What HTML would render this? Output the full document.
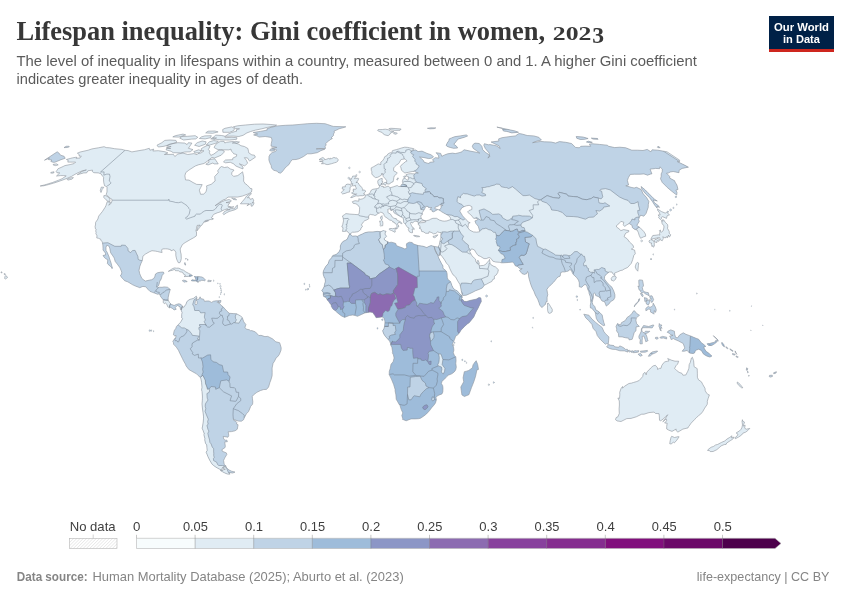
<!DOCTYPE html>
<html lang="en"><head><meta charset="utf-8"><title>Lifespan inequality: Gini coefficient in women, 2023</title>
<style>
html,body{margin:0;padding:0;background:#fff}
svg{display:block}
text{font-family:"Liberation Sans",sans-serif}
.title{font-family:"Liberation Serif",serif;font-weight:700;font-size:26.5px;fill:#373737}
.sub{font-size:14.7px;fill:#5b5b5b}
.lg{font-size:12.2px;fill:#3f3f3f}
.ft{font-size:12.8px;fill:#858585}
.logo{font-weight:700;font-size:11.8px;fill:#fff}
</style></head><body>
<svg width="850" height="600" viewBox="0 0 850 600">
<rect width="850" height="600" fill="#fff"/>
<text x="16.5" y="40.4" class="title"><tspan textLength="528.5" lengthAdjust="spacingAndGlyphs">Lifespan inequality: Gini coefficient in women,</tspan> <tspan x="552.8" y="40.4" style="font-size:18.4px" textLength="38.6" lengthAdjust="spacingAndGlyphs">202</tspan><tspan x="592.2" y="43.2" style="font-size:22.4px" textLength="11.8" lengthAdjust="spacingAndGlyphs">3</tspan></text>
<text x="16.5" y="66.2" class="sub" textLength="680.5" lengthAdjust="spacingAndGlyphs">The level of inequality in lifespans within a country, measured between 0 and 1. A higher Gini coefficient</text>
<text x="16.5" y="84.2" class="sub" textLength="286.5" lengthAdjust="spacingAndGlyphs">indicates greater inequality in ages of death.</text>
<g><rect x="769" y="16" width="65" height="36" fill="#002147"/><rect x="769" y="49" width="65" height="3" fill="#ce261e"/>
<text x="801.5" y="31" text-anchor="middle" class="logo" textLength="55" lengthAdjust="spacingAndGlyphs">Our World</text>
<text x="801.5" y="42.9" text-anchor="middle" class="logo" textLength="37" lengthAdjust="spacingAndGlyphs">in Data</text></g>
<g id="map">
<defs><clipPath id="land"><path d="M349.2,234.6L350.5,234.3L352.4,236.2L355.5,235.9L357.3,236.4L359.9,235.1L362.3,234.0L364.9,232.7L368.6,231.9L373.0,231.9L377.1,231.4L380.8,231.7L383.4,230.6L384.5,230.9L386.1,231.4L385.0,233.0L385.3,234.6L386.5,236.2L384.3,238.5L384.4,239.8L386.6,241.2L389.3,242.5L391.3,242.2L393.6,242.7L395.8,243.5L396.4,245.6L399.1,246.7L402.3,247.8L405.0,249.1L406.9,247.5L406.3,245.1L406.7,243.5L409.3,242.2L412.2,242.5L413.6,244.1L415.4,244.6L418.2,245.6L422.9,246.2L426.8,247.5L428.9,246.4L431.1,245.6L433.3,246.2L434.0,246.4L435.0,250.1L437.7,255.1L438.6,257.8L439.9,260.4L441.5,263.6L443.0,266.0L442.9,268.3L446.3,271.0L447.1,273.6L447.3,277.3L447.9,279.4L450.5,281.5L451.9,285.5L453.1,287.9L454.8,289.7L457.2,290.8L460.1,294.2L461.8,295.5L462.3,297.6L461.2,298.7L462.2,298.9L464.1,301.3L466.4,301.6L469.9,300.5L473.3,299.7L476.1,299.2L479.0,297.6L480.9,297.9L481.3,301.6L480.0,303.9L478.2,307.9L476.0,311.9L473.8,317.1L469.2,322.7L467.6,323.7L464.6,326.4L461.1,330.1L459.0,333.5L457.4,335.1L455.7,336.1L454.5,339.6L453.3,342.2L452.3,344.8L453.5,346.9L453.9,350.1L453.3,352.7L454.4,355.4L455.8,356.7L456.1,360.7L455.8,363.3L456.3,367.2L455.7,369.9L454.2,372.0L451.8,373.8L448.3,375.2L446.8,376.5L444.6,379.1L442.0,381.2L441.4,383.6L442.7,385.7L443.0,388.3L442.8,392.0L442.0,393.9L438.0,395.5L435.9,397.3L436.4,399.7L435.5,402.9L433.9,405.2L431.5,407.9L429.4,410.8L426.5,413.9L423.9,416.0L420.6,418.2L418.6,418.7L415.0,418.9L411.0,418.9L406.1,420.8L403.5,419.7L402.6,419.5L402.7,418.4L401.8,415.5L402.8,412.9L401.2,409.4L400.0,405.5L399.2,404.4L397.5,401.5L396.2,399.2L395.9,394.9L395.1,391.0L395.1,389.4L393.6,384.4L391.4,379.1L389.2,374.6L389.3,371.2L390.2,368.6L391.0,364.3L393.1,361.7L394.1,358.0L393.4,354.8L392.3,352.7L392.7,352.2L391.9,347.5L390.7,345.1L390.5,343.5L389.6,341.1L387.7,339.0L385.4,336.4L383.8,334.0L382.6,330.8L383.8,329.0L384.2,327.9L384.5,326.4L384.9,322.9L384.9,321.1L384.2,318.7L382.8,317.1L381.4,317.1L378.4,317.4L376.1,317.7L374.7,315.3L372.6,312.4L370.0,312.1L367.7,312.4L364.9,312.9L361.6,314.4L359.8,315.3L357.4,316.3L355.1,315.5L352.8,315.0L349.3,315.5L344.6,317.4L341.2,315.8L337.0,312.4L335.4,310.8L333.1,309.2L331.4,306.6L331.2,304.7L330.3,303.9L328.5,301.3L327.3,300.0L326.0,297.6L323.5,296.3L323.3,294.4L323.3,292.6L321.7,290.2L322.7,289.4L324.1,286.8L324.6,284.2L325.4,281.3L325.0,278.1L324.3,277.8L323.2,274.1L323.1,272.8L323.6,270.4L325.7,266.5L328.1,263.8L329.3,260.2L331.6,257.8L332.4,255.9L333.1,255.4L336.2,254.4L339.2,251.7L340.4,248.8L340.3,245.9L341.5,243.3L343.3,241.2L345.3,240.4L347.1,239.3L348.3,236.7Z"/><path d="M476.2,360.7L477.7,364.6L478.5,369.4L476.9,369.9L475.6,376.2L473.8,381.8L471.5,387.6L468.9,394.7L464.4,396.5L461.9,394.9L461.3,390.7L460.8,387.0L463.7,381.8L463.1,377.8L464.3,371.7L466.4,371.2L468.8,370.4L472.4,367.8L473.0,364.9L475.0,362.0Z"/><path d="M350.3,233.8L349.9,234.0L348.3,232.7L346.9,230.9L344.9,231.4L342.5,231.4L343.1,227.7L341.8,226.9L342.7,224.6L343.5,220.9L343.2,218.0L342.4,216.0L344.4,214.7L345.9,213.6L349.9,214.1L354.1,214.4L358.3,214.7L359.2,213.1L359.6,209.2L359.6,207.4L357.6,204.8L355.9,203.8L353.1,203.3L352.3,201.7L355.0,200.7L358.8,201.2L358.9,198.5L359.9,199.4L362.3,198.9L365.1,197.4L365.3,195.3L367.1,194.8L368.9,194.1L370.1,192.5L371.4,190.0L372.8,189.3L375.9,188.8L378.0,188.5L379.0,187.8L379.5,186.5L378.8,185.0L378.0,183.5L377.7,181.3L378.5,179.8L380.9,178.6L382.2,178.3L382.2,180.1L381.9,181.3L383.1,181.8L381.8,183.0L381.1,184.3L380.6,185.5L381.7,186.5L383.6,186.5L383.5,187.5L385.8,187.0L388.3,186.0L390.0,187.8L393.4,186.8L397.2,185.5L398.7,186.5L400.8,186.5L401.0,185.3L402.9,183.3L402.4,181.3L403.2,178.8L405.1,178.3L407.0,180.1L408.2,180.1L408.4,178.1L408.4,176.6L406.4,176.1L406.0,174.7L408.5,173.9L410.7,173.7L414.4,173.9L416.1,173.0L418.3,173.0L416.0,172.3L414.8,171.3L412.1,171.5L408.5,172.3L404.9,173.0L403.3,171.8L401.5,170.3L401.0,167.9L400.4,166.5L401.1,165.3L403.3,163.5L405.6,161.6L407.1,160.9L405.3,159.3L404.4,159.0L401.1,159.5L400.2,160.9L399.5,162.3L398.5,163.7L396.4,165.1L394.6,166.8L393.7,167.9L393.6,170.3L393.9,171.1L396.2,172.0L397.3,173.2L396.0,174.4L394.3,175.9L393.8,177.6L393.5,180.1L392.9,182.0L392.1,182.0L389.8,183.5L389.6,184.0L387.3,184.0L386.6,182.5L386.8,180.8L384.9,178.3L383.3,176.6L382.9,175.2L382.0,173.0L381.3,175.2L379.1,176.6L377.3,177.4L375.4,177.6L372.8,175.4L371.8,173.9L371.9,171.8L371.3,170.3L371.2,167.9L373.4,166.8L376.0,165.3L378.2,163.9L380.8,164.6L380.8,162.1L382.5,160.9L384.0,158.6L384.7,156.7L387.0,155.6L387.8,154.0L390.2,152.7L391.8,153.1L392.4,150.7L394.0,150.2L396.4,149.6L398.8,148.9L401.5,148.0L404.7,147.2L407.6,147.4L409.4,147.8L413.9,148.7L412.5,150.2L415.8,150.0L418.1,151.6L422.0,151.1L427.0,153.4L430.9,154.7L433.5,156.7L432.0,158.1L428.7,158.6L423.1,157.4L419.5,157.0L423.4,160.4L424.0,162.1L427.4,163.2L429.2,163.5L429.8,162.3L434.1,161.8L432.5,159.7L435.3,157.7L439.0,158.1L438.3,155.2L436.1,152.7L440.7,153.4L441.8,156.3L444.7,154.9L447.7,153.8L452.5,153.1L455.3,153.6L459.1,152.7L462.0,151.8L463.6,150.0L464.4,149.8L470.1,151.1L473.9,151.8L475.9,152.2L479.8,153.1L476.6,150.7L473.3,148.5L472.3,146.3L473.3,144.2L475.0,143.1L479.3,143.5L481.8,146.3L482.7,149.6L485.2,152.2L488.0,154.0L490.0,156.3L487.9,158.1L489.6,155.2L489.0,152.9L485.3,148.5L483.8,145.2L484.4,143.7L488.4,144.8L489.9,144.6L493.6,145.2L496.6,145.9L500.2,148.5L499.0,145.9L491.1,142.0L498.9,141.0L498.6,138.9L502.0,137.7L508.7,136.7L515.4,135.9L519.0,133.5L522.3,134.1L527.2,135.5L533.8,135.9L538.8,137.3L541.4,140.0L537.1,141.0L532.6,142.7L536.7,142.0L540.8,141.4L544.5,141.8L551.1,142.0L555.6,143.1L559.4,141.6L565.8,142.3L571.5,143.5L575.5,147.4L579.3,147.8L580.8,146.3L585.4,146.1L590.6,146.3L589.4,144.2L592.0,143.7L599.4,144.4L607.2,145.2L608.7,146.3L614.7,147.6L619.9,147.2L625.8,147.8L631.8,150.2L637.7,150.2L643.0,150.5L647.2,149.4L650.9,151.8L652.1,149.8L657.8,150.2L667.0,151.8L679.7,160.2L679.4,161.8L677.3,161.6L685.5,165.6L688.4,167.2L682.1,168.4L679.1,170.3L679.0,172.7L673.2,171.5L670.1,172.0L668.5,173.0L666.5,173.2L669.7,176.4L669.7,178.1L674.7,180.8L675.0,182.0L676.9,185.0L678.0,189.5L675.9,190.0L677.0,192.5L676.7,195.1L671.8,191.3L667.3,187.5L662.3,182.5L660.5,178.8L661.2,176.4L661.2,173.9L662.2,171.8L662.3,169.1L659.9,166.8L659.6,168.7L655.4,168.4L654.1,168.7L650.1,169.1L651.9,173.9L650.9,173.9L647.6,175.2L644.0,173.9L640.0,174.2L634.4,174.2L630.3,174.4L628.4,177.6L627.4,180.5L628.6,185.0L625.8,185.8L631.8,187.5L634.2,188.0L636.5,187.3L641.1,189.5L643.2,193.8L646.6,197.6L648.9,201.5L648.3,204.5L648.2,207.4L647.1,210.5L646.0,213.6L643.8,216.2L640.7,215.2L639.4,217.3L638.6,219.6L639.3,221.2L638.0,223.5L636.8,225.4L639.9,227.5L643.7,231.4L645.4,234.0L645.7,236.2L643.4,236.9L640.6,238.3L639.2,235.4L638.4,232.7L637.2,230.1L634.5,229.3L632.3,227.5L632.1,225.4L629.2,223.5L626.9,224.8L624.6,226.4L623.2,224.8L623.8,222.2L620.9,221.4L618.8,223.8L616.5,225.6L616.5,226.9L619.0,228.8L620.9,230.6L623.7,229.6L626.1,230.1L628.8,230.6L628.8,231.7L625.9,233.0L625.2,234.0L624.1,236.7L627.2,238.8L629.5,242.0L632.9,245.1L633.7,247.2L632.3,248.6L631.4,249.1L634.6,250.1L635.3,253.8L633.8,255.4L632.7,259.6L631.3,263.3L630.2,264.6L627.6,267.5L624.0,269.1L622.4,270.2L620.9,270.4L617.7,271.8L614.5,273.1L614.9,275.5L612.7,273.6L612.0,272.0L609.3,272.0L606.6,273.9L604.7,276.2L604.4,278.9L606.7,282.0L609.8,285.5L611.6,286.8L613.7,290.8L614.9,294.7L614.9,297.3L613.5,300.0L610.6,301.6L609.2,303.7L606.3,306.1L605.2,303.2L604.4,301.6L602.0,301.0L600.7,298.9L598.9,296.8L595.7,295.5L595.3,293.7L594.3,293.1L593.3,293.9L593.4,297.3L592.7,300.0L592.2,302.6L593.0,304.7L594.8,306.6L595.9,310.0L598.0,311.1L599.8,312.6L602.2,315.0L602.8,318.4L603.8,322.4L604.8,325.3L603.2,325.6L600.1,323.2L598.0,321.4L596.3,318.4L595.7,314.8L595.1,312.1L593.8,310.8L592.8,309.2L591.1,307.9L590.4,307.9L590.3,305.3L590.8,302.6L590.5,298.7L590.3,296.6L589.1,293.4L588.9,291.8L587.6,288.9L586.7,285.5L585.0,284.4L583.5,285.5L581.7,287.3L579.3,286.8L579.3,282.8L578.5,280.2L576.7,277.6L574.9,276.0L573.0,274.1L572.1,272.3L571.3,270.2L569.4,269.7L568.5,271.0L566.3,271.5L564.1,272.0L562.9,271.8L560.7,272.6L560.5,274.4L560.1,276.2L557.9,277.0L556.5,278.6L554.9,280.7L553.5,282.3L551.4,284.4L549.7,286.0L548.3,287.3L546.9,289.4L547.5,293.4L547.8,294.4L547.1,297.3L547.1,301.8L546.0,301.8L545.4,304.5L543.6,305.8L542.1,307.6L539.9,305.5L539.1,302.9L537.7,299.2L535.3,295.0L533.9,291.3L532.2,288.1L530.7,284.2L529.2,279.1L528.5,276.2L528.4,273.3L527.5,271.5L527.0,272.8L526.8,273.6L524.4,274.4L522.0,273.6L519.4,270.4L522.2,268.6L520.4,268.9L517.9,267.0L517.1,266.2L515.5,266.0L514.1,263.6L512.7,262.0L508.3,262.5L503.3,262.8L501.5,262.8L499.4,262.3L495.7,262.0L492.9,261.2L490.8,258.3L489.1,257.5L486.3,258.6L484.0,258.6L480.6,256.5L478.0,255.4L476.1,252.8L474.4,249.9L471.6,248.8L470.8,250.1L469.7,251.5L470.9,253.8L472.0,255.9L474.0,257.8L475.5,259.1L475.8,261.5L477.3,263.6L477.1,261.7L477.9,260.2L479.0,262.3L479.2,264.1L478.6,264.9L480.2,265.7L483.6,265.4L485.6,264.4L487.4,262.3L489.0,260.4L489.5,259.4L490.0,263.1L490.8,264.6L494.0,266.5L495.3,266.8L498.4,269.7L497.7,272.6L496.3,274.9L494.4,276.2L494.4,278.9L492.8,279.4L491.8,281.5L489.0,282.8L486.5,284.2L484.3,285.2L482.4,287.9L479.7,289.2L475.4,290.8L473.0,292.1L469.6,293.7L466.2,295.2L462.7,295.5L462.0,293.9L461.1,290.0L460.5,286.8L459.9,284.4L457.3,280.2L455.5,276.8L453.1,274.9L451.6,272.3L449.7,268.3L448.6,265.4L446.4,263.1L444.6,259.9L442.1,256.5L440.8,254.9L439.9,254.9L440.5,251.2L440.3,251.2L439.5,255.1L439.1,255.9L437.7,254.6L436.7,253.6L435.3,250.1L434.2,246.4L437.4,247.0L438.5,246.4L439.4,244.3L439.6,242.5L440.4,239.6L440.9,238.0L440.8,235.4L441.1,232.5L439.6,232.5L437.5,231.9L435.8,233.5L433.4,233.8L431.9,232.7L429.0,231.7L428.7,233.3L425.7,233.3L423.6,231.9L421.6,231.4L421.1,229.0L419.0,228.0L420.3,227.7L419.6,225.4L418.3,224.8L418.4,223.5L418.7,223.0L421.1,222.7L424.2,222.5L426.1,221.6L424.1,220.9L424.2,220.4L426.2,220.7L429.1,220.1L430.8,219.1L432.9,218.3L436.5,218.3L439.5,220.1L442.2,220.9L444.2,221.2L446.9,220.9L450.5,219.6L450.6,218.0L448.7,215.7L445.7,214.1L441.7,211.8L440.0,210.5L438.4,209.7L439.8,209.7L441.0,207.9L441.0,206.1L443.1,205.1L439.4,205.1L438.2,206.1L435.2,207.1L434.9,208.7L437.9,209.5L436.0,210.5L433.7,211.8L432.2,211.5L432.0,210.0L429.8,209.5L431.8,207.6L428.5,207.6L428.1,206.4L426.2,206.4L425.6,206.6L424.9,208.4L424.0,210.0L422.3,212.6L422.4,214.7L421.0,215.2L420.8,217.0L421.6,218.6L422.2,219.6L424.0,220.3L423.8,220.9L421.9,220.9L420.9,221.2L419.3,222.5L418.3,223.4L417.9,221.7L415.5,221.2L414.3,221.2L413.1,222.7L412.1,222.9L411.1,222.0L410.6,223.5L411.4,225.4L412.2,226.2L411.8,226.7L414.1,228.3L414.2,229.6L413.3,229.0L412.0,229.0L412.5,230.4L412.5,232.7L411.2,232.7L409.4,231.9L408.3,229.6L409.1,228.0L407.8,227.7L406.8,226.4L405.6,224.6L404.9,223.8L403.7,222.5L403.5,220.1L403.3,218.6L402.2,217.5L400.4,216.6L398.0,215.2L396.6,214.4L394.0,212.8L393.2,210.5L392.1,209.7L391.2,211.0L390.2,209.2L390.8,208.8L389.3,208.8L387.7,209.5L388.0,210.8L387.9,212.6L390.5,214.1L392.2,217.0L394.0,218.3L396.3,218.6L396.0,219.3L398.2,220.7L400.6,221.8L401.8,223.3L401.5,224.1L400.5,222.9L398.9,222.2L397.9,223.0L397.6,224.3L399.0,226.2L398.0,226.7L397.8,227.7L397.0,228.9L396.0,228.8L396.3,227.2L397.1,226.2L396.6,225.1L395.6,223.4L394.3,223.0L394.0,222.0L392.7,222.0L392.6,221.3L391.5,220.4L389.8,220.1L388.0,218.8L386.9,217.8L385.6,217.3L384.3,215.7L383.8,214.3L383.1,213.1L380.8,212.1L379.3,213.1L377.9,213.6L376.0,215.2L374.6,215.4L373.5,214.9L371.8,214.7L370.3,214.4L368.9,215.4L368.5,217.0L368.9,218.6L366.8,219.9L364.7,220.7L363.6,221.7L362.1,223.8L361.5,224.8L362.5,226.7L361.0,228.0L360.6,229.8L358.0,231.7L356.7,231.9L354.5,232.2L352.5,232.2Z"/><path d="M57.2,151.8L58.8,152.9L60.6,155.2L64.1,156.3L65.2,158.3L61.0,159.7L54.8,162.3L53.1,162.3L50.8,161.4L51.9,160.0L48.1,159.5L49.6,157.9L44.5,160.2Z"/><path d="M692.4,357.2L693.6,360.7L694.1,366.7L697.2,368.6L697.4,373.6L697.4,377.3L698.5,379.8L701.4,381.8L702.9,384.7L705.0,388.3L705.2,390.5L705.9,392.0L707.8,394.4L709.4,394.9L708.1,398.6L707.3,401.3L707.4,403.1L707.1,404.6L704.7,408.1L702.6,411.8L700.6,414.2L698.3,415.8L696.0,418.2L694.4,419.7L691.1,423.2L688.6,426.7L688.0,427.9L682.9,429.1L677.9,432.1L675.9,430.3L676.2,429.0L672.0,431.4L668.6,430.1L666.7,429.0L666.7,426.3L667.2,423.2L664.6,423.0L666.6,420.8L666.3,418.9L662.8,421.8L665.3,418.7L667.7,414.7L664.6,417.9L661.2,420.5L660.8,420.8L659.5,420.3L659.3,415.8L659.0,413.7L655.4,413.4L654.1,412.1L649.0,412.6L644.0,414.2L641.7,414.2L636.3,416.8L631.0,418.4L626.8,418.6L621.0,421.5L617.1,420.9L615.5,419.7L616.1,417.6L617.9,416.8L619.3,413.4L619.1,408.9L619.4,405.0L619.3,401.0L617.9,398.0L619.5,398.4L619.8,394.7L619.7,392.3L621.0,388.6L622.5,386.5L622.6,388.1L624.8,386.1L628.9,383.5L631.5,383.1L633.4,382.5L636.8,381.5L639.3,380.4L642.7,376.5L643.2,373.8L645.0,372.3L646.2,374.8L646.9,371.9L649.1,369.9L650.7,368.0L653.1,365.9L655.4,365.3L657.5,367.8L657.5,369.4L659.7,368.3L661.0,368.3L661.7,365.7L663.2,363.3L664.9,361.8L667.6,361.2L669.0,360.9L667.7,358.5L671.2,360.1L675.0,361.2L678.7,361.2L677.6,364.1L676.0,365.7L674.6,368.4L677.1,370.9L679.1,372.3L682.0,373.4L682.9,375.2L685.8,375.0L687.8,371.2L688.9,368.3L689.2,364.6L690.3,362.4L691.4,358.0Z"/><path d="M628.0,350.5L629.7,350.4L630.8,351.2L629.5,352.2Z"/><path d="M617.5,323.5L616.0,326.4L616.8,329.1L616.5,330.8L618.4,333.5L618.7,336.8L622.2,336.9L625.2,337.7L628.7,338.2L629.1,339.9L632.2,339.3L633.4,335.6L634.2,332.4L636.0,330.8L636.1,326.9L639.3,326.4L636.6,323.6L635.9,320.3L636.4,317.8L639.5,315.3L636.8,313.6L634.5,310.8L633.7,310.8L632.0,313.3L629.7,315.8L627.3,317.3L625.2,320.6L621.4,322.7L620.7,324.8L619.0,324.5Z"/><path d="M721.9,342.3L723.8,344.6L724.5,346.8L723.0,345.9L721.7,343.8Z"/><path d="M350.6,197.5L352.0,197.6L353.8,196.7L356.1,195.8L358.1,196.1L359.9,195.7L362.7,195.7L364.1,195.2L364.9,194.7L364.9,194.1L363.5,193.8L364.1,193.1L365.3,192.0L365.6,191.0L364.7,190.1L362.9,190.1L362.3,190.3L362.7,189.3L362.3,188.5L361.7,187.3L360.9,186.3L359.6,185.5L359.0,184.3L358.2,183.0L357.3,182.5L355.9,182.5L357.1,181.8L358.1,180.1L358.7,178.8L358.3,178.3L355.8,178.3L354.5,178.6L354.7,177.8L356.2,176.5L356.4,176.0L352.7,176.1L352.1,177.6L351.0,179.3L350.2,180.8L351.5,181.5L351.0,184.3L352.8,183.5L352.2,185.8L353.5,185.8L355.5,185.3L355.3,186.8L356.2,187.5L356.2,189.0L355.4,189.3L353.2,189.1L353.6,190.3L352.8,190.5L354.0,191.4L352.7,192.3L351.5,192.8L352.1,193.6L353.7,193.6L355.7,194.1L356.7,193.8L356.1,194.6L353.7,194.6L353.1,195.3L352.0,196.6Z"/><path d="M655.5,337.4L657.6,337.2L658.2,338.5L656.8,339.2L655.4,338.5Z"/><path d="M382.0,215.7L382.1,216.5L382.3,218.3L381.7,219.9L380.6,218.6L380.6,216.9L381.4,216.5Z"/><path d="M413.7,235.4L414.7,235.4L417.3,235.8L419.4,236.2L419.6,236.7L418.7,236.7L416.6,236.8L414.8,236.2L413.9,236.0Z"/><path d="M437.9,234.8L436.6,236.4L436.0,236.9L434.7,237.7L433.3,237.3L433.0,236.4L434.3,236.2L435.1,235.8Z"/><path d="M769.5,375.4L772.3,375.2L772.4,376.5L770.2,377.1L769.2,376.5Z"/><path d="M773.6,372.8L776.4,371.7L776.1,373.0L773.8,373.8Z"/><path d="M640.3,351.2L643.1,350.9L647.3,350.4L647.7,351.2L645.3,352.2L640.7,352.2Z"/><path d="M427.4,128.3L430.7,127.8L435.8,127.9L434.1,128.6L429.9,128.8Z"/><path d="M381.1,183.8L382.4,183.5L383.1,184.3L382.5,185.0L381.3,184.5Z"/><path d="M396.7,179.8L397.8,177.8L398.4,178.1L398.0,179.3L397.1,180.2Z"/><path d="M611.2,278.4L612.7,276.4L614.9,276.0L616.3,277.0L615.5,279.4L613.5,281.0L611.5,280.2Z"/><path d="M659.3,323.5L660.3,325.0L661.9,325.0L660.8,326.9L662.2,328.2L660.3,327.9L661.2,331.1L660.1,329.8L659.4,326.9L658.9,326.4Z"/><path d="M660.4,219.6L661.4,218.8L661.2,217.5L662.6,216.7L666.5,218.4L667.2,215.7L669.5,214.8L666.8,212.3L665.2,213.1L661.4,211.5L657.7,209.2L657.4,210.0L659.2,212.3L660.2,214.9L658.2,214.9L659.2,216.7L658.6,217.5Z"/><path d="M662.6,219.7L663.7,219.9L665.2,222.2L667.6,224.6L667.8,226.4L667.5,228.3L669.2,231.4L669.3,233.3L670.7,234.8L670.1,236.4L669.4,236.9L668.4,235.1L668.5,236.2L667.5,236.4L667.7,237.7L666.3,236.7L666.1,237.7L664.1,237.6L662.8,236.7L663.3,238.3L662.8,239.6L662.2,240.8L660.1,239.6L660.0,238.8L659.8,237.7L658.3,237.5L656.8,238.0L654.0,238.5L651.0,239.3L651.2,238.3L652.8,235.5L656.2,235.2L658.4,234.8L659.9,235.1L659.6,233.5L660.1,231.9L659.4,230.6L660.6,230.1L660.4,231.3L661.3,232.1L663.0,231.0L663.6,229.0L664.0,226.9L663.6,225.4L662.2,223.8L661.8,222.0L661.5,220.3L663.0,221.3Z"/><path d="M321.4,163.7L324.5,163.7L326.1,164.4L327.9,164.6L331.6,163.7L334.4,162.8L336.3,162.3L338.0,160.9L338.2,159.7L336.6,157.8L335.9,158.1L333.9,157.4L331.6,158.6L330.3,158.2L330.1,159.3L328.9,158.3L326.4,159.3L324.6,159.7L324.4,158.6L322.9,157.5L320.4,158.6L319.0,159.7L322.5,159.7L323.2,160.9L319.5,161.4L323.0,161.8L322.9,162.5L322.8,163.0Z"/><path d="M349.5,192.1L349.8,190.0L350.1,189.3L349.9,187.5L351.3,186.6L351.0,185.8L350.3,184.5L347.9,184.1L346.0,184.6L345.1,185.9L345.5,186.8L342.5,186.9L342.2,188.9L344.3,189.5L343.3,190.3L342.5,191.2L341.4,192.3L341.7,193.1L342.5,193.9L345.1,193.4L347.2,192.5L348.0,192.2Z"/><path d="M606.6,346.9L608.6,344.6L610.5,345.1L613.9,345.6L614.6,346.8L618.7,347.3L619.7,345.9L621.8,346.7L624.0,348.0L625.6,349.4L627.4,349.3L627.8,350.6L627.9,352.1L624.5,350.9L619.9,350.8L615.3,349.4L612.3,349.3L609.4,348.4Z"/><path d="M650.9,239.6L652.9,240.2L654.2,242.2L654.3,244.9L654.3,246.3L653.4,247.2L652.7,245.6L652.1,246.6L651.3,244.3L651.6,243.0L649.8,242.9L649.0,241.4L649.3,240.6L650.1,240.4Z"/><path d="M631.2,351.2L632.4,350.6L633.1,351.4L632.3,352.5L631.2,352.2Z"/><path d="M638.8,280.2L639.7,279.9L642.5,280.2L643.2,283.4L643.5,286.0L642.3,287.3L642.9,290.2L644.3,291.8L646.2,292.3L648.3,292.6L649.2,295.8L647.2,294.7L645.5,293.9L643.5,292.3L641.7,292.9L640.6,291.5L641.1,290.5L640.2,290.8L639.2,290.0L638.4,287.3L637.9,286.0L639.2,286.5L638.8,282.8Z"/><path d="M653.2,303.2L655.4,307.1L656.3,310.0L655.5,312.4L654.3,310.5L653.9,314.2L653.1,313.4L650.4,311.9L650.7,309.7L648.8,309.0L645.9,310.8L645.8,308.4L647.3,307.1L648.6,306.3L649.9,307.4L651.7,306.6L652.9,305.3Z"/><path d="M640.4,293.4L642.2,293.7L643.2,295.8L642.6,296.8L641.5,295.5Z"/><path d="M646.9,300.0L648.3,300.2L649.4,299.5L649.7,302.6L648.3,305.0L646.6,304.2L646.0,302.6Z"/><path d="M707.1,343.8L709.9,343.5L711.1,343.0L714.6,342.2L716.2,340.1L716.6,342.2L714.5,343.8L711.8,345.5L708.6,345.4Z"/><path d="M737.4,382.0L740.2,384.4L742.8,387.8L741.6,387.8L738.8,385.4L737.1,383.1Z"/><path d="M667.9,331.2L670.7,329.9L674.4,331.2L674.7,334.3L675.6,337.4L677.6,337.8L679.8,334.8L683.3,332.8L685.9,334.3L689.8,335.7L690.5,335.9L693.6,337.3L696.4,338.4L698.6,339.2L701.3,342.7L704.0,344.7L705.8,346.4L703.8,346.8L704.4,348.8L706.3,351.6L708.6,352.9L710.1,354.6L711.9,356.0L709.9,357.1L706.5,355.9L703.5,354.1L701.3,350.4L698.6,349.2L696.4,350.1L695.1,351.2L694.5,353.0L693.0,353.5L689.4,353.0L687.2,350.4L684.4,351.2L682.1,351.2L684.8,348.0L683.2,343.5L678.5,341.0L674.4,339.2L673.4,338.6L671.2,339.6L670.2,336.8L669.5,336.3L673.0,335.3L670.7,334.8L669.3,333.2L667.3,332.4Z"/><path d="M713.3,335.7L716.0,338.0L718.2,340.3L717.8,341.5L716.9,339.3L714.6,337.0Z"/><path d="M576.8,138.3L576.2,136.5L583.4,137.1L588.1,138.5L584.7,139.3L580.3,139.5Z"/><path d="M591.3,138.1L597.5,138.5L598.1,139.3L593.0,139.1Z"/><path d="M586.4,142.0L588.4,141.2L592.3,142.3L589.7,142.7Z"/><path d="M446.6,145.9L446.2,145.2L447.0,143.5L447.8,142.0L448.8,141.0L449.2,138.9L451.6,137.9L454.7,136.7L460.2,135.9L466.3,134.9L467.6,135.9L464.4,137.3L458.6,138.9L457.0,140.2L455.8,142.0L453.8,144.2L456.6,146.3L457.6,148.0L453.5,148.3L450.7,147.6L447.8,146.7Z"/><path d="M742.4,419.7L742.8,421.3L744.5,422.1L743.2,426.1L745.2,425.3L744.7,427.4L744.8,428.3L746.3,429.2L749.8,428.4L747.8,430.5L745.8,432.1L742.9,433.2L741.6,435.0L738.5,437.1L735.4,438.7L734.9,437.9L737.2,435.8L738.0,434.3L736.5,433.4L736.5,432.6L737.7,432.0L739.6,430.8L741.1,429.2L741.9,427.6L742.1,426.7L742.5,425.0L742.2,422.6L742.0,421.8Z"/><path d="M732.0,435.8L731.8,436.6L731.5,437.9L734.2,437.1L732.9,439.0L730.3,440.7L726.7,443.0L726.1,444.4L724.2,444.6L721.1,445.9L719.0,447.8L716.8,449.7L713.1,451.5L710.2,451.6L709.5,450.6L707.6,450.5L708.3,449.3L711.2,447.2L713.4,446.5L715.7,444.9L717.5,444.5L721.7,442.3L724.9,440.9L727.0,439.0L729.4,437.6Z"/><path d="M634.3,306.8L635.1,305.5L637.6,302.6L639.1,301.0L639.8,298.7L638.7,299.2L638.4,301.3L636.5,302.9L634.6,305.3Z"/><path d="M644.3,297.6L647.2,298.4L647.1,300.2L646.1,301.3L644.7,301.3L644.8,300.0Z"/><path d="M403.3,176.9L404.1,176.1L406.0,176.3L405.6,176.9L404.0,177.6Z"/><path d="M641.1,186.5L645.3,190.0L647.7,192.5L651.7,196.4L654.7,199.4L657.3,201.0L653.1,199.9L654.4,202.7L658.5,205.8L659.4,207.4L657.0,206.1L657.2,208.2L654.8,205.3L652.4,201.5L649.5,197.6L645.6,193.8L642.0,189.3Z"/><path d="M649.7,296.0L652.0,295.8L653.6,299.5L652.4,302.1L651.5,302.4L650.4,300.2L651.4,298.7L650.2,298.4Z"/><path d="M381.7,220.3L382.6,221.2L382.9,223.5L382.7,225.8L381.7,225.6L380.8,226.4L380.2,225.6L380.3,223.8L379.9,222.1L379.6,221.0L380.1,221.3Z"/><path d="M659.9,337.4L662.5,336.4L666.7,337.2L666.6,339.0L663.6,338.0L660.6,338.2Z"/><path d="M503.4,131.0L502.1,128.3L496.9,127.1L506.9,129.2L515.2,131.0L518.5,132.3L511.8,132.9L506.8,131.4Z"/><path d="M658.7,238.8L659.5,239.8L658.9,241.3L657.1,240.6L656.8,242.6L655.2,242.0L653.9,241.0L654.9,239.6L656.5,239.3L657.2,238.4Z"/><path d="M389.2,228.8L391.0,228.4L392.4,228.7L395.9,228.1L394.9,230.1L395.4,231.3L395.0,232.3L393.1,231.3L391.7,230.6L389.5,229.7L389.1,229.3Z"/><path d="M725.9,346.7L728.1,348.3L727.6,348.8L725.9,347.5Z"/><path d="M729.9,348.8L733.2,350.9L732.7,351.4L730.1,349.6Z"/><path d="M732.5,353.5L735.2,354.3L734.8,355.1L732.6,354.6Z"/><path d="M735.1,350.9L736.4,353.5L736.8,354.3L735.4,352.5Z"/><path d="M736.1,355.9L738.3,357.0L737.6,357.5L736.0,356.7Z"/><path d="M547.5,303.4L548.4,303.2L550.6,306.6L552.3,309.5L552.1,311.9L550.7,312.9L549.6,313.4L548.4,312.9L547.7,310.8L547.5,307.9L547.6,305.5Z"/><path d="M639.9,342.5L640.0,343.8L642.3,343.8L642.1,340.9L642.4,338.2L642.1,336.4L643.9,336.1L645.2,339.6L645.8,341.8L648.1,340.6L647.5,339.4L647.1,337.4L646.0,334.3L644.6,333.7L647.0,333.2L649.6,331.6L649.7,331.2L648.2,331.4L645.5,331.2L644.2,332.7L643.0,332.4L641.9,331.1L641.8,329.0L642.6,327.7L645.2,327.7L648.9,327.7L652.2,327.9L653.9,325.2L652.9,325.0L648.7,326.5L644.0,325.6L643.5,325.6L641.4,329.0L641.3,331.1L640.0,334.0L638.9,336.1L639.0,338.4L640.4,339.6Z"/><path d="M583.8,314.2L588.9,315.2L591.9,319.0L595.7,322.4L598.3,324.5L602.1,327.4L603.9,331.6L605.5,333.7L608.9,336.9L608.6,340.9L608.2,344.4L606.8,343.5L605.4,344.3L602.9,341.9L600.2,339.3L597.3,335.6L596.0,331.6L593.0,328.2L592.0,324.5L588.4,320.3L585.8,317.9Z"/><path d="M638.2,354.1L640.6,353.5L642.3,355.4L640.3,356.2L638.6,354.8Z"/><path d="M633.3,351.2L635.5,350.6L636.8,350.9L638.7,350.6L638.4,352.1L636.0,352.5L633.2,352.7Z"/><path d="M378.1,129.7L382.4,129.5L385.3,129.2L388.3,129.7L390.1,131.0L394.0,131.8L390.5,132.9L390.1,134.1L388.1,135.7L384.9,134.9L383.2,133.9L382.2,132.5L379.1,131.4L377.5,130.4Z"/><path d="M388.8,128.8L390.8,128.3L395.2,128.5L401.1,129.0L400.1,130.3L395.1,130.4L391.2,129.9Z"/><path d="M394.2,132.5L397.3,133.1L396.2,134.3L393.7,133.7Z"/><path d="M637.4,262.3L638.7,263.1L638.4,265.7L637.8,271.2L636.2,269.4L635.2,267.0L636.1,263.8Z"/><path d="M671.7,436.3L674.6,437.5L678.4,436.6L679.1,436.8L676.8,440.2L674.4,442.8L673.4,442.2L671.1,444.0L669.7,443.7L670.3,440.2L671.1,437.1Z"/><path d="M648.4,356.3L649.8,353.8L652.3,351.9L657.0,351.0L657.7,351.3L655.7,352.7L652.1,354.3L650.3,355.9Z"/><path d="M746.6,367.8L747.8,368.6L747.2,370.4L746.3,370.1Z"/><path d="M747.5,371.2L748.4,372.3L747.6,372.8Z"/><path d="M748.6,375.4L749.4,375.7L748.6,376.2Z"/><path d="M657.4,147.2L658.0,146.3L660.2,147.6L658.9,147.8Z"/><path d="M66.2,146.3L68.8,146.2L69.4,146.8L67.4,147.5L64.0,147.6Z"/><path d="M383.4,183.3L384.9,182.5L386.4,182.4L386.5,183.5L385.8,184.5L385.7,185.3L383.9,184.5Z"/><path d="M231.6,197.9L235.4,198.6L236.6,199.9L233.1,199.4Z"/><path d="M222.9,132.3L229.6,132.3L233.7,130.6L234.6,128.6L231.8,126.9L225.0,128.3L222.7,129.5Z"/><path d="M235.6,165.9L240.7,168.1L243.0,168.9L243.0,167.0L239.3,163.8L244.5,165.8L245.6,165.1L247.6,163.2L246.4,160.4L244.4,157.7L247.4,157.9L249.1,160.4L249.6,161.1L255.4,157.2L254.4,155.2L251.9,154.9L248.8,152.9L248.5,151.3L247.9,148.5L244.4,146.5L240.9,145.7L238.7,144.2L236.1,143.3L233.6,141.5L231.9,141.6L226.5,142.3L224.8,143.0L224.1,141.4L220.5,141.3L216.6,143.5L215.4,145.2L214.0,147.4L215.6,148.5L218.1,149.6L220.6,149.6L223.8,149.8L228.8,149.9L231.0,149.1L231.3,151.1L232.9,152.5L233.7,153.8L236.7,154.5L236.5,156.3L232.8,158.1L232.7,159.7L225.5,160.0L223.5,161.8L225.6,162.8L230.3,162.3L233.8,163.9Z"/><path d="M185.3,258.8L186.4,258.6L186.1,259.1Z"/><path d="M184.9,262.5L185.7,264.9L185.2,265.2L184.5,263.8Z"/><path d="M187.5,259.1L188.1,259.6L187.7,260.4Z"/><path d="M157.0,145.2L158.3,147.0L164.0,146.3L170.5,144.2L176.8,142.3L175.9,140.4L170.1,140.0L164.8,140.4L161.8,142.7Z"/><path d="M199.4,138.5L205.2,138.9L210.5,137.7L211.3,135.7L204.9,135.9L201.4,136.9Z"/><path d="M232.3,143.1L236.9,143.3L239.5,142.0L235.3,141.4Z"/><path d="M210.7,138.9L214.8,139.5L216.5,137.9L212.9,137.7Z"/><path d="M168.3,271.4L171.9,269.0L172.8,268.5L174.7,267.9L176.5,268.2L178.2,268.1L180.0,268.6L181.1,269.5L183.6,270.2L185.3,271.5L186.0,272.0L188.3,273.2L190.7,274.4L192.5,275.6L190.4,276.4L188.5,276.4L184.1,276.6L185.6,275.3L183.8,274.4L182.5,272.2L179.8,271.8L178.6,270.8L176.7,270.7L175.4,270.7L174.6,269.3L172.2,270.4L170.8,270.6Z"/><path d="M212.4,138.1L217.2,139.5L223.1,140.0L229.4,140.0L236.6,139.3L237.0,137.7L231.9,137.3L225.3,137.7L224.7,136.1L221.5,135.5L215.8,135.1Z"/><path d="M271.8,151.1L274.6,150.5L274.4,149.1L270.7,148.9L269.7,150.5Z"/><path d="M225.2,136.3L233.1,136.1L238.9,136.5L243.1,135.3L246.9,132.9L250.4,131.6L255.5,130.1L261.8,128.8L267.4,127.4L274.3,126.1L276.6,125.1L270.9,124.5L263.1,124.0L254.7,124.2L245.5,125.0L237.5,125.8L233.4,126.8L235.6,128.5L239.5,128.8L236.0,129.9L237.0,131.0L231.6,132.5L228.6,133.9Z"/><path d="M280.3,173.2L278.1,172.4L277.0,171.1L273.6,170.3L271.5,167.9L271.2,165.6L269.8,162.8L268.9,160.0L269.0,156.4L270.4,154.0L272.2,152.5L275.7,151.3L276.6,149.8L271.6,148.0L276.9,147.4L271.0,146.1L271.3,143.5L272.0,140.0L271.3,137.5L267.8,136.9L265.1,136.5L259.2,137.1L256.7,135.8L253.6,134.9L257.6,134.0L253.2,132.5L260.2,131.4L267.2,130.1L266.9,128.8L271.1,127.3L277.3,125.9L285.5,125.3L292.7,125.0L300.0,124.4L307.3,123.7L316.6,123.3L325.1,123.7L327.6,124.5L331.3,125.8L333.2,126.4L345.8,126.8L342.8,127.8L339.0,128.8L336.6,130.1L334.1,131.0L334.4,132.9L333.4,133.9L333.6,135.4L331.0,137.9L332.4,138.5L329.7,140.0L328.7,141.0L326.8,142.5L325.7,143.5L326.2,145.0L325.1,146.3L325.5,148.5L318.8,148.5L316.2,148.9L320.4,148.9L324.8,149.2L320.8,150.7L317.3,152.7L311.1,153.8L307.3,153.8L303.6,156.5L299.0,158.8L296.0,159.5L292.2,159.7L290.5,161.8L289.1,164.4L286.9,166.3L285.1,167.9L283.4,170.3L282.2,171.8Z"/><path d="M103.8,187.3L102.1,189.5L101.0,192.5L100.3,190.5L101.3,187.1Z"/><path d="M4.8,276.9L5.6,275.6L7.1,276.6L7.5,277.6L5.4,279.0L4.7,278.6Z"/><path d="M194.1,276.6L196.8,276.8L198.1,276.5L200.2,276.8L201.9,277.0L203.7,278.1L204.6,278.9L205.4,279.9L204.5,281.0L203.9,280.5L201.7,280.3L200.3,281.0L198.9,281.0L198.0,282.6L197.3,281.5L195.6,281.0L192.7,281.0L191.2,280.6L192.1,279.8L195.3,280.2L196.1,280.1L195.5,278.6L195.6,277.7L194.7,277.0Z"/><path d="M182.3,280.7L183.4,280.2L185.6,280.5L186.6,281.0L187.1,281.8L185.7,281.7L184.9,282.3L183.3,281.5Z"/><path d="M-2.2,270.7L-1.3,270.4L-1.2,271.1L-1.9,271.2Z"/><path d="M193.7,151.6L195.1,152.9L199.6,152.7L201.4,150.9L198.7,149.8Z"/><path d="M67.0,179.3L67.8,180.1L72.1,179.1L73.4,177.6L71.6,177.7L69.4,178.3Z"/><path d="M4.1,273.7L5.1,273.7L5.5,274.4L4.4,274.7Z"/><path d="M179.7,138.1L183.6,140.0L191.7,139.1L195.8,138.9L197.8,137.3L195.2,135.7L187.5,136.3L181.9,136.5Z"/><path d="M104.1,146.7L98.4,147.8L92.0,148.9L88.2,150.2L80.2,152.0L77.4,153.2L79.3,154.7L79.1,156.1L81.4,156.3L80.2,157.4L80.0,158.0L76.0,158.3L76.9,157.3L75.7,157.3L72.3,157.9L70.8,158.3L66.4,159.5L68.2,160.3L67.8,162.1L72.1,162.1L75.6,162.1L74.2,163.5L70.9,164.4L64.9,165.6L63.1,166.5L60.0,167.9L58.1,168.7L56.8,170.6L56.2,171.5L56.9,172.7L59.8,172.9L56.5,176.0L60.3,175.6L63.8,175.6L66.2,175.9L62.1,178.7L58.6,180.2L52.5,182.5L46.4,184.4L44.2,185.0L40.2,186.0L43.6,185.8L48.5,184.6L53.7,183.1L57.0,182.0L63.0,179.9L67.9,178.0L71.7,176.3L75.0,174.3L78.2,172.7L82.3,170.8L86.4,169.9L84.5,170.6L82.0,171.4L78.9,173.7L77.3,174.7L83.8,172.9L86.6,172.9L87.9,170.8L92.5,170.1L92.3,171.5L93.8,172.7L98.3,172.9L101.0,173.8L102.4,175.9L103.6,177.1L103.5,179.9L103.8,182.8L104.6,185.8L107.1,186.8L107.0,189.0L107.0,192.0L106.1,194.6L108.4,196.6L109.9,198.0L112.0,199.4L112.1,200.2L111.7,202.0L110.7,203.8L108.7,205.2L110.7,202.5L107.2,201.7L106.0,205.5L105.1,207.3L102.4,211.5L98.7,216.1L97.9,219.0L95.6,222.4L95.5,225.0L95.1,226.3L95.4,228.8L96.2,229.3L95.7,230.9L96.1,232.5L95.8,233.3L96.6,235.0L97.0,235.8L96.7,237.9L98.5,238.3L100.8,239.3L100.7,240.0L102.4,242.0L102.4,242.9L102.9,245.0L103.0,248.6L103.0,250.0L104.8,252.2L105.5,253.4L105.4,255.1L103.0,255.5L104.3,257.4L105.6,258.6L107.8,259.8L107.4,263.6L108.1,264.4L111.3,267.1L111.9,268.6L112.5,268.2L111.6,265.3L111.1,263.1L110.2,260.4L109.3,258.0L109.1,256.9L108.3,255.1L107.3,252.6L106.0,250.4L106.0,247.2L106.9,245.1L109.2,246.4L109.9,248.8L110.3,251.2L110.8,253.0L112.5,255.4L114.1,257.8L114.4,258.6L115.2,261.5L117.3,264.1L120.0,267.8L121.3,271.0L121.8,272.2L121.5,274.5L120.4,275.2L121.4,277.3L123.0,278.8L124.6,280.7L127.4,281.7L128.8,282.4L132.3,284.6L135.3,286.0L138.5,287.2L139.7,287.7L142.9,286.4L145.8,286.8L148.0,289.4L149.2,290.6L149.9,291.3L152.4,292.3L154.5,293.1L157.5,294.2L159.0,293.9L160.0,294.7L160.3,296.0L162.2,298.7L163.1,299.3L163.3,300.2L163.2,302.6L164.7,303.8L165.3,302.8L166.8,304.2L167.8,306.8L169.5,307.8L170.7,307.4L172.8,308.7L174.1,309.9L176.2,309.3L175.2,307.6L177.4,305.4L180.0,306.8L180.5,309.2L181.1,310.0L182.5,306.2L181.1,304.5L179.0,303.8L176.7,304.3L174.1,305.5L171.2,304.3L169.6,302.6L168.1,300.1L168.2,297.3L169.1,293.4L169.5,291.9L170.3,289.4L167.4,287.2L164.0,286.9L162.1,287.3L159.5,287.2L157.9,287.6L157.6,286.5L158.7,285.5L159.4,282.8L159.9,280.5L160.7,280.2L161.7,277.3L162.0,275.7L164.0,273.2L163.3,272.0L160.6,272.2L157.4,272.8L155.5,274.0L154.8,276.6L153.9,278.4L151.5,279.8L149.5,280.1L145.3,281.1L143.5,279.7L141.8,278.4L140.6,275.7L139.7,273.7L139.0,270.3L139.9,266.2L141.1,263.1L142.3,260.6L142.9,256.2L145.4,254.1L149.6,251.7L152.0,250.7L155.3,251.1L157.5,251.5L159.8,252.1L162.1,252.5L161.7,250.9L161.7,249.6L163.0,248.9L165.5,248.8L167.3,248.9L170.5,249.6L171.0,250.8L174.0,249.7L175.8,252.1L175.8,255.5L176.6,259.0L177.1,260.2L178.3,262.7L179.9,262.7L180.7,261.1L181.3,258.6L181.1,254.0L180.5,252.0L180.2,248.9L182.4,244.6L185.1,242.6L190.1,239.7L193.7,237.7L196.3,236.0L196.5,234.0L196.5,231.7L195.9,231.4L196.4,228.8L197.1,225.5L198.4,225.1L197.5,228.8L196.8,231.0L199.6,227.6L199.9,226.7L199.5,224.8L200.4,226.3L201.8,225.2L203.6,222.4L203.6,222.0L204.8,222.0L207.1,221.3L208.6,220.7L207.9,220.5L205.9,221.0L204.5,221.3L206.6,220.3L208.3,220.1L209.6,220.0L210.1,219.1L210.6,219.6L211.6,219.6L213.2,219.2L213.0,218.1L212.1,219.0L212.0,218.4L211.4,217.4L212.6,216.6L212.8,215.6L214.2,214.0L216.0,213.4L217.2,212.8L218.8,212.4L221.0,211.5L222.1,210.8L224.4,209.8L227.4,208.7L226.8,209.6L230.2,209.6L227.8,210.0L224.5,211.5L223.0,213.6L223.8,214.7L226.2,213.0L229.1,211.5L232.9,210.4L235.0,209.7L237.6,208.2L237.3,207.3L237.5,205.2L236.0,206.2L234.4,208.8L231.7,208.7L228.4,207.3L228.1,205.1L229.9,202.7L226.0,202.6L230.9,201.5L231.3,200.7L229.0,199.5L224.5,200.6L222.1,201.6L219.4,203.1L215.1,205.7L217.5,204.0L219.4,202.4L223.5,199.7L225.1,199.4L228.0,197.1L233.7,197.0L237.3,197.1L242.3,196.1L247.7,194.1L249.4,193.3L251.5,192.0L252.0,188.8L250.0,188.3L249.4,187.3L247.0,184.8L245.4,183.9L243.6,181.2L243.7,177.1L242.6,171.8L240.0,173.9L237.7,175.6L233.6,176.4L231.7,174.4L231.8,172.7L234.0,170.1L230.3,168.9L227.6,167.0L224.4,167.5L221.5,166.5L220.5,167.0L217.7,170.8L218.3,172.6L214.7,176.5L215.1,181.0L211.2,184.3L206.5,185.9L206.9,188.0L206.0,191.9L203.6,194.1L200.6,194.3L199.3,190.1L200.7,187.5L202.2,184.6L196.7,184.4L193.0,182.5L189.0,180.1L185.5,179.9L184.9,175.8L185.7,172.7L188.9,170.1L195.3,166.0L198.8,164.7L204.0,163.5L207.7,160.9L211.9,157.4L214.5,158.0L221.2,155.2L224.1,152.2L224.2,150.9L221.9,150.1L218.8,150.2L213.9,154.0L210.8,155.4L209.3,152.7L209.8,151.1L208.4,149.6L210.0,146.3L207.7,145.2L203.3,147.4L201.3,148.7L201.3,150.7L204.0,150.8L201.1,152.9L198.0,153.6L197.1,154.7L194.0,153.6L187.8,154.5L183.0,153.1L177.9,154.0L174.8,156.5L173.4,154.3L164.4,154.5L167.9,152.9L165.1,151.8L158.3,150.7L152.8,151.0L153.8,149.1L149.9,150.2L149.3,148.3L144.6,149.7L138.0,150.8L131.9,151.9L128.1,150.6L125.0,150.3L121.9,149.4L114.6,148.7L109.7,147.8L106.2,147.6Z"/><path d="M240.4,203.8L242.4,201.5L244.6,198.9L246.8,195.8L250.2,193.6L251.4,193.6L250.6,194.6L247.4,197.8L249.3,197.5L250.3,199.4L252.7,198.4L253.3,199.5L253.8,201.0L252.0,203.0L253.9,202.5L253.8,203.9L252.3,206.2L251.1,206.1L251.2,203.5L246.9,205.7L249.1,203.8L246.0,203.8L243.7,203.8Z"/><path d="M51.2,172.3L54.0,171.8L54.0,172.7L52.3,173.2L50.5,173.0Z"/><path d="M0.9,272.2L1.7,271.8L2.1,272.8L1.1,272.8Z"/><path d="M228.9,206.4L231.7,206.9L233.8,206.7L232.4,207.9L229.8,207.4Z"/><path d="M194.6,145.2L199.1,146.5L205.4,144.2L206.1,141.8L202.2,141.0L197.2,142.7Z"/><path d="M172.8,136.9L178.7,137.1L185.7,134.9L183.0,134.1L175.3,135.7Z"/><path d="M208.0,280.2L211.4,280.6L211.0,281.5L207.8,281.7Z"/><path d="M205.7,132.9L212.7,133.3L218.1,131.9L214.9,131.0L208.0,131.2Z"/><path d="M182.5,306.2L183.6,307.4L186.0,304.2L186.9,301.6L188.8,300.0L190.2,299.3L193.3,298.5L196.3,296.2L197.0,297.9L196.1,300.0L199.0,299.2L200.1,296.8L200.9,298.7L203.6,299.2L204.5,301.3L206.9,301.0L209.0,301.0L211.6,302.4L213.3,301.3L216.1,300.8L218.6,300.8L217.2,302.4L219.4,303.2L221.0,305.3L222.8,306.6L226.9,311.1L229.3,313.3L233.7,313.6L236.6,313.8L240.4,315.9L242.2,317.4L243.8,321.9L245.9,324.5L244.9,327.7L246.8,329.3L249.3,329.7L250.5,330.7L251.8,330.6L255.4,331.9L258.9,335.6L261.0,335.3L264.9,336.6L267.8,336.4L272.5,338.8L275.8,341.8L279.6,342.7L280.2,344.3L281.2,347.9L281.0,350.2L279.3,354.5L277.7,356.7L276.2,357.8L274.4,361.4L273.1,363.3L272.1,368.0L272.2,372.4L272.1,375.8L270.9,379.9L269.9,382.5L268.6,387.0L266.5,389.4L263.8,389.5L260.6,390.5L256.9,392.3L253.5,394.9L252.3,396.3L252.4,398.2L252.8,401.8L252.6,404.2L250.7,406.3L249.7,408.9L248.5,411.6L246.4,413.8L244.2,418.0L243.6,419.7L241.4,421.2L238.6,421.1L234.8,419.9L233.3,418.7L233.7,420.3L235.8,421.3L236.8,422.5L236.5,424.0L238.1,424.7L237.3,429.2L235.1,430.8L231.5,431.6L228.1,431.8L228.6,433.9L228.7,435.8L228.0,437.2L223.2,436.4L223.8,439.2L225.2,440.2L226.7,440.0L227.4,441.7L224.8,441.8L224.9,443.2L225.3,446.2L225.1,447.5L221.9,449.7L222.4,451.3L226.4,452.9L226.8,454.6L225.1,457.3L224.5,458.6L223.6,460.4L224.2,464.4L226.3,466.3L224.1,466.6L222.8,467.2L222.1,468.4L222.1,470.2L219.2,469.0L216.0,467.2L213.6,465.5L212.1,464.2L209.8,460.4L207.9,456.5L206.4,452.7L206.0,452.2L207.2,450.6L206.9,447.5L206.7,444.9L205.5,443.3L204.7,439.7L205.0,438.9L203.8,434.5L204.4,434.1L203.0,430.3L202.1,428.2L202.6,426.1L203.2,422.1L203.5,418.7L203.5,416.2L203.1,413.1L202.4,408.0L202.0,404.0L202.3,400.3L202.4,398.5L202.4,396.0L202.0,391.4L201.6,389.8L202.0,387.3L201.6,382.3L200.7,377.8L198.2,375.6L196.5,373.8L194.8,372.9L191.0,370.8L188.8,369.5L185.8,365.5L186.0,365.1L183.5,360.8L182.3,358.3L179.7,353.0L178.5,350.4L176.3,347.1L173.6,344.3L173.4,342.5L172.8,341.4L174.9,338.2L175.8,337.6L176.0,335.3L174.9,336.0L173.4,334.8L174.0,331.5L174.5,330.1L175.6,328.9L176.5,326.4L178.6,324.3L180.7,322.1L182.6,318.7L181.7,317.9L181.7,314.5L182.1,312.5L181.1,310.0Z"/><path d="M206.3,145.0L209.3,145.2L216.1,143.1L218.4,141.2L213.7,140.6L209.3,141.8Z"/><path d="M211.0,159.3L214.8,158.8L217.5,162.8L218.2,163.9L214.1,163.9L212.9,163.0L208.1,164.9L205.8,164.2L209.1,162.1L208.4,160.4Z"/><path d="M53.2,164.4L56.6,163.9L58.2,164.9L55.5,165.6L53.1,164.9Z"/><path d="M226.1,467.1L227.6,468.7L229.1,470.0L231.6,471.2L235.0,472.1L232.7,473.0L229.1,472.6L229.8,474.2L227.3,474.0L224.9,473.0L222.4,471.7L220.3,470.5L222.8,470.5L223.5,469.7L225.4,469.2L223.2,468.7L222.9,467.5L224.2,467.0Z"/><path d="M218.6,300.8L221.0,300.5L220.6,302.4L218.5,302.5Z"/><path d="M109.8,201.7L107.2,200.8L106.0,199.8L103.8,197.4L103.9,195.6L105.9,195.6L108.9,197.5L110.0,199.8Z"/><path d="M166.0,149.8L171.1,151.3L173.2,152.7L180.6,152.9L184.9,152.0L190.2,151.8L193.0,149.6L188.4,148.3L190.5,145.2L191.9,143.1L188.4,142.7L187.1,144.6L184.7,143.1L177.9,142.7L169.7,144.2L166.7,146.1L171.1,146.5L166.4,147.8L170.7,148.5L166.8,148.3Z"/></clipPath>
<pattern id="hatch" width="2.3" height="2.3" patternUnits="userSpaceOnUse" patternTransform="rotate(45)"><rect width="2.3" height="2.3" fill="#fff"/><line x1="0" y1="0" x2="0" y2="2.3" stroke="#dcdcdc" stroke-width="1.0"/></pattern></defs>
<path d="M350.3,233.8L349.9,234.0L348.3,232.7L346.9,230.9L344.9,231.4L342.5,231.4L343.1,227.7L341.8,226.9L342.7,224.6L343.5,220.9L343.2,218.0L342.4,216.0L344.4,214.7L345.9,213.6L349.9,214.1L354.1,214.4L358.3,214.7L359.2,213.1L359.6,209.2L359.6,207.4L357.6,204.8L355.9,203.8L353.1,203.3L352.3,201.7L355.0,200.7L358.8,201.2L358.9,198.5L359.9,199.4L362.3,198.9L365.1,197.4L365.3,195.3L367.1,194.8L368.9,194.1L370.1,192.5L371.4,190.0L372.8,189.3L375.9,188.8L378.0,188.5L379.0,187.8L379.5,186.5L378.8,185.0L378.0,183.5L377.7,181.3L378.5,179.8L380.9,178.6L382.2,178.3L382.2,180.1L381.9,181.3L383.1,181.8L381.8,183.0L381.1,184.3L380.6,185.5L381.7,186.5L383.6,186.5L383.5,187.5L385.8,187.0L388.3,186.0L390.0,187.8L393.4,186.8L397.2,185.5L398.7,186.5L400.8,186.5L401.0,185.3L402.9,183.3L402.4,181.3L403.2,178.8L405.1,178.3L407.0,180.1L408.2,180.1L408.4,178.1L408.4,176.6L406.4,176.1L406.0,174.7L408.5,173.9L410.7,173.7L414.4,173.9L416.1,173.0L418.3,173.0L416.0,172.3L414.8,171.3L412.1,171.5L408.5,172.3L404.9,173.0L403.3,171.8L401.5,170.3L401.0,167.9L400.4,166.5L401.1,165.3L403.3,163.5L405.6,161.6L407.1,160.9L405.3,159.3L404.4,159.0L401.1,159.5L400.2,160.9L399.5,162.3L398.5,163.7L396.4,165.1L394.6,166.8L393.7,167.9L393.6,170.3L393.9,171.1L396.2,172.0L397.3,173.2L396.0,174.4L394.3,175.9L393.8,177.6L393.5,180.1L392.9,182.0L392.1,182.0L389.8,183.5L389.6,184.0L387.3,184.0L386.6,182.5L386.8,180.8L384.9,178.3L383.3,176.6L382.9,175.2L382.0,173.0L381.3,175.2L379.1,176.6L377.3,177.4L375.4,177.6L372.8,175.4L371.8,173.9L371.9,171.8L371.3,170.3L371.2,167.9L373.4,166.8L376.0,165.3L378.2,163.9L380.8,164.6L380.8,162.1L382.5,160.9L384.0,158.6L384.7,156.7L387.0,155.6L387.8,154.0L390.2,152.7L391.8,153.1L392.4,150.7L394.0,150.2L396.4,149.6L398.8,148.9L401.5,148.0L404.7,147.2L407.6,147.4L409.4,147.8L413.9,148.7L412.5,150.2L415.8,150.0L418.1,151.6L422.0,151.1L427.0,153.4L430.9,154.7L433.5,156.7L432.0,158.1L428.7,158.6L423.1,157.4L419.5,157.0L423.4,160.4L424.0,162.1L427.4,163.2L429.2,163.5L429.8,162.3L434.1,161.8L432.5,159.7L435.3,157.7L439.0,158.1L438.3,155.2L436.1,152.7L440.7,153.4L441.8,156.3L444.7,154.9L447.7,153.8L452.5,153.1L455.3,153.6L459.1,152.7L462.0,151.8L463.6,150.0L464.4,149.8L470.1,151.1L473.9,151.8L475.9,152.2L479.8,153.1L476.6,150.7L473.3,148.5L472.3,146.3L473.3,144.2L475.0,143.1L479.3,143.5L481.8,146.3L482.7,149.6L485.2,152.2L488.0,154.0L490.0,156.3L487.9,158.1L489.6,155.2L489.0,152.9L485.3,148.5L483.8,145.2L484.4,143.7L488.4,144.8L489.9,144.6L493.6,145.2L496.6,145.9L500.2,148.5L499.0,145.9L491.1,142.0L498.9,141.0L498.6,138.9L502.0,137.7L508.7,136.7L515.4,135.9L519.0,133.5L522.3,134.1L527.2,135.5L533.8,135.9L538.8,137.3L541.4,140.0L537.1,141.0L532.6,142.7L536.7,142.0L540.8,141.4L544.5,141.8L551.1,142.0L555.6,143.1L559.4,141.6L565.8,142.3L571.5,143.5L575.5,147.4L579.3,147.8L580.8,146.3L585.4,146.1L590.6,146.3L589.4,144.2L592.0,143.7L599.4,144.4L607.2,145.2L608.7,146.3L614.7,147.6L619.9,147.2L625.8,147.8L631.8,150.2L637.7,150.2L643.0,150.5L647.2,149.4L650.9,151.8L652.1,149.8L657.8,150.2L667.0,151.8L679.7,160.2L679.4,161.8L677.3,161.6L685.5,165.6L688.4,167.2L682.1,168.4L679.1,170.3L679.0,172.7L673.2,171.5L670.1,172.0L668.5,173.0L666.5,173.2L669.7,176.4L669.7,178.1L674.7,180.8L675.0,182.0L676.9,185.0L678.0,189.5L675.9,190.0L677.0,192.5L676.7,195.1L671.8,191.3L667.3,187.5L662.3,182.5L660.5,178.8L661.2,176.4L661.2,173.9L662.2,171.8L662.3,169.1L659.9,166.8L659.6,168.7L655.4,168.4L654.1,168.7L650.1,169.1L651.9,173.9L650.9,173.9L647.6,175.2L644.0,173.9L640.0,174.2L634.4,174.2L630.3,174.4L628.4,177.6L627.4,180.5L628.6,185.0L625.8,185.8L631.8,187.5L634.2,188.0L636.5,187.3L641.1,189.5L643.2,193.8L646.6,197.6L648.9,201.5L648.3,204.5L648.2,207.4L647.1,210.5L646.0,213.6L643.8,216.2L640.7,215.2L639.4,217.3L638.6,219.6L639.3,221.2L638.0,223.5L636.8,225.4L639.9,227.5L643.7,231.4L645.4,234.0L645.7,236.2L643.4,236.9L640.6,238.3L639.2,235.4L638.4,232.7L637.2,230.1L634.5,229.3L632.3,227.5L632.1,225.4L629.2,223.5L626.9,224.8L624.6,226.4L623.2,224.8L623.8,222.2L620.9,221.4L618.8,223.8L616.5,225.6L616.5,226.9L619.0,228.8L620.9,230.6L623.7,229.6L626.1,230.1L628.8,230.6L628.8,231.7L625.9,233.0L625.2,234.0L624.1,236.7L627.2,238.8L629.5,242.0L632.9,245.1L633.7,247.2L632.3,248.6L631.4,249.1L634.6,250.1L635.3,253.8L633.8,255.4L632.7,259.6L631.3,263.3L630.2,264.6L627.6,267.5L624.0,269.1L622.4,270.2L620.9,270.4L617.7,271.8L614.5,273.1L614.9,275.5L612.7,273.6L612.0,272.0L609.3,272.0L606.6,273.9L604.7,276.2L604.4,278.9L606.7,282.0L609.8,285.5L611.6,286.8L613.7,290.8L614.9,294.7L614.9,297.3L613.5,300.0L610.6,301.6L609.2,303.7L606.3,306.1L605.2,303.2L604.4,301.6L602.0,301.0L600.7,298.9L598.9,296.8L595.7,295.5L595.3,293.7L594.3,293.1L593.3,293.9L593.4,297.3L592.7,300.0L592.2,302.6L593.0,304.7L594.8,306.6L595.9,310.0L598.0,311.1L599.8,312.6L602.2,315.0L602.8,318.4L603.8,322.4L604.8,325.3L603.2,325.6L600.1,323.2L598.0,321.4L596.3,318.4L595.7,314.8L595.1,312.1L593.8,310.8L592.8,309.2L591.1,307.9L590.4,307.9L590.3,305.3L590.8,302.6L590.5,298.7L590.3,296.6L589.1,293.4L588.9,291.8L587.6,288.9L586.7,285.5L585.0,284.4L583.5,285.5L581.7,287.3L579.3,286.8L579.3,282.8L578.5,280.2L576.7,277.6L574.9,276.0L573.0,274.1L572.1,272.3L571.3,270.2L569.4,269.7L568.5,271.0L566.3,271.5L564.1,272.0L562.9,271.8L560.7,272.6L560.5,274.4L560.1,276.2L557.9,277.0L556.5,278.6L554.9,280.7L553.5,282.3L551.4,284.4L549.7,286.0L548.3,287.3L546.9,289.4L547.5,293.4L547.8,294.4L547.1,297.3L547.1,301.8L546.0,301.8L545.4,304.5L543.6,305.8L542.1,307.6L539.9,305.5L539.1,302.9L537.7,299.2L535.3,295.0L533.9,291.3L532.2,288.1L530.7,284.2L529.2,279.1L528.5,276.2L528.4,273.3L527.5,271.5L527.0,272.8L526.8,273.6L524.4,274.4L522.0,273.6L519.4,270.4L522.2,268.6L520.4,268.9L517.9,267.0L517.1,266.2L515.5,266.0L514.1,263.6L512.7,262.0L508.3,262.5L503.3,262.8L501.5,262.8L499.4,262.3L495.7,262.0L492.9,261.2L490.8,258.3L489.1,257.5L486.3,258.6L484.0,258.6L480.6,256.5L478.0,255.4L476.1,252.8L474.4,249.9L471.6,248.8L470.8,250.1L469.7,251.5L470.9,253.8L472.0,255.9L474.0,257.8L475.5,259.1L475.8,261.5L477.3,263.6L477.1,261.7L477.9,260.2L479.0,262.3L479.2,264.1L478.6,264.9L480.2,265.7L483.6,265.4L485.6,264.4L487.4,262.3L489.0,260.4L489.5,259.4L490.0,263.1L490.8,264.6L494.0,266.5L495.3,266.8L498.4,269.7L497.7,272.6L496.3,274.9L494.4,276.2L494.4,278.9L492.8,279.4L491.8,281.5L489.0,282.8L486.5,284.2L484.3,285.2L482.4,287.9L479.7,289.2L475.4,290.8L473.0,292.1L469.6,293.7L466.2,295.2L462.7,295.5L462.0,293.9L461.1,290.0L460.5,286.8L459.9,284.4L457.3,280.2L455.5,276.8L453.1,274.9L451.6,272.3L449.7,268.3L448.6,265.4L446.4,263.1L444.6,259.9L442.1,256.5L440.8,254.9L439.9,254.9L440.5,251.2L440.3,251.2L439.5,255.1L439.1,255.9L437.7,254.6L436.7,253.6L435.3,250.1L434.2,246.4L437.4,247.0L438.5,246.4L439.4,244.3L439.6,242.5L440.4,239.6L440.9,238.0L440.8,235.4L441.1,232.5L439.6,232.5L437.5,231.9L435.8,233.5L433.4,233.8L431.9,232.7L429.0,231.7L428.7,233.3L425.7,233.3L423.6,231.9L421.6,231.4L421.1,229.0L419.0,228.0L420.3,227.7L419.6,225.4L418.3,224.8L418.4,223.5L418.7,223.0L421.1,222.7L424.2,222.5L426.1,221.6L424.1,220.9L424.2,220.4L426.2,220.7L429.1,220.1L430.8,219.1L432.9,218.3L436.5,218.3L439.5,220.1L442.2,220.9L444.2,221.2L446.9,220.9L450.5,219.6L450.6,218.0L448.7,215.7L445.7,214.1L441.7,211.8L440.0,210.5L438.4,209.7L439.8,209.7L441.0,207.9L441.0,206.1L443.1,205.1L439.4,205.1L438.2,206.1L435.2,207.1L434.9,208.7L437.9,209.5L436.0,210.5L433.7,211.8L432.2,211.5L432.0,210.0L429.8,209.5L431.8,207.6L428.5,207.6L428.1,206.4L426.2,206.4L425.6,206.6L424.9,208.4L424.0,210.0L422.3,212.6L422.4,214.7L421.0,215.2L420.8,217.0L421.6,218.6L422.2,219.6L424.0,220.3L423.8,220.9L421.9,220.9L420.9,221.2L419.3,222.5L418.3,223.4L417.9,221.7L415.5,221.2L414.3,221.2L413.1,222.7L412.1,222.9L411.1,222.0L410.6,223.5L411.4,225.4L412.2,226.2L411.8,226.7L414.1,228.3L414.2,229.6L413.3,229.0L412.0,229.0L412.5,230.4L412.5,232.7L411.2,232.7L409.4,231.9L408.3,229.6L409.1,228.0L407.8,227.7L406.8,226.4L405.6,224.6L404.9,223.8L403.7,222.5L403.5,220.1L403.3,218.6L402.2,217.5L400.4,216.6L398.0,215.2L396.6,214.4L394.0,212.8L393.2,210.5L392.1,209.7L391.2,211.0L390.2,209.2L390.8,208.8L389.3,208.8L387.7,209.5L388.0,210.8L387.9,212.6L390.5,214.1L392.2,217.0L394.0,218.3L396.3,218.6L396.0,219.3L398.2,220.7L400.6,221.8L401.8,223.3L401.5,224.1L400.5,222.9L398.9,222.2L397.9,223.0L397.6,224.3L399.0,226.2L398.0,226.7L397.8,227.7L397.0,228.9L396.0,228.8L396.3,227.2L397.1,226.2L396.6,225.1L395.6,223.4L394.3,223.0L394.0,222.0L392.7,222.0L392.6,221.3L391.5,220.4L389.8,220.1L388.0,218.8L386.9,217.8L385.6,217.3L384.3,215.7L383.8,214.3L383.1,213.1L380.8,212.1L379.3,213.1L377.9,213.6L376.0,215.2L374.6,215.4L373.5,214.9L371.8,214.7L370.3,214.4L368.9,215.4L368.5,217.0L368.9,218.6L366.8,219.9L364.7,220.7L363.6,221.7L362.1,223.8L361.5,224.8L362.5,226.7L361.0,228.0L360.6,229.8L358.0,231.7L356.7,231.9L354.5,232.2L352.5,232.2ZM692.4,357.2L693.6,360.7L694.1,366.7L697.2,368.6L697.4,373.6L697.4,377.3L698.5,379.8L701.4,381.8L702.9,384.7L705.0,388.3L705.2,390.5L705.9,392.0L707.8,394.4L709.4,394.9L708.1,398.6L707.3,401.3L707.4,403.1L707.1,404.6L704.7,408.1L702.6,411.8L700.6,414.2L698.3,415.8L696.0,418.2L694.4,419.7L691.1,423.2L688.6,426.7L688.0,427.9L682.9,429.1L677.9,432.1L675.9,430.3L676.2,429.0L672.0,431.4L668.6,430.1L666.7,429.0L666.7,426.3L667.2,423.2L664.6,423.0L666.6,420.8L666.3,418.9L662.8,421.8L665.3,418.7L667.7,414.7L664.6,417.9L661.2,420.5L660.8,420.8L659.5,420.3L659.3,415.8L659.0,413.7L655.4,413.4L654.1,412.1L649.0,412.6L644.0,414.2L641.7,414.2L636.3,416.8L631.0,418.4L626.8,418.6L621.0,421.5L617.1,420.9L615.5,419.7L616.1,417.6L617.9,416.8L619.3,413.4L619.1,408.9L619.4,405.0L619.3,401.0L617.9,398.0L619.5,398.4L619.8,394.7L619.7,392.3L621.0,388.6L622.5,386.5L622.6,388.1L624.8,386.1L628.9,383.5L631.5,383.1L633.4,382.5L636.8,381.5L639.3,380.4L642.7,376.5L643.2,373.8L645.0,372.3L646.2,374.8L646.9,371.9L649.1,369.9L650.7,368.0L653.1,365.9L655.4,365.3L657.5,367.8L657.5,369.4L659.7,368.3L661.0,368.3L661.7,365.7L663.2,363.3L664.9,361.8L667.6,361.2L669.0,360.9L667.7,358.5L671.2,360.1L675.0,361.2L678.7,361.2L677.6,364.1L676.0,365.7L674.6,368.4L677.1,370.9L679.1,372.3L682.0,373.4L682.9,375.2L685.8,375.0L687.8,371.2L688.9,368.3L689.2,364.6L690.3,362.4L691.4,358.0ZM350.6,197.5L352.0,197.6L353.8,196.7L356.1,195.8L358.1,196.1L359.9,195.7L362.7,195.7L364.1,195.2L364.9,194.7L364.9,194.1L363.5,193.8L364.1,193.1L365.3,192.0L365.6,191.0L364.7,190.1L362.9,190.1L362.3,190.3L362.7,189.3L362.3,188.5L361.7,187.3L360.9,186.3L359.6,185.5L359.0,184.3L358.2,183.0L357.3,182.5L355.9,182.5L357.1,181.8L358.1,180.1L358.7,178.8L358.3,178.3L355.8,178.3L354.5,178.6L354.7,177.8L356.2,176.5L356.4,176.0L352.7,176.1L352.1,177.6L351.0,179.3L350.2,180.8L351.5,181.5L351.0,184.3L352.8,183.5L352.2,185.8L353.5,185.8L355.5,185.3L355.3,186.8L356.2,187.5L356.2,189.0L355.4,189.3L353.2,189.1L353.6,190.3L352.8,190.5L354.0,191.4L352.7,192.3L351.5,192.8L352.1,193.6L353.7,193.6L355.7,194.1L356.7,193.8L356.1,194.6L353.7,194.6L353.1,195.3L352.0,196.6ZM382.0,215.7L382.1,216.5L382.3,218.3L381.7,219.9L380.6,218.6L380.6,216.9L381.4,216.5ZM413.7,235.4L414.7,235.4L417.3,235.8L419.4,236.2L419.6,236.7L418.7,236.7L416.6,236.8L414.8,236.2L413.9,236.0ZM437.9,234.8L436.6,236.4L436.0,236.9L434.7,237.7L433.3,237.3L433.0,236.4L434.3,236.2L435.1,235.8ZM381.1,183.8L382.4,183.5L383.1,184.3L382.5,185.0L381.3,184.5ZM396.7,179.8L397.8,177.8L398.4,178.1L398.0,179.3L397.1,180.2ZM611.2,278.4L612.7,276.4L614.9,276.0L616.3,277.0L615.5,279.4L613.5,281.0L611.5,280.2ZM660.4,219.6L661.4,218.8L661.2,217.5L662.6,216.7L666.5,218.4L667.2,215.7L669.5,214.8L666.8,212.3L665.2,213.1L661.4,211.5L657.7,209.2L657.4,210.0L659.2,212.3L660.2,214.9L658.2,214.9L659.2,216.7L658.6,217.5ZM662.6,219.7L663.7,219.9L665.2,222.2L667.6,224.6L667.8,226.4L667.5,228.3L669.2,231.4L669.3,233.3L670.7,234.8L670.1,236.4L669.4,236.9L668.4,235.1L668.5,236.2L667.5,236.4L667.7,237.7L666.3,236.7L666.1,237.7L664.1,237.6L662.8,236.7L663.3,238.3L662.8,239.6L662.2,240.8L660.1,239.6L660.0,238.8L659.8,237.7L658.3,237.5L656.8,238.0L654.0,238.5L651.0,239.3L651.2,238.3L652.8,235.5L656.2,235.2L658.4,234.8L659.9,235.1L659.6,233.5L660.1,231.9L659.4,230.6L660.6,230.1L660.4,231.3L661.3,232.1L663.0,231.0L663.6,229.0L664.0,226.9L663.6,225.4L662.2,223.8L661.8,222.0L661.5,220.3L663.0,221.3ZM321.4,163.7L324.5,163.7L326.1,164.4L327.9,164.6L331.6,163.7L334.4,162.8L336.3,162.3L338.0,160.9L338.2,159.7L336.6,157.8L335.9,158.1L333.9,157.4L331.6,158.6L330.3,158.2L330.1,159.3L328.9,158.3L326.4,159.3L324.6,159.7L324.4,158.6L322.9,157.5L320.4,158.6L319.0,159.7L322.5,159.7L323.2,160.9L319.5,161.4L323.0,161.8L322.9,162.5L322.8,163.0ZM349.5,192.1L349.8,190.0L350.1,189.3L349.9,187.5L351.3,186.6L351.0,185.8L350.3,184.5L347.9,184.1L346.0,184.6L345.1,185.9L345.5,186.8L342.5,186.9L342.2,188.9L344.3,189.5L343.3,190.3L342.5,191.2L341.4,192.3L341.7,193.1L342.5,193.9L345.1,193.4L347.2,192.5L348.0,192.2ZM650.9,239.6L652.9,240.2L654.2,242.2L654.3,244.9L654.3,246.3L653.4,247.2L652.7,245.6L652.1,246.6L651.3,244.3L651.6,243.0L649.8,242.9L649.0,241.4L649.3,240.6L650.1,240.4ZM737.4,382.0L740.2,384.4L742.8,387.8L741.6,387.8L738.8,385.4L737.1,383.1ZM742.4,419.7L742.8,421.3L744.5,422.1L743.2,426.1L745.2,425.3L744.7,427.4L744.8,428.3L746.3,429.2L749.8,428.4L747.8,430.5L745.8,432.1L742.9,433.2L741.6,435.0L738.5,437.1L735.4,438.7L734.9,437.9L737.2,435.8L738.0,434.3L736.5,433.4L736.5,432.6L737.7,432.0L739.6,430.8L741.1,429.2L741.9,427.6L742.1,426.7L742.5,425.0L742.2,422.6L742.0,421.8ZM732.0,435.8L731.8,436.6L731.5,437.9L734.2,437.1L732.9,439.0L730.3,440.7L726.7,443.0L726.1,444.4L724.2,444.6L721.1,445.9L719.0,447.8L716.8,449.7L713.1,451.5L710.2,451.6L709.5,450.6L707.6,450.5L708.3,449.3L711.2,447.2L713.4,446.5L715.7,444.9L717.5,444.5L721.7,442.3L724.9,440.9L727.0,439.0L729.4,437.6ZM403.3,176.9L404.1,176.1L406.0,176.3L405.6,176.9L404.0,177.6ZM381.7,220.3L382.6,221.2L382.9,223.5L382.7,225.8L381.7,225.6L380.8,226.4L380.2,225.6L380.3,223.8L379.9,222.1L379.6,221.0L380.1,221.3ZM658.7,238.8L659.5,239.8L658.9,241.3L657.1,240.6L656.8,242.6L655.2,242.0L653.9,241.0L654.9,239.6L656.5,239.3L657.2,238.4ZM389.2,228.8L391.0,228.4L392.4,228.7L395.9,228.1L394.9,230.1L395.4,231.3L395.0,232.3L393.1,231.3L391.7,230.6L389.5,229.7L389.1,229.3ZM547.5,303.4L548.4,303.2L550.6,306.6L552.3,309.5L552.1,311.9L550.7,312.9L549.6,313.4L548.4,312.9L547.7,310.8L547.5,307.9L547.6,305.5ZM378.1,129.7L382.4,129.5L385.3,129.2L388.3,129.7L390.1,131.0L394.0,131.8L390.5,132.9L390.1,134.1L388.1,135.7L384.9,134.9L383.2,133.9L382.2,132.5L379.1,131.4L377.5,130.4ZM388.8,128.8L390.8,128.3L395.2,128.5L401.1,129.0L400.1,130.3L395.1,130.4L391.2,129.9ZM394.2,132.5L397.3,133.1L396.2,134.3L393.7,133.7ZM637.4,262.3L638.7,263.1L638.4,265.7L637.8,271.2L636.2,269.4L635.2,267.0L636.1,263.8ZM671.7,436.3L674.6,437.5L678.4,436.6L679.1,436.8L676.8,440.2L674.4,442.8L673.4,442.2L671.1,444.0L669.7,443.7L670.3,440.2L671.1,437.1ZM383.4,183.3L384.9,182.5L386.4,182.4L386.5,183.5L385.8,184.5L385.7,185.3L383.9,184.5ZM231.6,197.9L235.4,198.6L236.6,199.9L233.1,199.4ZM222.9,132.3L229.6,132.3L233.7,130.6L234.6,128.6L231.8,126.9L225.0,128.3L222.7,129.5ZM235.6,165.9L240.7,168.1L243.0,168.9L243.0,167.0L239.3,163.8L244.5,165.8L245.6,165.1L247.6,163.2L246.4,160.4L244.4,157.7L247.4,157.9L249.1,160.4L249.6,161.1L255.4,157.2L254.4,155.2L251.9,154.9L248.8,152.9L248.5,151.3L247.9,148.5L244.4,146.5L240.9,145.7L238.7,144.2L236.1,143.3L233.6,141.5L231.9,141.6L226.5,142.3L224.8,143.0L224.1,141.4L220.5,141.3L216.6,143.5L215.4,145.2L214.0,147.4L215.6,148.5L218.1,149.6L220.6,149.6L223.8,149.8L228.8,149.9L231.0,149.1L231.3,151.1L232.9,152.5L233.7,153.8L236.7,154.5L236.5,156.3L232.8,158.1L232.7,159.7L225.5,160.0L223.5,161.8L225.6,162.8L230.3,162.3L233.8,163.9ZM157.0,145.2L158.3,147.0L164.0,146.3L170.5,144.2L176.8,142.3L175.9,140.4L170.1,140.0L164.8,140.4L161.8,142.7ZM199.4,138.5L205.2,138.9L210.5,137.7L211.3,135.7L204.9,135.9L201.4,136.9ZM232.3,143.1L236.9,143.3L239.5,142.0L235.3,141.4ZM210.7,138.9L214.8,139.5L216.5,137.9L212.9,137.7ZM168.3,271.4L171.9,269.0L172.8,268.5L174.7,267.9L176.5,268.2L178.2,268.1L180.0,268.6L181.1,269.5L183.6,270.2L185.3,271.5L186.0,272.0L188.3,273.2L190.7,274.4L192.5,275.6L190.4,276.4L188.5,276.4L184.1,276.6L185.6,275.3L183.8,274.4L182.5,272.2L179.8,271.8L178.6,270.8L176.7,270.7L175.4,270.7L174.6,269.3L172.2,270.4L170.8,270.6ZM212.4,138.1L217.2,139.5L223.1,140.0L229.4,140.0L236.6,139.3L237.0,137.7L231.9,137.3L225.3,137.7L224.7,136.1L221.5,135.5L215.8,135.1ZM225.2,136.3L233.1,136.1L238.9,136.5L243.1,135.3L246.9,132.9L250.4,131.6L255.5,130.1L261.8,128.8L267.4,127.4L274.3,126.1L276.6,125.1L270.9,124.5L263.1,124.0L254.7,124.2L245.5,125.0L237.5,125.8L233.4,126.8L235.6,128.5L239.5,128.8L236.0,129.9L237.0,131.0L231.6,132.5L228.6,133.9ZM103.8,187.3L102.1,189.5L101.0,192.5L100.3,190.5L101.3,187.1ZM4.8,276.9L5.6,275.6L7.1,276.6L7.5,277.6L5.4,279.0L4.7,278.6ZM-2.2,270.7L-1.3,270.4L-1.2,271.1L-1.9,271.2ZM193.7,151.6L195.1,152.9L199.6,152.7L201.4,150.9L198.7,149.8ZM67.0,179.3L67.8,180.1L72.1,179.1L73.4,177.6L71.6,177.7L69.4,178.3ZM4.1,273.7L5.1,273.7L5.5,274.4L4.4,274.7ZM179.7,138.1L183.6,140.0L191.7,139.1L195.8,138.9L197.8,137.3L195.2,135.7L187.5,136.3L181.9,136.5ZM104.1,146.7L98.4,147.8L92.0,148.9L88.2,150.2L80.2,152.0L77.4,153.2L79.3,154.7L79.1,156.1L81.4,156.3L80.2,157.4L80.0,158.0L76.0,158.3L76.9,157.3L75.7,157.3L72.3,157.9L70.8,158.3L66.4,159.5L68.2,160.3L67.8,162.1L72.1,162.1L75.6,162.1L74.2,163.5L70.9,164.4L64.9,165.6L63.1,166.5L60.0,167.9L58.1,168.7L56.8,170.6L56.2,171.5L56.9,172.7L59.8,172.9L56.5,176.0L60.3,175.6L63.8,175.6L66.2,175.9L62.1,178.7L58.6,180.2L52.5,182.5L46.4,184.4L44.2,185.0L40.2,186.0L43.6,185.8L48.5,184.6L53.7,183.1L57.0,182.0L63.0,179.9L67.9,178.0L71.7,176.3L75.0,174.3L78.2,172.7L82.3,170.8L86.4,169.9L84.5,170.6L82.0,171.4L78.9,173.7L77.3,174.7L83.8,172.9L86.6,172.9L87.9,170.8L92.5,170.1L92.3,171.5L93.8,172.7L98.3,172.9L101.0,173.8L102.4,175.9L103.6,177.1L103.5,179.9L103.8,182.8L104.6,185.8L107.1,186.8L107.0,189.0L107.0,192.0L106.1,194.6L108.4,196.6L109.9,198.0L112.0,199.4L112.1,200.2L111.7,202.0L110.7,203.8L108.7,205.2L110.7,202.5L107.2,201.7L106.0,205.5L105.1,207.3L102.4,211.5L98.7,216.1L97.9,219.0L95.6,222.4L95.5,225.0L95.1,226.3L95.4,228.8L96.2,229.3L95.7,230.9L96.1,232.5L95.8,233.3L96.6,235.0L97.0,235.8L96.7,237.9L98.5,238.3L100.8,239.3L100.7,240.0L102.4,242.0L102.4,242.9L102.9,245.0L103.0,248.6L103.0,250.0L104.8,252.2L105.5,253.4L105.4,255.1L103.0,255.5L104.3,257.4L105.6,258.6L107.8,259.8L107.4,263.6L108.1,264.4L111.3,267.1L111.9,268.6L112.5,268.2L111.6,265.3L111.1,263.1L110.2,260.4L109.3,258.0L109.1,256.9L108.3,255.1L107.3,252.6L106.0,250.4L106.0,247.2L106.9,245.1L109.2,246.4L109.9,248.8L110.3,251.2L110.8,253.0L112.5,255.4L114.1,257.8L114.4,258.6L115.2,261.5L117.3,264.1L120.0,267.8L121.3,271.0L121.8,272.2L121.5,274.5L120.4,275.2L121.4,277.3L123.0,278.8L124.6,280.7L127.4,281.7L128.8,282.4L132.3,284.6L135.3,286.0L138.5,287.2L139.7,287.7L142.9,286.4L145.8,286.8L148.0,289.4L149.2,290.6L149.9,291.3L152.4,292.3L154.5,293.1L157.5,294.2L159.0,293.9L160.0,294.7L160.3,296.0L162.2,298.7L163.1,299.3L163.3,300.2L163.2,302.6L164.7,303.8L165.3,302.8L166.8,304.2L167.8,306.8L169.5,307.8L170.7,307.4L172.8,308.7L174.1,309.9L176.2,309.3L175.2,307.6L177.4,305.4L180.0,306.8L180.5,309.2L181.1,310.0L182.5,306.2L181.1,304.5L179.0,303.8L176.7,304.3L174.1,305.5L171.2,304.3L169.6,302.6L168.1,300.1L168.2,297.3L169.1,293.4L169.5,291.9L170.3,289.4L167.4,287.2L164.0,286.9L162.1,287.3L159.5,287.2L157.9,287.6L157.6,286.5L158.7,285.5L159.4,282.8L159.9,280.5L160.7,280.2L161.7,277.3L162.0,275.7L164.0,273.2L163.3,272.0L160.6,272.2L157.4,272.8L155.5,274.0L154.8,276.6L153.9,278.4L151.5,279.8L149.5,280.1L145.3,281.1L143.5,279.7L141.8,278.4L140.6,275.7L139.7,273.7L139.0,270.3L139.9,266.2L141.1,263.1L142.3,260.6L142.9,256.2L145.4,254.1L149.6,251.7L152.0,250.7L155.3,251.1L157.5,251.5L159.8,252.1L162.1,252.5L161.7,250.9L161.7,249.6L163.0,248.9L165.5,248.8L167.3,248.9L170.5,249.6L171.0,250.8L174.0,249.7L175.8,252.1L175.8,255.5L176.6,259.0L177.1,260.2L178.3,262.7L179.9,262.7L180.7,261.1L181.3,258.6L181.1,254.0L180.5,252.0L180.2,248.9L182.4,244.6L185.1,242.6L190.1,239.7L193.7,237.7L196.3,236.0L196.5,234.0L196.5,231.7L195.9,231.4L196.4,228.8L197.1,225.5L198.4,225.1L197.5,228.8L196.8,231.0L199.6,227.6L199.9,226.7L199.5,224.8L200.4,226.3L201.8,225.2L203.6,222.4L203.6,222.0L204.8,222.0L207.1,221.3L208.6,220.7L207.9,220.5L205.9,221.0L204.5,221.3L206.6,220.3L208.3,220.1L209.6,220.0L210.1,219.1L210.6,219.6L211.6,219.6L213.2,219.2L213.0,218.1L212.1,219.0L212.0,218.4L211.4,217.4L212.6,216.6L212.8,215.6L214.2,214.0L216.0,213.4L217.2,212.8L218.8,212.4L221.0,211.5L222.1,210.8L224.4,209.8L227.4,208.7L226.8,209.6L230.2,209.6L227.8,210.0L224.5,211.5L223.0,213.6L223.8,214.7L226.2,213.0L229.1,211.5L232.9,210.4L235.0,209.7L237.6,208.2L237.3,207.3L237.5,205.2L236.0,206.2L234.4,208.8L231.7,208.7L228.4,207.3L228.1,205.1L229.9,202.7L226.0,202.6L230.9,201.5L231.3,200.7L229.0,199.5L224.5,200.6L222.1,201.6L219.4,203.1L215.1,205.7L217.5,204.0L219.4,202.4L223.5,199.7L225.1,199.4L228.0,197.1L233.7,197.0L237.3,197.1L242.3,196.1L247.7,194.1L249.4,193.3L251.5,192.0L252.0,188.8L250.0,188.3L249.4,187.3L247.0,184.8L245.4,183.9L243.6,181.2L243.7,177.1L242.6,171.8L240.0,173.9L237.7,175.6L233.6,176.4L231.7,174.4L231.8,172.7L234.0,170.1L230.3,168.9L227.6,167.0L224.4,167.5L221.5,166.5L220.5,167.0L217.7,170.8L218.3,172.6L214.7,176.5L215.1,181.0L211.2,184.3L206.5,185.9L206.9,188.0L206.0,191.9L203.6,194.1L200.6,194.3L199.3,190.1L200.7,187.5L202.2,184.6L196.7,184.4L193.0,182.5L189.0,180.1L185.5,179.9L184.9,175.8L185.7,172.7L188.9,170.1L195.3,166.0L198.8,164.7L204.0,163.5L207.7,160.9L211.9,157.4L214.5,158.0L221.2,155.2L224.1,152.2L224.2,150.9L221.9,150.1L218.8,150.2L213.9,154.0L210.8,155.4L209.3,152.7L209.8,151.1L208.4,149.6L210.0,146.3L207.7,145.2L203.3,147.4L201.3,148.7L201.3,150.7L204.0,150.8L201.1,152.9L198.0,153.6L197.1,154.7L194.0,153.6L187.8,154.5L183.0,153.1L177.9,154.0L174.8,156.5L173.4,154.3L164.4,154.5L167.9,152.9L165.1,151.8L158.3,150.7L152.8,151.0L153.8,149.1L149.9,150.2L149.3,148.3L144.6,149.7L138.0,150.8L131.9,151.9L128.1,150.6L125.0,150.3L121.9,149.4L114.6,148.7L109.7,147.8L106.2,147.6ZM240.4,203.8L242.4,201.5L244.6,198.9L246.8,195.8L250.2,193.6L251.4,193.6L250.6,194.6L247.4,197.8L249.3,197.5L250.3,199.4L252.7,198.4L253.3,199.5L253.8,201.0L252.0,203.0L253.9,202.5L253.8,203.9L252.3,206.2L251.1,206.1L251.2,203.5L246.9,205.7L249.1,203.8L246.0,203.8L243.7,203.8ZM51.2,172.3L54.0,171.8L54.0,172.7L52.3,173.2L50.5,173.0ZM0.9,272.2L1.7,271.8L2.1,272.8L1.1,272.8ZM228.9,206.4L231.7,206.9L233.8,206.7L232.4,207.9L229.8,207.4ZM194.6,145.2L199.1,146.5L205.4,144.2L206.1,141.8L202.2,141.0L197.2,142.7ZM172.8,136.9L178.7,137.1L185.7,134.9L183.0,134.1L175.3,135.7ZM208.0,280.2L211.4,280.6L211.0,281.5L207.8,281.7ZM205.7,132.9L212.7,133.3L218.1,131.9L214.9,131.0L208.0,131.2ZM206.3,145.0L209.3,145.2L216.1,143.1L218.4,141.2L213.7,140.6L209.3,141.8ZM211.0,159.3L214.8,158.8L217.5,162.8L218.2,163.9L214.1,163.9L212.9,163.0L208.1,164.9L205.8,164.2L209.1,162.1L208.4,160.4ZM53.2,164.4L56.6,163.9L58.2,164.9L55.5,165.6L53.1,164.9ZM109.8,201.7L107.2,200.8L106.0,199.8L103.8,197.4L103.9,195.6L105.9,195.6L108.9,197.5L110.0,199.8ZM166.0,149.8L171.1,151.3L173.2,152.7L180.6,152.9L184.9,152.0L190.2,151.8L193.0,149.6L188.4,148.3L190.5,145.2L191.9,143.1L188.4,142.7L187.1,144.6L184.7,143.1L177.9,142.7L169.7,144.2L166.7,146.1L171.1,146.5L166.4,147.8L170.7,148.5L166.8,148.3Z" fill="#e0ecf4"/>
<path d="M57.2,151.8L58.8,152.9L60.6,155.2L64.1,156.3L65.2,158.3L61.0,159.7L54.8,162.3L53.1,162.3L50.8,161.4L51.9,160.0L48.1,159.5L49.6,157.9L44.5,160.2ZM628.0,350.5L629.7,350.4L630.8,351.2L629.5,352.2ZM617.5,323.5L616.0,326.4L616.8,329.1L616.5,330.8L618.4,333.5L618.7,336.8L622.2,336.9L625.2,337.7L628.7,338.2L629.1,339.9L632.2,339.3L633.4,335.6L634.2,332.4L636.0,330.8L636.1,326.9L639.3,326.4L636.6,323.6L635.9,320.3L636.4,317.8L639.5,315.3L636.8,313.6L634.5,310.8L633.7,310.8L632.0,313.3L629.7,315.8L627.3,317.3L625.2,320.6L621.4,322.7L620.7,324.8L619.0,324.5ZM655.5,337.4L657.6,337.2L658.2,338.5L656.8,339.2L655.4,338.5ZM769.5,375.4L772.3,375.2L772.4,376.5L770.2,377.1L769.2,376.5ZM773.6,372.8L776.4,371.7L776.1,373.0L773.8,373.8ZM640.3,351.2L643.1,350.9L647.3,350.4L647.7,351.2L645.3,352.2L640.7,352.2ZM427.4,128.3L430.7,127.8L435.8,127.9L434.1,128.6L429.9,128.8ZM659.3,323.5L660.3,325.0L661.9,325.0L660.8,326.9L662.2,328.2L660.3,327.9L661.2,331.1L660.1,329.8L659.4,326.9L658.9,326.4ZM606.6,346.9L608.6,344.6L610.5,345.1L613.9,345.6L614.6,346.8L618.7,347.3L619.7,345.9L621.8,346.7L624.0,348.0L625.6,349.4L627.4,349.3L627.8,350.6L627.9,352.1L624.5,350.9L619.9,350.8L615.3,349.4L612.3,349.3L609.4,348.4ZM631.2,351.2L632.4,350.6L633.1,351.4L632.3,352.5L631.2,352.2ZM638.8,280.2L639.7,279.9L642.5,280.2L643.2,283.4L643.5,286.0L642.3,287.3L642.9,290.2L644.3,291.8L646.2,292.3L648.3,292.6L649.2,295.8L647.2,294.7L645.5,293.9L643.5,292.3L641.7,292.9L640.6,291.5L641.1,290.5L640.2,290.8L639.2,290.0L638.4,287.3L637.9,286.0L639.2,286.5L638.8,282.8ZM653.2,303.2L655.4,307.1L656.3,310.0L655.5,312.4L654.3,310.5L653.9,314.2L653.1,313.4L650.4,311.9L650.7,309.7L648.8,309.0L645.9,310.8L645.8,308.4L647.3,307.1L648.6,306.3L649.9,307.4L651.7,306.6L652.9,305.3ZM640.4,293.4L642.2,293.7L643.2,295.8L642.6,296.8L641.5,295.5ZM646.9,300.0L648.3,300.2L649.4,299.5L649.7,302.6L648.3,305.0L646.6,304.2L646.0,302.6ZM667.9,331.2L670.7,329.9L674.4,331.2L674.7,334.3L675.6,337.4L677.6,337.8L679.8,334.8L683.3,332.8L685.9,334.3L689.8,335.7L690.5,335.9L693.6,337.3L696.4,338.4L698.6,339.2L701.3,342.7L704.0,344.7L705.8,346.4L703.8,346.8L704.4,348.8L706.3,351.6L708.6,352.9L710.1,354.6L711.9,356.0L709.9,357.1L706.5,355.9L703.5,354.1L701.3,350.4L698.6,349.2L696.4,350.1L695.1,351.2L694.5,353.0L693.0,353.5L689.4,353.0L687.2,350.4L684.4,351.2L682.1,351.2L684.8,348.0L683.2,343.5L678.5,341.0L674.4,339.2L673.4,338.6L671.2,339.6L670.2,336.8L669.5,336.3L673.0,335.3L670.7,334.8L669.3,333.2L667.3,332.4ZM576.8,138.3L576.2,136.5L583.4,137.1L588.1,138.5L584.7,139.3L580.3,139.5ZM591.3,138.1L597.5,138.5L598.1,139.3L593.0,139.1ZM586.4,142.0L588.4,141.2L592.3,142.3L589.7,142.7ZM446.6,145.9L446.2,145.2L447.0,143.5L447.8,142.0L448.8,141.0L449.2,138.9L451.6,137.9L454.7,136.7L460.2,135.9L466.3,134.9L467.6,135.9L464.4,137.3L458.6,138.9L457.0,140.2L455.8,142.0L453.8,144.2L456.6,146.3L457.6,148.0L453.5,148.3L450.7,147.6L447.8,146.7ZM634.3,306.8L635.1,305.5L637.6,302.6L639.1,301.0L639.8,298.7L638.7,299.2L638.4,301.3L636.5,302.9L634.6,305.3ZM644.3,297.6L647.2,298.4L647.1,300.2L646.1,301.3L644.7,301.3L644.8,300.0ZM641.1,186.5L645.3,190.0L647.7,192.5L651.7,196.4L654.7,199.4L657.3,201.0L653.1,199.9L654.4,202.7L658.5,205.8L659.4,207.4L657.0,206.1L657.2,208.2L654.8,205.3L652.4,201.5L649.5,197.6L645.6,193.8L642.0,189.3ZM649.7,296.0L652.0,295.8L653.6,299.5L652.4,302.1L651.5,302.4L650.4,300.2L651.4,298.7L650.2,298.4ZM659.9,337.4L662.5,336.4L666.7,337.2L666.6,339.0L663.6,338.0L660.6,338.2ZM503.4,131.0L502.1,128.3L496.9,127.1L506.9,129.2L515.2,131.0L518.5,132.3L511.8,132.9L506.8,131.4ZM725.9,346.7L728.1,348.3L727.6,348.8L725.9,347.5ZM729.9,348.8L733.2,350.9L732.7,351.4L730.1,349.6ZM732.5,353.5L735.2,354.3L734.8,355.1L732.6,354.6ZM735.1,350.9L736.4,353.5L736.8,354.3L735.4,352.5ZM736.1,355.9L738.3,357.0L737.6,357.5L736.0,356.7ZM639.9,342.5L640.0,343.8L642.3,343.8L642.1,340.9L642.4,338.2L642.1,336.4L643.9,336.1L645.2,339.6L645.8,341.8L648.1,340.6L647.5,339.4L647.1,337.4L646.0,334.3L644.6,333.7L647.0,333.2L649.6,331.6L649.7,331.2L648.2,331.4L645.5,331.2L644.2,332.7L643.0,332.4L641.9,331.1L641.8,329.0L642.6,327.7L645.2,327.7L648.9,327.7L652.2,327.9L653.9,325.2L652.9,325.0L648.7,326.5L644.0,325.6L643.5,325.6L641.4,329.0L641.3,331.1L640.0,334.0L638.9,336.1L639.0,338.4L640.4,339.6ZM583.8,314.2L588.9,315.2L591.9,319.0L595.7,322.4L598.3,324.5L602.1,327.4L603.9,331.6L605.5,333.7L608.9,336.9L608.6,340.9L608.2,344.4L606.8,343.5L605.4,344.3L602.9,341.9L600.2,339.3L597.3,335.6L596.0,331.6L593.0,328.2L592.0,324.5L588.4,320.3L585.8,317.9ZM638.2,354.1L640.6,353.5L642.3,355.4L640.3,356.2L638.6,354.8ZM633.3,351.2L635.5,350.6L636.8,350.9L638.7,350.6L638.4,352.1L636.0,352.5L633.2,352.7ZM648.4,356.3L649.8,353.8L652.3,351.9L657.0,351.0L657.7,351.3L655.7,352.7L652.1,354.3L650.3,355.9ZM746.6,367.8L747.8,368.6L747.2,370.4L746.3,370.1ZM747.5,371.2L748.4,372.3L747.6,372.8ZM748.6,375.4L749.4,375.7L748.6,376.2ZM657.4,147.2L658.0,146.3L660.2,147.6L658.9,147.8ZM66.2,146.3L68.8,146.2L69.4,146.8L67.4,147.5L64.0,147.6ZM185.3,258.8L186.4,258.6L186.1,259.1ZM184.9,262.5L185.7,264.9L185.2,265.2L184.5,263.8ZM187.5,259.1L188.1,259.6L187.7,260.4ZM271.8,151.1L274.6,150.5L274.4,149.1L270.7,148.9L269.7,150.5ZM280.3,173.2L278.1,172.4L277.0,171.1L273.6,170.3L271.5,167.9L271.2,165.6L269.8,162.8L268.9,160.0L269.0,156.4L270.4,154.0L272.2,152.5L275.7,151.3L276.6,149.8L271.6,148.0L276.9,147.4L271.0,146.1L271.3,143.5L272.0,140.0L271.3,137.5L267.8,136.9L265.1,136.5L259.2,137.1L256.7,135.8L253.6,134.9L257.6,134.0L253.2,132.5L260.2,131.4L267.2,130.1L266.9,128.8L271.1,127.3L277.3,125.9L285.5,125.3L292.7,125.0L300.0,124.4L307.3,123.7L316.6,123.3L325.1,123.7L327.6,124.5L331.3,125.8L333.2,126.4L345.8,126.8L342.8,127.8L339.0,128.8L336.6,130.1L334.1,131.0L334.4,132.9L333.4,133.9L333.6,135.4L331.0,137.9L332.4,138.5L329.7,140.0L328.7,141.0L326.8,142.5L325.7,143.5L326.2,145.0L325.1,146.3L325.5,148.5L318.8,148.5L316.2,148.9L320.4,148.9L324.8,149.2L320.8,150.7L317.3,152.7L311.1,153.8L307.3,153.8L303.6,156.5L299.0,158.8L296.0,159.5L292.2,159.7L290.5,161.8L289.1,164.4L286.9,166.3L285.1,167.9L283.4,170.3L282.2,171.8ZM194.1,276.6L196.8,276.8L198.1,276.5L200.2,276.8L201.9,277.0L203.7,278.1L204.6,278.9L205.4,279.9L204.5,281.0L203.9,280.5L201.7,280.3L200.3,281.0L198.9,281.0L198.0,282.6L197.3,281.5L195.6,281.0L192.7,281.0L191.2,280.6L192.1,279.8L195.3,280.2L196.1,280.1L195.5,278.6L195.6,277.7L194.7,277.0ZM182.3,280.7L183.4,280.2L185.6,280.5L186.6,281.0L187.1,281.8L185.7,281.7L184.9,282.3L183.3,281.5ZM182.5,306.2L183.6,307.4L186.0,304.2L186.9,301.6L188.8,300.0L190.2,299.3L193.3,298.5L196.3,296.2L197.0,297.9L196.1,300.0L199.0,299.2L200.1,296.8L200.9,298.7L203.6,299.2L204.5,301.3L206.9,301.0L209.0,301.0L211.6,302.4L213.3,301.3L216.1,300.8L218.6,300.8L217.2,302.4L219.4,303.2L221.0,305.3L222.8,306.6L226.9,311.1L229.3,313.3L233.7,313.6L236.6,313.8L240.4,315.9L242.2,317.4L243.8,321.9L245.9,324.5L244.9,327.7L246.8,329.3L249.3,329.7L250.5,330.7L251.8,330.6L255.4,331.9L258.9,335.6L261.0,335.3L264.9,336.6L267.8,336.4L272.5,338.8L275.8,341.8L279.6,342.7L280.2,344.3L281.2,347.9L281.0,350.2L279.3,354.5L277.7,356.7L276.2,357.8L274.4,361.4L273.1,363.3L272.1,368.0L272.2,372.4L272.1,375.8L270.9,379.9L269.9,382.5L268.6,387.0L266.5,389.4L263.8,389.5L260.6,390.5L256.9,392.3L253.5,394.9L252.3,396.3L252.4,398.2L252.8,401.8L252.6,404.2L250.7,406.3L249.7,408.9L248.5,411.6L246.4,413.8L244.2,418.0L243.6,419.7L241.4,421.2L238.6,421.1L234.8,419.9L233.3,418.7L233.7,420.3L235.8,421.3L236.8,422.5L236.5,424.0L238.1,424.7L237.3,429.2L235.1,430.8L231.5,431.6L228.1,431.8L228.6,433.9L228.7,435.8L228.0,437.2L223.2,436.4L223.8,439.2L225.2,440.2L226.7,440.0L227.4,441.7L224.8,441.8L224.9,443.2L225.3,446.2L225.1,447.5L221.9,449.7L222.4,451.3L226.4,452.9L226.8,454.6L225.1,457.3L224.5,458.6L223.6,460.4L224.2,464.4L226.3,466.3L224.1,466.6L222.8,467.2L222.1,468.4L222.1,470.2L219.2,469.0L216.0,467.2L213.6,465.5L212.1,464.2L209.8,460.4L207.9,456.5L206.4,452.7L206.0,452.2L207.2,450.6L206.9,447.5L206.7,444.9L205.5,443.3L204.7,439.7L205.0,438.9L203.8,434.5L204.4,434.1L203.0,430.3L202.1,428.2L202.6,426.1L203.2,422.1L203.5,418.7L203.5,416.2L203.1,413.1L202.4,408.0L202.0,404.0L202.3,400.3L202.4,398.5L202.4,396.0L202.0,391.4L201.6,389.8L202.0,387.3L201.6,382.3L200.7,377.8L198.2,375.6L196.5,373.8L194.8,372.9L191.0,370.8L188.8,369.5L185.8,365.5L186.0,365.1L183.5,360.8L182.3,358.3L179.7,353.0L178.5,350.4L176.3,347.1L173.6,344.3L173.4,342.5L172.8,341.4L174.9,338.2L175.8,337.6L176.0,335.3L174.9,336.0L173.4,334.8L174.0,331.5L174.5,330.1L175.6,328.9L176.5,326.4L178.6,324.3L180.7,322.1L182.6,318.7L181.7,317.9L181.7,314.5L182.1,312.5L181.1,310.0ZM226.1,467.1L227.6,468.7L229.1,470.0L231.6,471.2L235.0,472.1L232.7,473.0L229.1,472.6L229.8,474.2L227.3,474.0L224.9,473.0L222.4,471.7L220.3,470.5L222.8,470.5L223.5,469.7L225.4,469.2L223.2,468.7L222.9,467.5L224.2,467.0ZM218.6,300.8L221.0,300.5L220.6,302.4L218.5,302.5Z" fill="#bfd3e6"/>
<path d="M349.2,234.6L350.5,234.3L352.4,236.2L355.5,235.9L357.3,236.4L359.9,235.1L362.3,234.0L364.9,232.7L368.6,231.9L373.0,231.9L377.1,231.4L380.8,231.7L383.4,230.6L384.5,230.9L386.1,231.4L385.0,233.0L385.3,234.6L386.5,236.2L384.3,238.5L384.4,239.8L386.6,241.2L389.3,242.5L391.3,242.2L393.6,242.7L395.8,243.5L396.4,245.6L399.1,246.7L402.3,247.8L405.0,249.1L406.9,247.5L406.3,245.1L406.7,243.5L409.3,242.2L412.2,242.5L413.6,244.1L415.4,244.6L418.2,245.6L422.9,246.2L426.8,247.5L428.9,246.4L431.1,245.6L433.3,246.2L434.0,246.4L435.0,250.1L437.7,255.1L438.6,257.8L439.9,260.4L441.5,263.6L443.0,266.0L442.9,268.3L446.3,271.0L447.1,273.6L447.3,277.3L447.9,279.4L450.5,281.5L451.9,285.5L453.1,287.9L454.8,289.7L457.2,290.8L460.1,294.2L461.8,295.5L462.3,297.6L461.2,298.7L462.2,298.9L464.1,301.3L466.4,301.6L469.9,300.5L473.3,299.7L476.1,299.2L479.0,297.6L480.9,297.9L481.3,301.6L480.0,303.9L478.2,307.9L476.0,311.9L473.8,317.1L469.2,322.7L467.6,323.7L464.6,326.4L461.1,330.1L459.0,333.5L457.4,335.1L455.7,336.1L454.5,339.6L453.3,342.2L452.3,344.8L453.5,346.9L453.9,350.1L453.3,352.7L454.4,355.4L455.8,356.7L456.1,360.7L455.8,363.3L456.3,367.2L455.7,369.9L454.2,372.0L451.8,373.8L448.3,375.2L446.8,376.5L444.6,379.1L442.0,381.2L441.4,383.6L442.7,385.7L443.0,388.3L442.8,392.0L442.0,393.9L438.0,395.5L435.9,397.3L436.4,399.7L435.5,402.9L433.9,405.2L431.5,407.9L429.4,410.8L426.5,413.9L423.9,416.0L420.6,418.2L418.6,418.7L415.0,418.9L411.0,418.9L406.1,420.8L403.5,419.7L402.6,419.5L402.7,418.4L401.8,415.5L402.8,412.9L401.2,409.4L400.0,405.5L399.2,404.4L397.5,401.5L396.2,399.2L395.9,394.9L395.1,391.0L395.1,389.4L393.6,384.4L391.4,379.1L389.2,374.6L389.3,371.2L390.2,368.6L391.0,364.3L393.1,361.7L394.1,358.0L393.4,354.8L392.3,352.7L392.7,352.2L391.9,347.5L390.7,345.1L390.5,343.5L389.6,341.1L387.7,339.0L385.4,336.4L383.8,334.0L382.6,330.8L383.8,329.0L384.2,327.9L384.5,326.4L384.9,322.9L384.9,321.1L384.2,318.7L382.8,317.1L381.4,317.1L378.4,317.4L376.1,317.7L374.7,315.3L372.6,312.4L370.0,312.1L367.7,312.4L364.9,312.9L361.6,314.4L359.8,315.3L357.4,316.3L355.1,315.5L352.8,315.0L349.3,315.5L344.6,317.4L341.2,315.8L337.0,312.4L335.4,310.8L333.1,309.2L331.4,306.6L331.2,304.7L330.3,303.9L328.5,301.3L327.3,300.0L326.0,297.6L323.5,296.3L323.3,294.4L323.3,292.6L321.7,290.2L322.7,289.4L324.1,286.8L324.6,284.2L325.4,281.3L325.0,278.1L324.3,277.8L323.2,274.1L323.1,272.8L323.6,270.4L325.7,266.5L328.1,263.8L329.3,260.2L331.6,257.8L332.4,255.9L333.1,255.4L336.2,254.4L339.2,251.7L340.4,248.8L340.3,245.9L341.5,243.3L343.3,241.2L345.3,240.4L347.1,239.3L348.3,236.7ZM476.2,360.7L477.7,364.6L478.5,369.4L476.9,369.9L475.6,376.2L473.8,381.8L471.5,387.6L468.9,394.7L464.4,396.5L461.9,394.9L461.3,390.7L460.8,387.0L463.7,381.8L463.1,377.8L464.3,371.7L466.4,371.2L468.8,370.4L472.4,367.8L473.0,364.9L475.0,362.0ZM721.9,342.3L723.8,344.6L724.5,346.8L723.0,345.9L721.7,343.8ZM707.1,343.8L709.9,343.5L711.1,343.0L714.6,342.2L716.2,340.1L716.6,342.2L714.5,343.8L711.8,345.5L708.6,345.4ZM713.3,335.7L716.0,338.0L718.2,340.3L717.8,341.5L716.9,339.3L714.6,337.0Z" fill="#9ebcda"/>
<g clip-path="url(#land)" stroke="#6f7b88" stroke-width="0.5" stroke-linejoin="round">
<path d="M400.4,186.4L406.7,186.6L406.3,185.1L403.5,184.4L401.9,184.0L399.9,185.3Z" fill="#bfd3e6"/>
<path d="M413.8,150.0L411.0,151.7L410.7,152.9L411.7,153.8L413.7,154.7L412.6,156.5L415.0,159.3L414.8,161.4L416.5,162.8L415.9,163.8L419.1,165.8L418.8,166.8L416.9,169.6L413.6,171.4L413.8,172.7L414.7,174.1L413.7,175.6L414.1,176.9L414.2,178.7L415.1,179.3L415.1,180.3L416.4,182.2L422.0,183.5L422.6,185.8L426.5,188.9L424.9,189.8L425.4,192.3L429.3,191.7L430.8,193.1L430.2,193.4L432.5,194.6L433.9,196.7L437.7,196.6L439.0,197.9L441.5,198.0L443.4,198.6L443.2,201.2L443.7,202.1L443.8,203.1L441.9,203.1L440.8,203.9L440.8,205.1L439.7,206.6L438.2,210.0L439.7,212.3L446.4,214.7L451.8,215.2L454.8,216.7L457.3,216.5L460.7,218.6L463.0,220.1L465.4,218.7L466.7,215.7L465.2,209.2L464.0,206.9L461.7,204.3L458.8,203.3L457.2,201.7L457.2,199.3L457.9,196.6L460.6,197.8L460.4,196.1L463.6,193.3L464.9,193.8L467.1,193.8L469.4,194.6L471.6,195.3L474.3,196.1L476.5,195.1L479.7,195.0L482.1,196.1L485.6,195.6L485.5,194.3L481.7,192.5L482.8,190.3L482.6,188.8L481.8,187.6L484.7,187.5L487.3,186.8L489.6,186.6L490.9,185.9L494.8,185.0L496.0,184.1L499.5,184.3L501.4,186.8L505.4,187.6L506.3,187.5L508.7,188.5L511.9,187.0L512.3,186.5L515.8,189.3L523.0,195.6L526.0,195.6L529.5,195.1L534.9,198.6L539.8,199.9L541.0,199.7L543.6,197.9L547.1,195.6L553.2,197.6L559.2,198.3L560.2,196.4L558.1,193.8L559.2,192.3L566.8,194.2L568.1,196.1L573.8,196.6L577.4,196.9L582.4,199.2L586.8,199.7L591.2,198.6L593.2,197.0L598.3,198.0L601.1,198.9L602.8,196.9L602.1,193.8L601.7,191.3L599.8,190.5L600.8,189.3L605.4,188.6L610.2,189.9L619.5,197.0L624.1,199.2L628.0,200.4L630.7,203.5L634.2,203.5L638.1,201.7L638.5,205.3L639.9,210.2L637.7,210.5L637.9,213.1L638.9,215.7L638.9,217.1L639.2,217.5L645.5,219.6L657.7,209.2L669.5,202.7L692.8,185.0L697.0,172.7L644.4,138.9L586.6,132.9L506.9,129.2L451.9,132.9L419.3,145.2Z" fill="#bfd3e6"/>
<path d="M409.3,193.8L410.1,193.6L412.3,192.7L416.5,193.6L419.5,193.9L423.3,194.3L423.7,192.4L425.4,192.3L429.3,191.7L430.8,193.1L430.2,193.4L432.5,194.6L433.9,196.7L437.7,196.6L439.0,197.9L441.5,198.0L443.4,198.6L443.2,201.2L443.7,202.1L443.8,203.1L441.9,203.1L440.8,203.9L440.8,205.1L438.9,207.9L438.4,210.0L435.6,213.1L429.1,211.8L426.7,209.7L423.8,210.0L420.8,209.3L420.1,205.6L418.6,203.8L416.5,202.1L415.8,202.9L413.2,203.5L409.3,202.9L407.4,201.7L408.0,199.9L408.2,198.9L409.9,196.6L410.5,195.5Z" fill="#bfd3e6"/>
<path d="M473.8,219.0L476.6,217.5L480.3,220.1L481.5,220.1L479.0,210.5L484.0,208.9L489.9,212.1L492.7,214.4L496.9,214.1L498.9,213.9L501.8,215.8L502.0,217.3L503.4,218.3L507.0,220.4L509.2,220.0L511.3,218.3L512.5,217.7L512.7,216.2L517.4,215.7L518.7,215.2L522.3,216.0L525.3,216.0L529.6,216.2L532.4,217.8L529.2,219.9L526.4,220.9L522.4,222.4L520.8,225.0L521.7,227.2L524.2,227.7L525.1,230.8L522.6,230.4L520.4,231.4L518.3,232.2L517.2,229.0L514.6,229.8L513.4,231.0L510.2,231.5L509.6,230.9L506.7,230.5L504.7,230.2L503.3,231.5L500.4,234.4L498.8,236.0L496.3,235.1L495.4,232.3L493.6,232.3L491.0,230.1L488.5,229.6L486.0,228.1L484.1,228.7L482.2,228.8L481.2,230.2L479.3,230.5L474.6,227.5L472.4,222.2Z" fill="#bfd3e6"/>
<path d="M517.1,266.5L518.3,264.9L523.2,264.4L521.2,261.2L519.1,257.3L521.0,255.1L523.9,255.4L526.0,254.1L527.4,249.9L528.1,247.0L529.2,243.8L527.5,243.0L525.5,242.0L524.8,237.5L531.2,236.7L532.6,235.4L535.9,238.5L536.6,243.0L537.6,246.4L539.8,247.4L543.4,249.3L545.6,249.1L550.2,251.7L553.5,253.6L555.6,255.1L560.4,255.4L561.9,255.0L562.5,257.0L563.4,254.9L566.9,255.1L568.6,255.7L570.3,255.5L572.8,253.6L574.4,251.7L577.2,251.5L579.0,253.0L581.0,254.5L581.4,253.8L583.1,256.2L584.5,256.3L585.4,260.7L583.5,263.6L583.9,266.0L586.3,265.4L587.1,267.8L588.6,268.6L588.3,270.6L590.8,272.4L593.0,272.2L594.5,273.2L594.1,269.8L594.9,269.9L596.5,269.4L598.8,269.5L601.7,267.5L605.1,268.7L605.2,271.0L607.2,272.0L608.7,272.2L610.2,274.9L608.3,277.6L620.5,289.4L622.7,315.8L609.1,327.7L603.2,326.6L594.9,319.8L585.1,307.9L570.4,297.3L557.1,305.3L551.0,301.3L546.8,303.9L546.7,306.6L542.3,311.9L523.6,289.4L512.6,271.0Z" fill="#bfd3e6"/>
<path d="M496.3,235.1L498.8,236.0L500.4,234.4L503.3,231.5L504.7,230.2L506.7,230.5L509.6,230.9L510.2,231.5L513.4,231.0L514.6,229.8L517.2,229.0L518.3,232.2L520.4,231.4L522.6,230.4L525.1,230.8L524.6,231.4L518.9,233.0L517.8,233.9L519.3,236.4L518.6,238.3L516.5,239.3L516.9,241.4L516.0,242.0L516.1,244.9L513.6,245.4L510.2,247.5L510.5,250.3L505.5,251.5L502.2,251.5L498.4,250.3L500.0,247.8L499.5,246.2L497.5,245.9L496.2,241.7L496.6,240.5L495.5,239.1L496.3,237.7Z" fill="#9ebcda"/>
<path d="M498.4,250.3L502.2,251.5L505.5,251.5L510.5,250.3L510.2,247.5L513.6,245.4L516.1,244.9L516.0,242.0L516.9,241.4L516.5,239.3L518.6,238.3L519.3,236.4L517.8,233.9L518.9,233.0L524.6,231.4L527.4,232.2L532.6,235.4L531.2,236.7L524.8,237.5L525.5,242.0L527.5,243.0L529.2,243.8L528.1,247.0L527.4,249.9L526.0,254.1L523.9,255.4L521.0,255.1L519.1,257.3L521.2,261.2L523.2,264.4L518.3,264.9L517.1,266.5L512.3,268.3L502.1,265.7L501.7,262.5L502.0,259.6L504.8,258.7L504.8,257.3L503.3,254.5L500.9,253.6Z" fill="#9ebcda"/>
<path d="M598.3,198.0L593.2,197.0L591.2,198.6L586.8,199.7L582.4,199.2L577.4,196.9L573.8,196.6L568.1,196.1L566.8,194.2L559.2,192.3L558.1,193.8L560.2,196.4L559.2,198.3L553.2,197.6L547.1,195.6L543.6,197.9L541.0,199.7L540.7,199.8L541.8,201.2L546.7,203.0L550.3,206.4L551.7,210.0L557.4,210.6L562.2,212.4L566.1,216.3L573.8,216.6L577.8,217.0L585.4,219.2L588.9,217.3L593.7,217.1L596.1,214.7L597.5,213.7L595.9,210.5L599.7,211.1L603.1,208.7L603.7,207.1L605.2,206.9L609.8,206.0L606.6,203.8L605.0,202.7L603.2,203.5L599.2,203.0L598.7,201.5Z" fill="#bfd3e6"/>
<path d="M629.1,223.5L631.3,220.9L632.1,219.0L635.0,219.9L634.7,218.3L637.0,217.1L639.2,217.5L642.3,219.6L642.6,226.2L639.6,227.2L637.3,228.0L637.0,229.2L635.8,229.4L632.3,229.3L629.7,226.2Z" fill="#bfd3e6"/>
<path d="M440.8,234.3L442.3,233.4L441.9,231.9L444.9,231.8L447.2,232.2L450.7,231.2L454.3,231.2L452.3,233.0L452.4,235.1L452.4,238.3L447.9,241.0L443.8,243.8L441.2,242.7L441.3,241.2L441.6,240.4L442.7,238.8L442.0,237.7L441.2,237.6L439.6,236.7Z" fill="#bfd3e6"/>
<path d="M454.3,231.2L459.6,231.0L461.4,234.0L463.5,236.2L462.2,239.3L464.1,241.7L468.4,245.1L468.4,247.2L469.3,248.7L470.7,250.0L470.2,250.7L469.4,249.9L468.8,249.6L466.5,252.2L462.3,252.0L455.7,247.0L451.9,244.7L449.1,244.2L447.9,241.0L452.4,238.3L452.4,235.1L452.3,233.0Z" fill="#bfd3e6"/>
<path d="M460.5,285.7L461.4,283.1L463.7,283.1L466.0,283.1L469.5,283.5L471.3,283.9L472.8,281.1L474.7,279.9L481.3,278.9L484.3,285.1L485.4,288.1L473.2,296.0L461.6,297.3L459.0,289.4Z" fill="#bfd3e6"/>
<path d="M323.5,296.4L327.4,295.6L330.4,295.6L332.0,296.0L333.6,296.4L335.7,296.3L335.7,295.0L335.3,292.3L333.9,290.1L337.0,288.9L340.4,288.1L349.4,288.1L349.8,285.9L349.2,285.5L347.2,263.1L351.1,263.1L364.8,273.3L364.8,274.4L369.4,276.8L369.7,278.9L371.8,278.5L375.4,277.7L379.2,274.0L389.4,267.0L388.4,264.9L385.4,264.1L383.4,259.9L384.5,259.1L384.2,254.4L383.4,249.2L382.2,244.3L380.5,243.3L378.7,239.8L380.4,237.7L380.1,232.7L380.8,231.5L380.8,229.8L362.1,231.9L357.7,234.0L352.3,234.0L350.1,234.1L347.9,234.6L344.6,235.4L335.5,242.0L316.8,263.1L315.8,297.3Z" fill="#bfd3e6"/>
<path d="M380.8,231.5L380.1,232.7L380.4,237.7L378.7,239.8L380.5,243.3L382.2,244.3L383.4,249.2L385.1,247.5L385.0,245.4L387.6,243.5L387.5,241.6L388.6,239.3L387.0,228.8L380.7,228.8Z" fill="#e0ecf4"/>
<path d="M323.0,293.1L327.4,292.6L330.2,293.4L330.2,294.2L327.0,293.7L323.0,294.6Z" fill="#9ebcda"/>
<path d="M417.4,242.0L419.1,271.0L447.6,271.0L443.7,263.1L439.9,255.4L440.4,251.2L438.4,246.4L437.4,242.0Z" fill="#bfd3e6"/>
<path d="M450.7,281.5L447.2,284.2L446.3,288.9L446.4,291.3L448.7,291.5L449.5,289.7L452.1,290.5L454.4,290.9L456.8,293.1L460.2,296.0L461.8,295.5L462.6,293.4L456.5,285.5L452.7,280.2Z" fill="#bfd3e6"/>
<path d="M333.9,290.1L337.0,288.9L340.4,288.1L349.4,288.1L349.8,285.9L349.2,285.5L347.2,263.1L351.1,263.1L364.8,273.3L364.8,274.4L369.4,276.8L369.7,278.9L371.8,278.5L375.4,277.7L379.2,274.0L389.4,267.0L394.4,269.4L396.2,268.3L397.5,273.6L397.8,276.2L397.8,284.4L393.3,290.8L393.6,292.9L391.0,294.4L386.8,293.8L382.9,295.1L380.1,293.8L378.1,294.7L374.8,292.3L371.6,293.4L370.5,295.9L370.4,298.1L370.4,302.6L368.5,308.4L368.4,312.1L368.4,314.5L365.9,314.5L365.9,312.6L365.8,310.5L365.9,305.3L365.3,304.2L364.0,301.6L364.2,300.0L361.8,299.7L355.5,300.0L355.6,303.4L351.4,303.4L349.3,301.4L347.7,301.3L346.1,301.8L343.5,302.1L343.1,305.3L344.0,306.7L342.8,309.0L342.5,309.1L340.5,309.5L340.3,307.0L338.2,306.6L337.5,308.6L335.4,310.7L334.2,313.2L328.4,307.9L325.0,301.3L327.3,300.1L328.1,298.7L330.4,298.1L330.4,295.6L332.0,296.0L333.6,296.4L335.7,296.3L335.7,295.0L335.3,292.3Z" fill="#8c96c6"/>
<path d="M396.2,268.3L398.5,267.1L417.1,277.6L417.4,287.6L414.9,287.9L414.1,291.5L413.6,293.7L412.8,295.5L413.9,295.8L415.2,300.1L412.4,301.3L409.4,305.0L406.2,305.5L405.3,307.6L401.6,308.7L398.1,309.2L397.6,309.0L394.6,303.2L398.0,302.6L396.8,298.7L395.6,295.0L393.6,292.9L393.3,290.8L397.8,284.4L397.8,276.2L397.5,273.6Z" fill="#8c6bb1"/>
<path d="M368.4,312.1L368.5,308.4L370.4,302.6L370.4,298.1L370.5,295.9L371.6,293.4L374.8,292.3L378.1,294.7L380.1,293.8L382.9,295.1L386.8,293.8L391.0,294.4L393.6,292.9L394.7,294.4L395.0,296.3L395.9,298.7L394.1,300.0L392.7,302.6L391.8,305.8L390.4,306.8L389.5,310.3L387.9,311.6L385.6,310.5L384.9,311.1L383.0,313.4L382.6,315.8L381.9,316.9L381.9,319.8L368.4,319.8Z" fill="#8c6bb1"/>
<path d="M398.1,309.2L401.6,308.7L405.3,307.6L406.2,305.5L409.4,305.0L412.4,301.3L415.2,300.1L416.8,302.9L416.7,305.8L417.8,306.1L419.6,303.2L423.6,303.9L427.1,304.3L429.4,303.4L430.8,302.6L433.5,303.3L437.1,298.1L436.9,297.3L438.9,296.8L438.8,300.5L440.7,302.2L441.0,303.9L441.3,306.3L438.8,308.2L441.1,310.0L442.8,311.3L444.2,314.8L445.8,316.9L441.2,317.9L438.9,318.8L436.6,319.5L434.3,319.2L433.9,319.8L433.8,322.7L435.0,323.2L434.3,323.7L432.5,326.1L431.8,327.7L431.1,330.3L431.1,332.7L430.1,333.5L429.6,336.1L430.1,337.7L430.5,340.9L430.7,344.8L433.5,350.6L429.2,351.4L428.0,353.5L428.6,354.6L428.4,357.2L427.9,360.4L429.2,361.7L431.1,361.0L431.0,364.5L429.1,364.3L427.8,361.7L425.1,359.6L424.4,360.5L422.3,360.4L420.9,359.9L420.7,358.5L418.6,359.1L417.7,357.8L413.5,358.3L412.9,354.3L412.7,350.4L412.8,348.3L409.7,348.3L409.3,347.5L407.4,347.5L407.2,350.1L403.0,350.4L401.4,348.0L400.7,344.4L392.3,344.4L390.0,345.1L390.0,344.2L390.9,344.0L392.6,341.1L393.3,341.7L395.6,341.9L397.7,340.3L399.8,337.7L399.8,334.8L403.3,330.3L403.6,326.4L404.3,322.9L405.4,319.8L402.8,319.5L400.5,321.1L399.8,323.2L397.3,318.7L395.8,315.8L395.8,313.2Z" fill="#8c96c6"/>
<path d="M429.6,336.1L430.1,333.5L431.1,332.7L433.2,331.8L434.1,335.1L433.8,337.7L431.7,340.7L430.5,340.7L430.1,337.7Z" fill="#bfd3e6"/>
<path d="M462.3,298.7L461.5,300.1L461.1,301.0L463.0,303.9L464.2,305.3L471.3,307.9L473.6,307.9L466.8,315.8L462.2,316.6L459.9,318.2L459.6,318.6L457.6,321.6L457.6,331.4L458.9,333.4L462.2,335.6L485.4,315.8L484.7,294.7L463.9,296.8Z" fill="#8c96c6"/>
<path d="M383.1,326.4L388.4,326.4L388.4,322.9L393.1,323.2L393.1,325.6L395.2,325.3L395.9,330.6L394.5,333.0L395.6,334.3L391.2,335.1L389.1,336.4L389.8,338.2L387.9,339.4L385.4,340.9L380.7,331.6Z" fill="#bfd3e6"/>
<path d="M407.7,387.0L407.5,394.3L408.8,399.8L411.1,399.8L413.5,396.3L414.2,395.7L419.8,396.8L420.9,394.3L423.5,391.4L426.6,388.6L429.0,387.6L426.0,386.0L425.4,383.1L422.1,380.4L420.1,376.0L417.2,376.5L415.6,376.5L410.3,377.3L410.0,387.0Z" fill="#bfd3e6"/>
<path d="M422.6,407.1L424.9,405.2L427.0,404.8L428.0,406.5L427.2,408.1L425.0,409.8L423.3,408.9Z" fill="#8c96c6"/>
<path d="M432.3,396.9L434.3,397.4L434.6,399.7L432.7,401.0L431.6,399.7Z" fill="#bfd3e6"/>
<path d="M438.7,353.8L441.0,354.1L442.9,359.6L442.1,364.6L444.9,368.3L444.6,371.2L443.3,374.1L441.3,372.0L441.9,369.4L441.5,367.0L438.3,365.9L437.7,364.9L438.9,362.2L439.2,359.6L439.3,357.5Z" fill="#e0ecf4"/>
<path d="M96.0,243.3L102.4,243.1L107.9,242.7L114.8,246.3L121.2,246.3L121.5,245.1L125.3,245.3L127.9,248.3L128.1,250.9L130.6,252.6L132.6,250.5L135.1,250.4L136.4,253.3L137.9,256.5L138.2,259.4L140.0,260.3L142.3,260.6L146.7,263.1L147.3,273.6L157.2,268.3L167.1,271.0L163.2,284.2L173.1,288.1L170.9,300.0L168.2,300.2L165.4,300.1L163.5,299.7L160.4,301.3L142.2,297.3L108.4,289.4L90.0,263.1Z" fill="#bfd3e6"/>
<path d="M169.5,307.8L169.7,305.5L170.6,303.8L172.0,301.3L183.5,302.6L182.5,306.2L181.1,310.0L178.4,313.2L169.1,311.9Z" fill="#bfd3e6"/>
<path d="M197.8,277.0L197.5,279.9L196.9,280.7L197.3,281.5L196.6,283.4L188.6,282.8L189.5,274.9L198.0,274.9Z" fill="#9ebcda"/>
<path d="M182.5,306.2L186.0,300.0L195.7,293.4L197.8,296.0L197.0,297.9L194.1,299.7L192.7,304.5L194.0,306.8L194.7,310.5L199.2,310.5L200.7,312.9L205.1,312.6L204.3,317.1L205.4,320.0L204.2,321.6L206.3,325.8L205.8,324.5L199.5,324.5L199.5,326.1L200.9,326.4L200.4,327.4L198.9,327.5L198.9,329.5L199.9,330.3L199.3,340.1L197.5,339.0L199.0,336.1L192.3,335.3L191.6,333.7L188.8,330.3L186.7,329.3L184.3,327.9L181.8,327.9L178.5,325.2L175.8,324.3L178.3,315.8L179.6,310.5L181.1,310.0Z" fill="#e0ecf4"/>
<path d="M200.8,357.9L202.7,358.0L207.6,355.1L210.6,354.8L210.9,359.3L213.1,361.8L216.4,362.4L219.3,364.6L222.3,365.4L223.7,372.0L227.6,372.0L228.1,374.6L230.1,377.0L229.1,381.2L226.7,379.9L220.8,380.8L219.3,387.7L215.7,389.3L215.5,387.0L211.1,386.5L209.1,389.1L207.5,389.3L206.4,385.7L205.6,384.1L205.2,380.2L203.9,379.1L203.5,376.7L202.4,375.2L202.1,374.6L203.2,372.0L202.6,369.6L203.0,366.5L202.5,362.0Z" fill="#9ebcda"/>
<path d="M202.4,375.2L203.5,376.7L205.2,380.2L205.6,384.1L206.4,385.7L207.5,389.3L209.1,389.1L209.6,389.7L209.2,392.3L206.9,393.6L207.2,398.1L208.0,400.0L206.5,402.1L205.4,403.9L205.2,406.3L205.8,408.7L205.0,411.3L206.9,416.0L208.3,419.2L207.6,421.8L208.2,424.2L206.9,425.3L207.9,429.2L208.9,431.1L207.8,433.4L208.7,437.1L209.6,440.0L209.8,442.3L211.1,443.9L212.2,447.0L213.7,448.8L213.6,451.6L213.8,453.2L213.7,455.3L214.2,457.6L213.4,458.6L213.6,460.6L216.6,462.2L217.7,464.7L218.8,465.5L222.6,465.5L226.1,466.2L226.3,466.7L226.1,467.1L228.5,472.7L233.0,473.7L234.0,477.9L210.3,473.0L183.0,376.5L200.5,377.4Z" fill="#e0ecf4"/>
<path d="M236.5,313.8L235.3,316.1L235.5,318.4L236.4,319.8L234.9,322.8L236.8,322.9L238.9,323.2L240.1,321.1L241.9,318.2L243.4,317.1L241.2,313.2L236.6,311.9Z" fill="#e0ecf4"/>
<path d="M690.5,334.3L689.8,347.2L689.5,347.2L689.8,348.0L689.3,354.1L697.9,359.3L714.2,359.3L715.2,350.1L707.6,342.2L697.5,335.6Z" fill="#9ebcda"/>
</g>
<path d="M461.7,207.9L461.0,209.2L459.7,211.0L462.5,215.7L464.7,218.3L467.1,220.4L468.1,222.0L470.2,222.7L468.4,223.5L468.3,225.4L467.9,227.7L469.7,230.1L473.3,231.9L476.6,232.2L479.8,231.7L479.0,228.8L478.2,226.2L475.9,223.5L474.9,220.9L477.3,220.1L478.1,219.1L475.8,218.3L473.6,218.3L472.1,216.2L469.9,214.1L467.5,212.1L469.0,210.5L471.9,209.5L471.8,206.6L469.2,205.3L466.4,205.8L463.6,206.9ZM196.2,300.1L197.1,301.6L197.1,303.7L195.9,305.0L195.1,303.7L195.3,301.6Z" fill="#fff"/>
<g clip-path="url(#land)"><path d="M112.1,200.2L168.4,200.2L168.9,199.2L169.1,201.0L173.0,201.7L175.7,202.5L178.5,202.7L181.3,202.0L184.3,203.8L186.9,205.6L187.5,206.6L188.7,207.6L188.8,208.4L190.1,209.7L189.2,214.1L188.0,215.7L187.4,216.7L185.8,217.5L185.5,218.3L186.7,219.1L190.2,217.8L195.0,216.2L195.3,215.0L196.4,214.1L200.4,214.1L201.7,212.8L204.7,210.9L206.1,210.5L212.8,210.5L214.5,209.7L216.2,208.0L217.4,206.1L219.8,204.2L221.5,204.4L222.3,205.2L221.1,208.7L221.5,209.7L222.1,210.8M125.0,150.3L100.5,172.0L104.1,171.9L103.8,175.2L106.8,174.1L109.5,174.2L110.0,176.6L109.2,181.0L111.1,182.8L109.0,185.0L107.2,185.8M157.3,282.0L156.6,287.1L157.3,287.1M158.7,287.6L156.3,289.7L155.8,291.0L153.9,292.7M155.8,291.0L157.7,292.2L159.3,292.3L159.2,293.7M160.2,294.7L161.7,293.9L163.2,292.2L164.1,292.3L166.2,290.0L170.3,289.4M163.5,299.7L165.4,300.1L168.2,300.2M169.5,307.8L169.7,305.5L170.6,303.8M197.8,277.0L197.5,279.9L196.9,280.7L197.3,281.5M222.8,306.4L223.2,307.4L221.1,309.2L221.9,310.8L219.8,311.6L219.3,313.3L220.8,315.3L218.0,318.1L215.9,318.4L213.1,318.2L211.7,318.2L213.1,322.4L214.4,323.2L209.5,327.2L207.6,327.0L206.3,325.8M220.8,315.3L222.3,315.3L222.6,317.1L223.4,318.7L222.6,322.7L223.0,324.1L224.9,325.6L227.0,325.0L230.5,324.0L231.9,324.1L234.0,322.3L234.9,322.8M229.3,313.3L228.8,315.8L227.4,316.3L227.6,318.4L227.1,319.8L228.7,320.3L230.5,324.0M199.3,340.1L197.5,340.1L192.5,343.0L191.9,345.0L192.2,346.4L190.8,348.3L190.2,348.8L192.8,352.7L192.2,353.8L194.6,355.4L198.3,354.1L198.5,358.0L200.8,357.9M186.7,329.3L186.9,331.5L186.0,333.1L183.7,335.9L180.9,336.9L179.8,338.0L179.0,341.1L178.1,342.2L176.8,340.7L175.2,340.7L174.8,339.6L175.4,338.0M202.4,375.2L200.5,377.4M229.1,382.1L229.9,383.6L230.0,387.3L234.5,387.8L235.4,388.7L236.2,392.2L238.7,392.4L238.5,396.4M229.1,381.2L229.1,382.1M219.3,387.7L223.5,391.8L231.6,395.9L230.0,400.7L235.2,401.3L236.1,401.1L238.5,396.4M238.5,396.4L240.7,398.4L240.8,400.6L236.7,403.8L233.3,408.7M233.3,408.7L237.2,410.2L238.1,410.4L242.6,413.7L244.2,415.3L244.2,418.0M233.3,408.7L233.0,414.7L233.3,418.7M382.9,175.2L384.1,173.5L385.3,172.3L384.8,170.3L385.8,169.4L384.2,168.7L384.1,165.6L383.7,164.9L385.3,163.0L387.2,162.1L386.5,161.8L387.7,160.2L387.5,158.3L389.2,157.9L390.5,156.3L389.9,155.4L391.7,153.8L392.9,152.9L396.1,153.2L396.5,151.7L396.9,151.7M396.9,151.7L399.6,152.9L402.6,154.3L402.9,155.6L403.8,156.7L403.9,158.1L404.5,159.0M396.9,151.7L398.1,151.1L400.2,152.3L404.6,152.6L405.8,151.8L405.8,150.2L408.8,149.4L411.4,150.7L411.0,151.7M408.3,177.9L410.7,177.8L412.6,178.8L414.2,178.7M402.7,182.4L404.4,181.5L410.0,181.5L411.6,182.2L413.6,183.3L416.4,182.2M413.6,183.3L414.1,184.3L412.3,185.3L412.0,186.8L410.0,187.8L408.2,187.6L406.7,186.6L400.8,186.4M406.7,186.6L406.3,185.1L403.5,184.4M408.2,187.6L409.5,190.8L408.2,191.8L409.3,193.8M390.0,187.8L390.5,189.5L390.1,190.4L391.5,192.3L392.1,195.1L391.8,195.4L394.9,196.0L396.2,196.6L397.8,196.9L400.4,198.9L402.4,199.7L402.9,199.4L404.7,199.2L408.0,199.9M378.9,185.3L380.5,185.5M376.3,189.4L376.1,191.0L375.4,191.3L376.0,192.0L374.3,192.9L374.5,194.1L374.2,195.7L375.0,196.9L374.5,197.4L375.3,198.1L375.0,199.0L378.8,200.3L377.7,203.8M368.9,194.2L370.7,194.2L372.1,193.9L373.8,194.7L373.6,195.6L374.2,195.7M367.2,194.8L368.5,195.8L370.6,197.0L371.8,197.2L371.9,198.1L373.9,198.8L375.0,199.0M358.3,214.7L359.1,215.6L360.6,216.0L363.6,216.5L365.9,217.1L368.9,217.1M343.2,218.6L344.7,218.6L348.1,218.4L348.9,219.3L347.4,220.9L347.0,224.3L346.0,224.5L347.0,225.9L346.3,227.7L346.9,228.3L345.8,230.1L346.0,230.9M377.9,213.6L378.3,212.7L376.6,212.1L376.7,210.0L376.2,208.3L376.2,206.9L374.7,207.4L374.7,206.4L376.5,204.5L377.7,203.8L379.7,203.3L381.8,204.0L383.7,203.9L384.7,204.3L387.2,203.8L388.8,204.0L388.3,202.4L390.2,200.8L386.5,196.9L390.8,195.0L391.8,195.4M376.2,208.3L378.5,208.2L379.5,206.7L380.8,208.3L381.3,206.6L383.7,206.5L383.7,205.7L387.1,205.3L387.7,206.1L390.4,206.6L395.3,205.7M381.8,204.0L381.9,205.2L383.7,205.7M390.2,200.8L392.6,200.2L396.7,201.2L397.3,202.7L396.1,205.3L395.3,205.7M390.4,206.6L390.4,208.4L390.8,208.9M390.4,209.3L394.0,209.3L396.5,206.7L395.3,205.7M396.5,206.7L401.4,208.2L404.1,207.6L409.0,202.7M397.3,202.7L400.7,203.3L404.0,201.5L407.4,201.7M396.7,201.2L400.4,198.9M404.1,207.6L406.7,210.0L406.8,211.0L409.7,212.6L410.3,213.6L415.6,214.0L418.8,212.7L422.3,213.7M409.7,212.6L409.4,215.7L409.5,217.5L411.1,220.0L414.3,219.6L417.8,220.0L418.2,219.1L421.6,218.3M418.2,219.1L418.8,220.1L417.8,221.6M405.1,224.3L407.0,221.3L411.1,220.0M407.0,221.3L405.8,219.9L405.9,218.6L404.6,216.9L403.3,218.6M405.9,218.6L409.5,217.5M404.6,216.9L402.5,214.4L401.2,217.0M394.9,210.0L395.1,211.0L396.3,213.1L399.3,215.7L401.2,217.0M394.9,210.0L397.3,209.8L401.8,210.8L402.9,213.1L402.5,214.4M401.8,210.8L401.7,209.5L401.4,208.2M420.8,209.3L421.4,209.2L422.3,207.6L424.4,206.9L423.9,205.8L422.1,204.0L421.8,202.9L418.9,201.6L416.5,202.1M450.6,219.6L452.8,219.5L455.0,220.7L455.9,223.1L458.4,224.3L458.2,228.0L459.6,231.0M455.0,220.7L458.1,220.1L460.7,218.6M458.1,220.1L459.6,221.4L461.1,224.6L462.5,226.4M458.4,224.3L462.5,226.4L465.3,224.3L466.1,225.1L467.9,227.7M440.4,251.6L442.9,252.0L446.0,249.9L447.0,248.6L444.5,245.9L449.1,244.2M440.4,251.2L441.0,245.9L441.0,243.5L441.2,242.7M439.8,241.7L441.3,241.2M438.4,246.4L440.3,251.2M466.5,252.2L469.3,253.8L470.8,253.7M477.3,263.7L479.2,264.1M479.3,265.2L479.6,268.5L481.8,268.5L487.8,269.1L489.0,271.0L488.0,276.2L481.3,278.9M487.8,269.1L488.9,265.7L489.1,263.3L489.9,263.2M539.8,199.9L537.5,201.7L538.7,204.8L533.1,204.8L533.4,209.2L529.2,210.5L532.7,215.3L532.4,217.8M481.5,220.1L483.7,220.1L486.1,216.5L489.4,217.8L490.2,219.9L494.3,220.7L496.1,223.5L500.7,226.3L506.7,230.5M510.2,231.5L508.4,226.2L509.5,224.7L511.3,224.8L514.0,224.6L516.8,225.4L520.8,225.0M512.5,217.7L511.7,219.6L514.8,220.1L518.4,221.4L515.9,223.0L514.0,224.6M543.4,249.3L541.9,253.0L546.4,255.4L549.9,256.9L553.1,257.3L555.9,258.8L561.2,259.4L560.4,255.4M562.5,257.0L564.9,258.6L570.0,258.2L568.6,255.7M565.4,271.5L564.2,267.8L562.1,263.3L561.5,260.9L561.8,259.1L565.2,260.4L565.7,262.3L571.6,263.1L571.4,264.9L569.5,266.8L571.1,268.3L573.5,272.8L573.2,274.4M573.5,272.8L574.5,270.2L574.3,265.7L576.6,262.0L577.1,258.8L581.0,254.5M591.1,301.7L592.7,297.9L591.3,294.2L588.6,289.4L589.2,286.5L586.9,282.8L585.6,280.2L586.5,277.0L591.0,275.3L593.0,272.2M591.0,275.3L592.3,277.6L593.9,277.6L594.2,282.6L596.5,281.0L600.8,280.7L603.0,283.1L603.2,285.5L605.2,287.6L605.8,291.1L610.3,290.2M605.0,291.1L599.9,291.4L599.0,293.1L600.4,298.0M594.9,269.9L597.5,274.1L599.9,275.2L601.9,277.3L600.4,277.8L603.4,279.9L607.4,285.2L610.0,288.9L610.3,290.2L610.9,296.6L607.3,298.1L608.2,300.0L605.7,300.1L604.3,301.6M594.8,312.0L597.3,314.0L599.5,312.5M617.5,323.5L618.4,325.8L620.7,326.4L623.5,325.2L627.0,325.7L629.7,324.0L631.3,321.1L631.2,317.9L635.8,318.0M649.8,353.8L652.2,353.3L652.4,354.1M357.3,236.4L358.1,238.3L358.3,241.2L359.4,243.5L355.7,244.3L354.1,245.6L353.8,247.5L350.5,250.1L346.2,250.9L342.6,253.3L342.6,257.0L342.5,260.4L335.0,260.4L334.8,267.1L332.5,268.3L332.2,272.7L323.2,272.7M342.6,257.0L351.1,263.1M332.4,256.0L342.6,256.0M324.1,286.5L328.7,285.1L331.2,286.5L333.9,290.1M371.8,278.5L371.8,285.2L370.2,288.4L365.1,288.6L362.6,289.4L360.5,289.3L357.5,291.5L355.2,292.9L352.2,294.2L351.9,296.0L349.8,297.9L349.3,301.4M362.6,289.4L363.0,292.1L364.3,293.7L367.0,295.5L367.7,297.6L368.7,296.4L370.4,298.1M367.7,297.6L365.3,298.8L364.2,300.0M331.2,305.1L333.1,303.0L336.1,302.6L337.5,305.1L338.2,306.6M343.5,302.1L342.9,299.7L341.3,296.3L338.3,296.8L335.7,296.3M342.5,309.1L342.8,312.3L344.9,313.6L344.5,317.5M355.6,303.4L356.3,307.4L354.9,315.5M361.8,299.7L363.3,302.6L362.9,303.9L363.5,307.4L363.3,310.5L364.9,312.9M327.3,300.1L328.1,298.7L330.4,298.1L330.4,295.6M384.9,322.9L388.4,322.9L393.1,323.2L399.8,323.2M384.2,326.4L388.4,326.4M387.5,241.6L387.6,243.5L385.0,245.4L385.1,247.5L383.4,249.2M419.1,271.0L419.3,276.2L417.0,276.2L417.1,277.6M446.4,291.3L445.6,295.5L443.4,297.9L443.1,300.2L441.6,301.3L441.2,303.9M445.8,316.9L448.0,317.3L450.8,319.5L454.1,319.9L457.1,317.9L459.6,318.6M460.2,296.0L459.0,300.0L461.5,300.1M441.2,317.9L442.4,320.8L443.6,324.5L441.3,328.2L441.1,331.6L449.9,337.0L449.6,338.2L453.3,341.3M433.2,331.8L441.1,331.6M433.5,350.6L438.4,353.8L438.7,353.8M443.0,359.5L448.9,359.9L451.3,358.8L455.8,356.7M417.7,357.8L417.6,363.3L413.0,363.3L412.8,371.7L415.9,375.4L420.1,376.0M389.1,374.5L393.1,373.8L394.3,374.9L404.4,374.9L409.2,376.2L415.9,375.4M399.2,404.4L401.2,404.7L402.9,405.2L404.7,405.2L407.1,403.9L407.5,394.3M420.1,376.0L424.1,376.3L428.7,371.2L432.2,370.1L431.8,368.6L438.3,365.9M432.2,370.1L434.2,371.2L437.8,373.0L437.9,374.9L437.1,378.9L437.4,381.2L436.3,385.2L433.4,388.1L429.0,387.6M433.4,388.1L434.7,393.6L434.3,397.4M434.6,399.7L436.4,399.8M405.4,319.8L405.4,317.7L407.5,315.5L410.0,317.4L414.2,318.2L415.4,316.3L418.9,315.5L421.0,315.8L425.9,315.5L423.7,313.2L420.7,309.2L418.3,306.8L416.7,305.8M425.9,315.5L428.2,317.7L431.9,317.4L433.9,319.8M390.5,344.2L390.9,344.0L392.6,341.1" fill="none" stroke="#6f7b88" stroke-width="0.5" stroke-linejoin="round"/></g>
<path d="M219.6,286.3L220.5,285.6L221.3,286.3L220.5,287.0ZM220.6,290.4L221.3,289.8L222.0,290.4L221.3,291.0ZM223.8,294.3L224.4,293.8L225.0,294.3L224.4,294.8ZM213.0,280.7L213.6,280.2L214.2,280.7L213.6,281.2ZM465.9,362.8L466.5,362.3L467.1,362.8L466.5,363.3ZM487.9,384.7L488.9,383.9L489.8,384.7L488.9,385.5ZM348.4,167.9L349.3,167.1L350.3,167.9L349.3,168.7ZM358.7,172.0L359.7,171.2L360.6,172.0L359.7,172.8ZM355.7,175.2L356.5,174.6L357.2,175.2L356.5,175.8ZM347.7,178.1L348.8,177.2L349.9,178.1L348.8,179.0ZM349.3,179.3L350.3,178.5L351.2,179.3L350.3,180.1ZM640.6,240.9L641.7,240.0L642.8,240.9L641.7,241.8ZM650.1,259.1L651.0,258.3L652.0,259.1L651.0,259.9ZM652.7,254.4L653.3,253.9L653.9,254.4L653.3,254.9ZM696.2,293.5L696.8,293.0L697.4,293.5L696.8,294.0Z" fill="#e0ecf4" stroke="#8d949c" stroke-width="0.5"/>
<path d="M220.1,288.4L220.7,287.9L221.3,288.4L220.7,288.9ZM220.6,292.3L221.2,291.8L221.8,292.3L221.2,292.8ZM220.1,294.1L220.6,293.7L221.1,294.1L220.6,294.5ZM218.8,297.1L219.3,296.7L219.8,297.1L219.3,297.5ZM219.5,283.9L220.0,283.5L220.5,283.9L220.0,284.3ZM217.4,283.4L217.8,283.0L218.3,283.4L217.8,283.8ZM306.8,289.2L307.7,288.5L308.5,289.2L307.7,289.9ZM303.7,283.9L304.4,283.3L305.1,283.9L304.4,284.5ZM308.9,284.8L309.4,284.4L309.9,284.8L309.4,285.2ZM309.0,286.5L309.6,286.0L310.2,286.5L309.6,287.0ZM305.2,289.7L305.8,289.2L306.4,289.7L305.8,290.2ZM308.2,288.9L308.6,288.6L309.0,288.9L308.6,289.2ZM492.9,382.5L493.7,381.8L494.6,382.5L493.7,383.2ZM490.7,341.3L491.3,340.8L491.9,341.3L491.3,341.8ZM532.6,317.9L533.2,317.4L533.8,317.9L533.2,318.4ZM532.2,327.7L532.6,327.3L533.1,327.7L532.6,328.1ZM148.8,330.6L149.9,329.7L150.9,330.6L149.9,331.5ZM150.9,330.6L151.5,330.1L152.1,330.6L151.5,331.1ZM153.1,331.2L153.6,330.8L154.1,331.2L153.6,331.6ZM485.4,296.0L486.6,295.0L487.8,296.0L486.6,297.0ZM575.8,296.6L576.9,295.7L577.9,296.6L576.9,297.5ZM576.8,300.0L577.4,299.5L578.0,300.0L577.4,300.5ZM579.5,309.7L580.1,309.2L580.7,309.7L580.1,310.2ZM666.9,211.8L667.9,211.0L668.8,211.8L667.9,212.6ZM669.4,210.0L670.6,209.0L671.8,210.0L670.6,211.0ZM672.7,207.9L673.4,207.3L674.2,207.9L673.4,208.5ZM676.1,204.5L676.7,204.0L677.3,204.5L676.7,205.0ZM674.9,196.9L675.9,196.1L676.9,196.9L675.9,197.7ZM674.2,309.5L674.6,309.1L675.1,309.5L674.6,309.9ZM729.3,310.8L729.8,310.4L730.3,310.8L729.8,311.2ZM714.5,309.5L714.8,309.2L715.2,309.5L714.8,309.8ZM762.4,325.3L762.8,325.0L763.1,325.3L762.8,325.6ZM750.6,330.3L751.0,330.0L751.3,330.3L751.0,330.6ZM751.1,306.1L751.4,305.8L751.8,306.1L751.4,306.4Z" fill="#bfd3e6" stroke="#8d949c" stroke-width="0.5"/>
<path d="M461.6,359.9L462.4,359.3L463.1,359.9L462.4,360.5ZM464.3,361.2L464.9,360.7L465.5,361.2L464.9,361.7ZM376.8,328.3L377.5,327.7L378.2,328.3L377.5,328.9ZM381.4,319.8L382.4,319.0L383.3,319.8L382.4,320.6ZM452.7,345.1L453.5,344.4L454.3,345.1L453.5,345.8ZM454.0,342.7L454.6,342.2L455.2,342.7L454.6,343.2Z" fill="#9ebcda" stroke="#8d949c" stroke-width="0.5"/>
<path d="M349.2,234.6L350.5,234.3L352.4,236.2L355.5,235.9L357.3,236.4L359.9,235.1L362.3,234.0L364.9,232.7L368.6,231.9L373.0,231.9L377.1,231.4L380.8,231.7L383.4,230.6L384.5,230.9L386.1,231.4L385.0,233.0L385.3,234.6L386.5,236.2L384.3,238.5L384.4,239.8L386.6,241.2L389.3,242.5L391.3,242.2L393.6,242.7L395.8,243.5L396.4,245.6L399.1,246.7L402.3,247.8L405.0,249.1L406.9,247.5L406.3,245.1L406.7,243.5L409.3,242.2L412.2,242.5L413.6,244.1L415.4,244.6L418.2,245.6L422.9,246.2L426.8,247.5L428.9,246.4L431.1,245.6L433.3,246.2L434.0,246.4L435.0,250.1L437.7,255.1L438.6,257.8L439.9,260.4L441.5,263.6L443.0,266.0L442.9,268.3L446.3,271.0L447.1,273.6L447.3,277.3L447.9,279.4L450.5,281.5L451.9,285.5L453.1,287.9L454.8,289.7L457.2,290.8L460.1,294.2L461.8,295.5L462.3,297.6L461.2,298.7L462.2,298.9L464.1,301.3L466.4,301.6L469.9,300.5L473.3,299.7L476.1,299.2L479.0,297.6L480.9,297.9L481.3,301.6L480.0,303.9L478.2,307.9L476.0,311.9L473.8,317.1L469.2,322.7L467.6,323.7L464.6,326.4L461.1,330.1L459.0,333.5L457.4,335.1L455.7,336.1L454.5,339.6L453.3,342.2L452.3,344.8L453.5,346.9L453.9,350.1L453.3,352.7L454.4,355.4L455.8,356.7L456.1,360.7L455.8,363.3L456.3,367.2L455.7,369.9L454.2,372.0L451.8,373.8L448.3,375.2L446.8,376.5L444.6,379.1L442.0,381.2L441.4,383.6L442.7,385.7L443.0,388.3L442.8,392.0L442.0,393.9L438.0,395.5L435.9,397.3L436.4,399.7L435.5,402.9L433.9,405.2L431.5,407.9L429.4,410.8L426.5,413.9L423.9,416.0L420.6,418.2L418.6,418.7L415.0,418.9L411.0,418.9L406.1,420.8L403.5,419.7L402.6,419.5L402.7,418.4L401.8,415.5L402.8,412.9L401.2,409.4L400.0,405.5L399.2,404.4L397.5,401.5L396.2,399.2L395.9,394.9L395.1,391.0L395.1,389.4L393.6,384.4L391.4,379.1L389.2,374.6L389.3,371.2L390.2,368.6L391.0,364.3L393.1,361.7L394.1,358.0L393.4,354.8L392.3,352.7L392.7,352.2L391.9,347.5L390.7,345.1L390.5,343.5L389.6,341.1L387.7,339.0L385.4,336.4L383.8,334.0L382.6,330.8L383.8,329.0L384.2,327.9L384.5,326.4L384.9,322.9L384.9,321.1L384.2,318.7L382.8,317.1L381.4,317.1L378.4,317.4L376.1,317.7L374.7,315.3L372.6,312.4L370.0,312.1L367.7,312.4L364.9,312.9L361.6,314.4L359.8,315.3L357.4,316.3L355.1,315.5L352.8,315.0L349.3,315.5L344.6,317.4L341.2,315.8L337.0,312.4L335.4,310.8L333.1,309.2L331.4,306.6L331.2,304.7L330.3,303.9L328.5,301.3L327.3,300.0L326.0,297.6L323.5,296.3L323.3,294.4L323.3,292.6L321.7,290.2L322.7,289.4L324.1,286.8L324.6,284.2L325.4,281.3L325.0,278.1L324.3,277.8L323.2,274.1L323.1,272.8L323.6,270.4L325.7,266.5L328.1,263.8L329.3,260.2L331.6,257.8L332.4,255.9L333.1,255.4L336.2,254.4L339.2,251.7L340.4,248.8L340.3,245.9L341.5,243.3L343.3,241.2L345.3,240.4L347.1,239.3L348.3,236.7ZM476.2,360.7L477.7,364.6L478.5,369.4L476.9,369.9L475.6,376.2L473.8,381.8L471.5,387.6L468.9,394.7L464.4,396.5L461.9,394.9L461.3,390.7L460.8,387.0L463.7,381.8L463.1,377.8L464.3,371.7L466.4,371.2L468.8,370.4L472.4,367.8L473.0,364.9L475.0,362.0ZM350.3,233.8L349.9,234.0L348.3,232.7L346.9,230.9L344.9,231.4L342.5,231.4L343.1,227.7L341.8,226.9L342.7,224.6L343.5,220.9L343.2,218.0L342.4,216.0L344.4,214.7L345.9,213.6L349.9,214.1L354.1,214.4L358.3,214.7L359.2,213.1L359.6,209.2L359.6,207.4L357.6,204.8L355.9,203.8L353.1,203.3L352.3,201.7L355.0,200.7L358.8,201.2L358.9,198.5L359.9,199.4L362.3,198.9L365.1,197.4L365.3,195.3L367.1,194.8L368.9,194.1L370.1,192.5L371.4,190.0L372.8,189.3L375.9,188.8L378.0,188.5L379.0,187.8L379.5,186.5L378.8,185.0L378.0,183.5L377.7,181.3L378.5,179.8L380.9,178.6L382.2,178.3L382.2,180.1L381.9,181.3L383.1,181.8L381.8,183.0L381.1,184.3L380.6,185.5L381.7,186.5L383.6,186.5L383.5,187.5L385.8,187.0L388.3,186.0L390.0,187.8L393.4,186.8L397.2,185.5L398.7,186.5L400.8,186.5L401.0,185.3L402.9,183.3L402.4,181.3L403.2,178.8L405.1,178.3L407.0,180.1L408.2,180.1L408.4,178.1L408.4,176.6L406.4,176.1L406.0,174.7L408.5,173.9L410.7,173.7L414.4,173.9L416.1,173.0L418.3,173.0L416.0,172.3L414.8,171.3L412.1,171.5L408.5,172.3L404.9,173.0L403.3,171.8L401.5,170.3L401.0,167.9L400.4,166.5L401.1,165.3L403.3,163.5L405.6,161.6L407.1,160.9L405.3,159.3L404.4,159.0L401.1,159.5L400.2,160.9L399.5,162.3L398.5,163.7L396.4,165.1L394.6,166.8L393.7,167.9L393.6,170.3L393.9,171.1L396.2,172.0L397.3,173.2L396.0,174.4L394.3,175.9L393.8,177.6L393.5,180.1L392.9,182.0L392.1,182.0L389.8,183.5L389.6,184.0L387.3,184.0L386.6,182.5L386.8,180.8L384.9,178.3L383.3,176.6L382.9,175.2L382.0,173.0L381.3,175.2L379.1,176.6L377.3,177.4L375.4,177.6L372.8,175.4L371.8,173.9L371.9,171.8L371.3,170.3L371.2,167.9L373.4,166.8L376.0,165.3L378.2,163.9L380.8,164.6L380.8,162.1L382.5,160.9L384.0,158.6L384.7,156.7L387.0,155.6L387.8,154.0L390.2,152.7L391.8,153.1L392.4,150.7L394.0,150.2L396.4,149.6L398.8,148.9L401.5,148.0L404.7,147.2L407.6,147.4L409.4,147.8L413.9,148.7L412.5,150.2L415.8,150.0L418.1,151.6L422.0,151.1L427.0,153.4L430.9,154.7L433.5,156.7L432.0,158.1L428.7,158.6L423.1,157.4L419.5,157.0L423.4,160.4L424.0,162.1L427.4,163.2L429.2,163.5L429.8,162.3L434.1,161.8L432.5,159.7L435.3,157.7L439.0,158.1L438.3,155.2L436.1,152.7L440.7,153.4L441.8,156.3L444.7,154.9L447.7,153.8L452.5,153.1L455.3,153.6L459.1,152.7L462.0,151.8L463.6,150.0L464.4,149.8L470.1,151.1L473.9,151.8L475.9,152.2L479.8,153.1L476.6,150.7L473.3,148.5L472.3,146.3L473.3,144.2L475.0,143.1L479.3,143.5L481.8,146.3L482.7,149.6L485.2,152.2L488.0,154.0L490.0,156.3L487.9,158.1L489.6,155.2L489.0,152.9L485.3,148.5L483.8,145.2L484.4,143.7L488.4,144.8L489.9,144.6L493.6,145.2L496.6,145.9L500.2,148.5L499.0,145.9L491.1,142.0L498.9,141.0L498.6,138.9L502.0,137.7L508.7,136.7L515.4,135.9L519.0,133.5L522.3,134.1L527.2,135.5L533.8,135.9L538.8,137.3L541.4,140.0L537.1,141.0L532.6,142.7L536.7,142.0L540.8,141.4L544.5,141.8L551.1,142.0L555.6,143.1L559.4,141.6L565.8,142.3L571.5,143.5L575.5,147.4L579.3,147.8L580.8,146.3L585.4,146.1L590.6,146.3L589.4,144.2L592.0,143.7L599.4,144.4L607.2,145.2L608.7,146.3L614.7,147.6L619.9,147.2L625.8,147.8L631.8,150.2L637.7,150.2L643.0,150.5L647.2,149.4L650.9,151.8L652.1,149.8L657.8,150.2L667.0,151.8L679.7,160.2L679.4,161.8L677.3,161.6L685.5,165.6L688.4,167.2L682.1,168.4L679.1,170.3L679.0,172.7L673.2,171.5L670.1,172.0L668.5,173.0L666.5,173.2L669.7,176.4L669.7,178.1L674.7,180.8L675.0,182.0L676.9,185.0L678.0,189.5L675.9,190.0L677.0,192.5L676.7,195.1L671.8,191.3L667.3,187.5L662.3,182.5L660.5,178.8L661.2,176.4L661.2,173.9L662.2,171.8L662.3,169.1L659.9,166.8L659.6,168.7L655.4,168.4L654.1,168.7L650.1,169.1L651.9,173.9L650.9,173.9L647.6,175.2L644.0,173.9L640.0,174.2L634.4,174.2L630.3,174.4L628.4,177.6L627.4,180.5L628.6,185.0L625.8,185.8L631.8,187.5L634.2,188.0L636.5,187.3L641.1,189.5L643.2,193.8L646.6,197.6L648.9,201.5L648.3,204.5L648.2,207.4L647.1,210.5L646.0,213.6L643.8,216.2L640.7,215.2L639.4,217.3L638.6,219.6L639.3,221.2L638.0,223.5L636.8,225.4L639.9,227.5L643.7,231.4L645.4,234.0L645.7,236.2L643.4,236.9L640.6,238.3L639.2,235.4L638.4,232.7L637.2,230.1L634.5,229.3L632.3,227.5L632.1,225.4L629.2,223.5L626.9,224.8L624.6,226.4L623.2,224.8L623.8,222.2L620.9,221.4L618.8,223.8L616.5,225.6L616.5,226.9L619.0,228.8L620.9,230.6L623.7,229.6L626.1,230.1L628.8,230.6L628.8,231.7L625.9,233.0L625.2,234.0L624.1,236.7L627.2,238.8L629.5,242.0L632.9,245.1L633.7,247.2L632.3,248.6L631.4,249.1L634.6,250.1L635.3,253.8L633.8,255.4L632.7,259.6L631.3,263.3L630.2,264.6L627.6,267.5L624.0,269.1L622.4,270.2L620.9,270.4L617.7,271.8L614.5,273.1L614.9,275.5L612.7,273.6L612.0,272.0L609.3,272.0L606.6,273.9L604.7,276.2L604.4,278.9L606.7,282.0L609.8,285.5L611.6,286.8L613.7,290.8L614.9,294.7L614.9,297.3L613.5,300.0L610.6,301.6L609.2,303.7L606.3,306.1L605.2,303.2L604.4,301.6L602.0,301.0L600.7,298.9L598.9,296.8L595.7,295.5L595.3,293.7L594.3,293.1L593.3,293.9L593.4,297.3L592.7,300.0L592.2,302.6L593.0,304.7L594.8,306.6L595.9,310.0L598.0,311.1L599.8,312.6L602.2,315.0L602.8,318.4L603.8,322.4L604.8,325.3L603.2,325.6L600.1,323.2L598.0,321.4L596.3,318.4L595.7,314.8L595.1,312.1L593.8,310.8L592.8,309.2L591.1,307.9L590.4,307.9L590.3,305.3L590.8,302.6L590.5,298.7L590.3,296.6L589.1,293.4L588.9,291.8L587.6,288.9L586.7,285.5L585.0,284.4L583.5,285.5L581.7,287.3L579.3,286.8L579.3,282.8L578.5,280.2L576.7,277.6L574.9,276.0L573.0,274.1L572.1,272.3L571.3,270.2L569.4,269.7L568.5,271.0L566.3,271.5L564.1,272.0L562.9,271.8L560.7,272.6L560.5,274.4L560.1,276.2L557.9,277.0L556.5,278.6L554.9,280.7L553.5,282.3L551.4,284.4L549.7,286.0L548.3,287.3L546.9,289.4L547.5,293.4L547.8,294.4L547.1,297.3L547.1,301.8L546.0,301.8L545.4,304.5L543.6,305.8L542.1,307.6L539.9,305.5L539.1,302.9L537.7,299.2L535.3,295.0L533.9,291.3L532.2,288.1L530.7,284.2L529.2,279.1L528.5,276.2L528.4,273.3L527.5,271.5L527.0,272.8L526.8,273.6L524.4,274.4L522.0,273.6L519.4,270.4L522.2,268.6L520.4,268.9L517.9,267.0L517.1,266.2L515.5,266.0L514.1,263.6L512.7,262.0L508.3,262.5L503.3,262.8L501.5,262.8L499.4,262.3L495.7,262.0L492.9,261.2L490.8,258.3L489.1,257.5L486.3,258.6L484.0,258.6L480.6,256.5L478.0,255.4L476.1,252.8L474.4,249.9L471.6,248.8L470.8,250.1L469.7,251.5L470.9,253.8L472.0,255.9L474.0,257.8L475.5,259.1L475.8,261.5L477.3,263.6L477.1,261.7L477.9,260.2L479.0,262.3L479.2,264.1L478.6,264.9L480.2,265.7L483.6,265.4L485.6,264.4L487.4,262.3L489.0,260.4L489.5,259.4L490.0,263.1L490.8,264.6L494.0,266.5L495.3,266.8L498.4,269.7L497.7,272.6L496.3,274.9L494.4,276.2L494.4,278.9L492.8,279.4L491.8,281.5L489.0,282.8L486.5,284.2L484.3,285.2L482.4,287.9L479.7,289.2L475.4,290.8L473.0,292.1L469.6,293.7L466.2,295.2L462.7,295.5L462.0,293.9L461.1,290.0L460.5,286.8L459.9,284.4L457.3,280.2L455.5,276.8L453.1,274.9L451.6,272.3L449.7,268.3L448.6,265.4L446.4,263.1L444.6,259.9L442.1,256.5L440.8,254.9L439.9,254.9L440.5,251.2L440.3,251.2L439.5,255.1L439.1,255.9L437.7,254.6L436.7,253.6L435.3,250.1L434.2,246.4L437.4,247.0L438.5,246.4L439.4,244.3L439.6,242.5L440.4,239.6L440.9,238.0L440.8,235.4L441.1,232.5L439.6,232.5L437.5,231.9L435.8,233.5L433.4,233.8L431.9,232.7L429.0,231.7L428.7,233.3L425.7,233.3L423.6,231.9L421.6,231.4L421.1,229.0L419.0,228.0L420.3,227.7L419.6,225.4L418.3,224.8L418.4,223.5L418.7,223.0L421.1,222.7L424.2,222.5L426.1,221.6L424.1,220.9L424.2,220.4L426.2,220.7L429.1,220.1L430.8,219.1L432.9,218.3L436.5,218.3L439.5,220.1L442.2,220.9L444.2,221.2L446.9,220.9L450.5,219.6L450.6,218.0L448.7,215.7L445.7,214.1L441.7,211.8L440.0,210.5L438.4,209.7L439.8,209.7L441.0,207.9L441.0,206.1L443.1,205.1L439.4,205.1L438.2,206.1L435.2,207.1L434.9,208.7L437.9,209.5L436.0,210.5L433.7,211.8L432.2,211.5L432.0,210.0L429.8,209.5L431.8,207.6L428.5,207.6L428.1,206.4L426.2,206.4L425.6,206.6L424.9,208.4L424.0,210.0L422.3,212.6L422.4,214.7L421.0,215.2L420.8,217.0L421.6,218.6L422.2,219.6L424.0,220.3L423.8,220.9L421.9,220.9L420.9,221.2L419.3,222.5L418.3,223.4L417.9,221.7L415.5,221.2L414.3,221.2L413.1,222.7L412.1,222.9L411.1,222.0L410.6,223.5L411.4,225.4L412.2,226.2L411.8,226.7L414.1,228.3L414.2,229.6L413.3,229.0L412.0,229.0L412.5,230.4L412.5,232.7L411.2,232.7L409.4,231.9L408.3,229.6L409.1,228.0L407.8,227.7L406.8,226.4L405.6,224.6L404.9,223.8L403.7,222.5L403.5,220.1L403.3,218.6L402.2,217.5L400.4,216.6L398.0,215.2L396.6,214.4L394.0,212.8L393.2,210.5L392.1,209.7L391.2,211.0L390.2,209.2L390.8,208.8L389.3,208.8L387.7,209.5L388.0,210.8L387.9,212.6L390.5,214.1L392.2,217.0L394.0,218.3L396.3,218.6L396.0,219.3L398.2,220.7L400.6,221.8L401.8,223.3L401.5,224.1L400.5,222.9L398.9,222.2L397.9,223.0L397.6,224.3L399.0,226.2L398.0,226.7L397.8,227.7L397.0,228.9L396.0,228.8L396.3,227.2L397.1,226.2L396.6,225.1L395.6,223.4L394.3,223.0L394.0,222.0L392.7,222.0L392.6,221.3L391.5,220.4L389.8,220.1L388.0,218.8L386.9,217.8L385.6,217.3L384.3,215.7L383.8,214.3L383.1,213.1L380.8,212.1L379.3,213.1L377.9,213.6L376.0,215.2L374.6,215.4L373.5,214.9L371.8,214.7L370.3,214.4L368.9,215.4L368.5,217.0L368.9,218.6L366.8,219.9L364.7,220.7L363.6,221.7L362.1,223.8L361.5,224.8L362.5,226.7L361.0,228.0L360.6,229.8L358.0,231.7L356.7,231.9L354.5,232.2L352.5,232.2ZM57.2,151.8L58.8,152.9L60.6,155.2L64.1,156.3L65.2,158.3L61.0,159.7L54.8,162.3L53.1,162.3L50.8,161.4L51.9,160.0L48.1,159.5L49.6,157.9L44.5,160.2ZM692.4,357.2L693.6,360.7L694.1,366.7L697.2,368.6L697.4,373.6L697.4,377.3L698.5,379.8L701.4,381.8L702.9,384.7L705.0,388.3L705.2,390.5L705.9,392.0L707.8,394.4L709.4,394.9L708.1,398.6L707.3,401.3L707.4,403.1L707.1,404.6L704.7,408.1L702.6,411.8L700.6,414.2L698.3,415.8L696.0,418.2L694.4,419.7L691.1,423.2L688.6,426.7L688.0,427.9L682.9,429.1L677.9,432.1L675.9,430.3L676.2,429.0L672.0,431.4L668.6,430.1L666.7,429.0L666.7,426.3L667.2,423.2L664.6,423.0L666.6,420.8L666.3,418.9L662.8,421.8L665.3,418.7L667.7,414.7L664.6,417.9L661.2,420.5L660.8,420.8L659.5,420.3L659.3,415.8L659.0,413.7L655.4,413.4L654.1,412.1L649.0,412.6L644.0,414.2L641.7,414.2L636.3,416.8L631.0,418.4L626.8,418.6L621.0,421.5L617.1,420.9L615.5,419.7L616.1,417.6L617.9,416.8L619.3,413.4L619.1,408.9L619.4,405.0L619.3,401.0L617.9,398.0L619.5,398.4L619.8,394.7L619.7,392.3L621.0,388.6L622.5,386.5L622.6,388.1L624.8,386.1L628.9,383.5L631.5,383.1L633.4,382.5L636.8,381.5L639.3,380.4L642.7,376.5L643.2,373.8L645.0,372.3L646.2,374.8L646.9,371.9L649.1,369.9L650.7,368.0L653.1,365.9L655.4,365.3L657.5,367.8L657.5,369.4L659.7,368.3L661.0,368.3L661.7,365.7L663.2,363.3L664.9,361.8L667.6,361.2L669.0,360.9L667.7,358.5L671.2,360.1L675.0,361.2L678.7,361.2L677.6,364.1L676.0,365.7L674.6,368.4L677.1,370.9L679.1,372.3L682.0,373.4L682.9,375.2L685.8,375.0L687.8,371.2L688.9,368.3L689.2,364.6L690.3,362.4L691.4,358.0ZM628.0,350.5L629.7,350.4L630.8,351.2L629.5,352.2ZM617.5,323.5L616.0,326.4L616.8,329.1L616.5,330.8L618.4,333.5L618.7,336.8L622.2,336.9L625.2,337.7L628.7,338.2L629.1,339.9L632.2,339.3L633.4,335.6L634.2,332.4L636.0,330.8L636.1,326.9L639.3,326.4L636.6,323.6L635.9,320.3L636.4,317.8L639.5,315.3L636.8,313.6L634.5,310.8L633.7,310.8L632.0,313.3L629.7,315.8L627.3,317.3L625.2,320.6L621.4,322.7L620.7,324.8L619.0,324.5ZM721.9,342.3L723.8,344.6L724.5,346.8L723.0,345.9L721.7,343.8ZM350.6,197.5L352.0,197.6L353.8,196.7L356.1,195.8L358.1,196.1L359.9,195.7L362.7,195.7L364.1,195.2L364.9,194.7L364.9,194.1L363.5,193.8L364.1,193.1L365.3,192.0L365.6,191.0L364.7,190.1L362.9,190.1L362.3,190.3L362.7,189.3L362.3,188.5L361.7,187.3L360.9,186.3L359.6,185.5L359.0,184.3L358.2,183.0L357.3,182.5L355.9,182.5L357.1,181.8L358.1,180.1L358.7,178.8L358.3,178.3L355.8,178.3L354.5,178.6L354.7,177.8L356.2,176.5L356.4,176.0L352.7,176.1L352.1,177.6L351.0,179.3L350.2,180.8L351.5,181.5L351.0,184.3L352.8,183.5L352.2,185.8L353.5,185.8L355.5,185.3L355.3,186.8L356.2,187.5L356.2,189.0L355.4,189.3L353.2,189.1L353.6,190.3L352.8,190.5L354.0,191.4L352.7,192.3L351.5,192.8L352.1,193.6L353.7,193.6L355.7,194.1L356.7,193.8L356.1,194.6L353.7,194.6L353.1,195.3L352.0,196.6ZM655.5,337.4L657.6,337.2L658.2,338.5L656.8,339.2L655.4,338.5ZM382.0,215.7L382.1,216.5L382.3,218.3L381.7,219.9L380.6,218.6L380.6,216.9L381.4,216.5ZM413.7,235.4L414.7,235.4L417.3,235.8L419.4,236.2L419.6,236.7L418.7,236.7L416.6,236.8L414.8,236.2L413.9,236.0ZM437.9,234.8L436.6,236.4L436.0,236.9L434.7,237.7L433.3,237.3L433.0,236.4L434.3,236.2L435.1,235.8ZM769.5,375.4L772.3,375.2L772.4,376.5L770.2,377.1L769.2,376.5ZM773.6,372.8L776.4,371.7L776.1,373.0L773.8,373.8ZM640.3,351.2L643.1,350.9L647.3,350.4L647.7,351.2L645.3,352.2L640.7,352.2ZM427.4,128.3L430.7,127.8L435.8,127.9L434.1,128.6L429.9,128.8ZM381.1,183.8L382.4,183.5L383.1,184.3L382.5,185.0L381.3,184.5ZM396.7,179.8L397.8,177.8L398.4,178.1L398.0,179.3L397.1,180.2ZM611.2,278.4L612.7,276.4L614.9,276.0L616.3,277.0L615.5,279.4L613.5,281.0L611.5,280.2ZM659.3,323.5L660.3,325.0L661.9,325.0L660.8,326.9L662.2,328.2L660.3,327.9L661.2,331.1L660.1,329.8L659.4,326.9L658.9,326.4ZM660.4,219.6L661.4,218.8L661.2,217.5L662.6,216.7L666.5,218.4L667.2,215.7L669.5,214.8L666.8,212.3L665.2,213.1L661.4,211.5L657.7,209.2L657.4,210.0L659.2,212.3L660.2,214.9L658.2,214.9L659.2,216.7L658.6,217.5ZM662.6,219.7L663.7,219.9L665.2,222.2L667.6,224.6L667.8,226.4L667.5,228.3L669.2,231.4L669.3,233.3L670.7,234.8L670.1,236.4L669.4,236.9L668.4,235.1L668.5,236.2L667.5,236.4L667.7,237.7L666.3,236.7L666.1,237.7L664.1,237.6L662.8,236.7L663.3,238.3L662.8,239.6L662.2,240.8L660.1,239.6L660.0,238.8L659.8,237.7L658.3,237.5L656.8,238.0L654.0,238.5L651.0,239.3L651.2,238.3L652.8,235.5L656.2,235.2L658.4,234.8L659.9,235.1L659.6,233.5L660.1,231.9L659.4,230.6L660.6,230.1L660.4,231.3L661.3,232.1L663.0,231.0L663.6,229.0L664.0,226.9L663.6,225.4L662.2,223.8L661.8,222.0L661.5,220.3L663.0,221.3ZM321.4,163.7L324.5,163.7L326.1,164.4L327.9,164.6L331.6,163.7L334.4,162.8L336.3,162.3L338.0,160.9L338.2,159.7L336.6,157.8L335.9,158.1L333.9,157.4L331.6,158.6L330.3,158.2L330.1,159.3L328.9,158.3L326.4,159.3L324.6,159.7L324.4,158.6L322.9,157.5L320.4,158.6L319.0,159.7L322.5,159.7L323.2,160.9L319.5,161.4L323.0,161.8L322.9,162.5L322.8,163.0ZM349.5,192.1L349.8,190.0L350.1,189.3L349.9,187.5L351.3,186.6L351.0,185.8L350.3,184.5L347.9,184.1L346.0,184.6L345.1,185.9L345.5,186.8L342.5,186.9L342.2,188.9L344.3,189.5L343.3,190.3L342.5,191.2L341.4,192.3L341.7,193.1L342.5,193.9L345.1,193.4L347.2,192.5L348.0,192.2ZM606.6,346.9L608.6,344.6L610.5,345.1L613.9,345.6L614.6,346.8L618.7,347.3L619.7,345.9L621.8,346.7L624.0,348.0L625.6,349.4L627.4,349.3L627.8,350.6L627.9,352.1L624.5,350.9L619.9,350.8L615.3,349.4L612.3,349.3L609.4,348.4ZM650.9,239.6L652.9,240.2L654.2,242.2L654.3,244.9L654.3,246.3L653.4,247.2L652.7,245.6L652.1,246.6L651.3,244.3L651.6,243.0L649.8,242.9L649.0,241.4L649.3,240.6L650.1,240.4ZM631.2,351.2L632.4,350.6L633.1,351.4L632.3,352.5L631.2,352.2ZM638.8,280.2L639.7,279.9L642.5,280.2L643.2,283.4L643.5,286.0L642.3,287.3L642.9,290.2L644.3,291.8L646.2,292.3L648.3,292.6L649.2,295.8L647.2,294.7L645.5,293.9L643.5,292.3L641.7,292.9L640.6,291.5L641.1,290.5L640.2,290.8L639.2,290.0L638.4,287.3L637.9,286.0L639.2,286.5L638.8,282.8ZM653.2,303.2L655.4,307.1L656.3,310.0L655.5,312.4L654.3,310.5L653.9,314.2L653.1,313.4L650.4,311.9L650.7,309.7L648.8,309.0L645.9,310.8L645.8,308.4L647.3,307.1L648.6,306.3L649.9,307.4L651.7,306.6L652.9,305.3ZM640.4,293.4L642.2,293.7L643.2,295.8L642.6,296.8L641.5,295.5ZM646.9,300.0L648.3,300.2L649.4,299.5L649.7,302.6L648.3,305.0L646.6,304.2L646.0,302.6ZM707.1,343.8L709.9,343.5L711.1,343.0L714.6,342.2L716.2,340.1L716.6,342.2L714.5,343.8L711.8,345.5L708.6,345.4ZM737.4,382.0L740.2,384.4L742.8,387.8L741.6,387.8L738.8,385.4L737.1,383.1ZM667.9,331.2L670.7,329.9L674.4,331.2L674.7,334.3L675.6,337.4L677.6,337.8L679.8,334.8L683.3,332.8L685.9,334.3L689.8,335.7L690.5,335.9L693.6,337.3L696.4,338.4L698.6,339.2L701.3,342.7L704.0,344.7L705.8,346.4L703.8,346.8L704.4,348.8L706.3,351.6L708.6,352.9L710.1,354.6L711.9,356.0L709.9,357.1L706.5,355.9L703.5,354.1L701.3,350.4L698.6,349.2L696.4,350.1L695.1,351.2L694.5,353.0L693.0,353.5L689.4,353.0L687.2,350.4L684.4,351.2L682.1,351.2L684.8,348.0L683.2,343.5L678.5,341.0L674.4,339.2L673.4,338.6L671.2,339.6L670.2,336.8L669.5,336.3L673.0,335.3L670.7,334.8L669.3,333.2L667.3,332.4ZM713.3,335.7L716.0,338.0L718.2,340.3L717.8,341.5L716.9,339.3L714.6,337.0ZM576.8,138.3L576.2,136.5L583.4,137.1L588.1,138.5L584.7,139.3L580.3,139.5ZM591.3,138.1L597.5,138.5L598.1,139.3L593.0,139.1ZM586.4,142.0L588.4,141.2L592.3,142.3L589.7,142.7ZM446.6,145.9L446.2,145.2L447.0,143.5L447.8,142.0L448.8,141.0L449.2,138.9L451.6,137.9L454.7,136.7L460.2,135.9L466.3,134.9L467.6,135.9L464.4,137.3L458.6,138.9L457.0,140.2L455.8,142.0L453.8,144.2L456.6,146.3L457.6,148.0L453.5,148.3L450.7,147.6L447.8,146.7ZM742.4,419.7L742.8,421.3L744.5,422.1L743.2,426.1L745.2,425.3L744.7,427.4L744.8,428.3L746.3,429.2L749.8,428.4L747.8,430.5L745.8,432.1L742.9,433.2L741.6,435.0L738.5,437.1L735.4,438.7L734.9,437.9L737.2,435.8L738.0,434.3L736.5,433.4L736.5,432.6L737.7,432.0L739.6,430.8L741.1,429.2L741.9,427.6L742.1,426.7L742.5,425.0L742.2,422.6L742.0,421.8ZM732.0,435.8L731.8,436.6L731.5,437.9L734.2,437.1L732.9,439.0L730.3,440.7L726.7,443.0L726.1,444.4L724.2,444.6L721.1,445.9L719.0,447.8L716.8,449.7L713.1,451.5L710.2,451.6L709.5,450.6L707.6,450.5L708.3,449.3L711.2,447.2L713.4,446.5L715.7,444.9L717.5,444.5L721.7,442.3L724.9,440.9L727.0,439.0L729.4,437.6ZM634.3,306.8L635.1,305.5L637.6,302.6L639.1,301.0L639.8,298.7L638.7,299.2L638.4,301.3L636.5,302.9L634.6,305.3ZM644.3,297.6L647.2,298.4L647.1,300.2L646.1,301.3L644.7,301.3L644.8,300.0ZM403.3,176.9L404.1,176.1L406.0,176.3L405.6,176.9L404.0,177.6ZM641.1,186.5L645.3,190.0L647.7,192.5L651.7,196.4L654.7,199.4L657.3,201.0L653.1,199.9L654.4,202.7L658.5,205.8L659.4,207.4L657.0,206.1L657.2,208.2L654.8,205.3L652.4,201.5L649.5,197.6L645.6,193.8L642.0,189.3ZM649.7,296.0L652.0,295.8L653.6,299.5L652.4,302.1L651.5,302.4L650.4,300.2L651.4,298.7L650.2,298.4ZM381.7,220.3L382.6,221.2L382.9,223.5L382.7,225.8L381.7,225.6L380.8,226.4L380.2,225.6L380.3,223.8L379.9,222.1L379.6,221.0L380.1,221.3ZM659.9,337.4L662.5,336.4L666.7,337.2L666.6,339.0L663.6,338.0L660.6,338.2ZM503.4,131.0L502.1,128.3L496.9,127.1L506.9,129.2L515.2,131.0L518.5,132.3L511.8,132.9L506.8,131.4ZM658.7,238.8L659.5,239.8L658.9,241.3L657.1,240.6L656.8,242.6L655.2,242.0L653.9,241.0L654.9,239.6L656.5,239.3L657.2,238.4ZM389.2,228.8L391.0,228.4L392.4,228.7L395.9,228.1L394.9,230.1L395.4,231.3L395.0,232.3L393.1,231.3L391.7,230.6L389.5,229.7L389.1,229.3ZM725.9,346.7L728.1,348.3L727.6,348.8L725.9,347.5ZM729.9,348.8L733.2,350.9L732.7,351.4L730.1,349.6ZM732.5,353.5L735.2,354.3L734.8,355.1L732.6,354.6ZM735.1,350.9L736.4,353.5L736.8,354.3L735.4,352.5ZM736.1,355.9L738.3,357.0L737.6,357.5L736.0,356.7ZM547.5,303.4L548.4,303.2L550.6,306.6L552.3,309.5L552.1,311.9L550.7,312.9L549.6,313.4L548.4,312.9L547.7,310.8L547.5,307.9L547.6,305.5ZM639.9,342.5L640.0,343.8L642.3,343.8L642.1,340.9L642.4,338.2L642.1,336.4L643.9,336.1L645.2,339.6L645.8,341.8L648.1,340.6L647.5,339.4L647.1,337.4L646.0,334.3L644.6,333.7L647.0,333.2L649.6,331.6L649.7,331.2L648.2,331.4L645.5,331.2L644.2,332.7L643.0,332.4L641.9,331.1L641.8,329.0L642.6,327.7L645.2,327.7L648.9,327.7L652.2,327.9L653.9,325.2L652.9,325.0L648.7,326.5L644.0,325.6L643.5,325.6L641.4,329.0L641.3,331.1L640.0,334.0L638.9,336.1L639.0,338.4L640.4,339.6ZM583.8,314.2L588.9,315.2L591.9,319.0L595.7,322.4L598.3,324.5L602.1,327.4L603.9,331.6L605.5,333.7L608.9,336.9L608.6,340.9L608.2,344.4L606.8,343.5L605.4,344.3L602.9,341.9L600.2,339.3L597.3,335.6L596.0,331.6L593.0,328.2L592.0,324.5L588.4,320.3L585.8,317.9ZM638.2,354.1L640.6,353.5L642.3,355.4L640.3,356.2L638.6,354.8ZM633.3,351.2L635.5,350.6L636.8,350.9L638.7,350.6L638.4,352.1L636.0,352.5L633.2,352.7ZM378.1,129.7L382.4,129.5L385.3,129.2L388.3,129.7L390.1,131.0L394.0,131.8L390.5,132.9L390.1,134.1L388.1,135.7L384.9,134.9L383.2,133.9L382.2,132.5L379.1,131.4L377.5,130.4ZM388.8,128.8L390.8,128.3L395.2,128.5L401.1,129.0L400.1,130.3L395.1,130.4L391.2,129.9ZM394.2,132.5L397.3,133.1L396.2,134.3L393.7,133.7ZM637.4,262.3L638.7,263.1L638.4,265.7L637.8,271.2L636.2,269.4L635.2,267.0L636.1,263.8ZM671.7,436.3L674.6,437.5L678.4,436.6L679.1,436.8L676.8,440.2L674.4,442.8L673.4,442.2L671.1,444.0L669.7,443.7L670.3,440.2L671.1,437.1ZM648.4,356.3L649.8,353.8L652.3,351.9L657.0,351.0L657.7,351.3L655.7,352.7L652.1,354.3L650.3,355.9ZM746.6,367.8L747.8,368.6L747.2,370.4L746.3,370.1ZM747.5,371.2L748.4,372.3L747.6,372.8ZM748.6,375.4L749.4,375.7L748.6,376.2ZM657.4,147.2L658.0,146.3L660.2,147.6L658.9,147.8ZM66.2,146.3L68.8,146.2L69.4,146.8L67.4,147.5L64.0,147.6ZM383.4,183.3L384.9,182.5L386.4,182.4L386.5,183.5L385.8,184.5L385.7,185.3L383.9,184.5ZM231.6,197.9L235.4,198.6L236.6,199.9L233.1,199.4ZM222.9,132.3L229.6,132.3L233.7,130.6L234.6,128.6L231.8,126.9L225.0,128.3L222.7,129.5ZM235.6,165.9L240.7,168.1L243.0,168.9L243.0,167.0L239.3,163.8L244.5,165.8L245.6,165.1L247.6,163.2L246.4,160.4L244.4,157.7L247.4,157.9L249.1,160.4L249.6,161.1L255.4,157.2L254.4,155.2L251.9,154.9L248.8,152.9L248.5,151.3L247.9,148.5L244.4,146.5L240.9,145.7L238.7,144.2L236.1,143.3L233.6,141.5L231.9,141.6L226.5,142.3L224.8,143.0L224.1,141.4L220.5,141.3L216.6,143.5L215.4,145.2L214.0,147.4L215.6,148.5L218.1,149.6L220.6,149.6L223.8,149.8L228.8,149.9L231.0,149.1L231.3,151.1L232.9,152.5L233.7,153.8L236.7,154.5L236.5,156.3L232.8,158.1L232.7,159.7L225.5,160.0L223.5,161.8L225.6,162.8L230.3,162.3L233.8,163.9ZM185.3,258.8L186.4,258.6L186.1,259.1ZM184.9,262.5L185.7,264.9L185.2,265.2L184.5,263.8ZM187.5,259.1L188.1,259.6L187.7,260.4ZM157.0,145.2L158.3,147.0L164.0,146.3L170.5,144.2L176.8,142.3L175.9,140.4L170.1,140.0L164.8,140.4L161.8,142.7ZM199.4,138.5L205.2,138.9L210.5,137.7L211.3,135.7L204.9,135.9L201.4,136.9ZM232.3,143.1L236.9,143.3L239.5,142.0L235.3,141.4ZM210.7,138.9L214.8,139.5L216.5,137.9L212.9,137.7ZM168.3,271.4L171.9,269.0L172.8,268.5L174.7,267.9L176.5,268.2L178.2,268.1L180.0,268.6L181.1,269.5L183.6,270.2L185.3,271.5L186.0,272.0L188.3,273.2L190.7,274.4L192.5,275.6L190.4,276.4L188.5,276.4L184.1,276.6L185.6,275.3L183.8,274.4L182.5,272.2L179.8,271.8L178.6,270.8L176.7,270.7L175.4,270.7L174.6,269.3L172.2,270.4L170.8,270.6ZM212.4,138.1L217.2,139.5L223.1,140.0L229.4,140.0L236.6,139.3L237.0,137.7L231.9,137.3L225.3,137.7L224.7,136.1L221.5,135.5L215.8,135.1ZM271.8,151.1L274.6,150.5L274.4,149.1L270.7,148.9L269.7,150.5ZM225.2,136.3L233.1,136.1L238.9,136.5L243.1,135.3L246.9,132.9L250.4,131.6L255.5,130.1L261.8,128.8L267.4,127.4L274.3,126.1L276.6,125.1L270.9,124.5L263.1,124.0L254.7,124.2L245.5,125.0L237.5,125.8L233.4,126.8L235.6,128.5L239.5,128.8L236.0,129.9L237.0,131.0L231.6,132.5L228.6,133.9ZM280.3,173.2L278.1,172.4L277.0,171.1L273.6,170.3L271.5,167.9L271.2,165.6L269.8,162.8L268.9,160.0L269.0,156.4L270.4,154.0L272.2,152.5L275.7,151.3L276.6,149.8L271.6,148.0L276.9,147.4L271.0,146.1L271.3,143.5L272.0,140.0L271.3,137.5L267.8,136.9L265.1,136.5L259.2,137.1L256.7,135.8L253.6,134.9L257.6,134.0L253.2,132.5L260.2,131.4L267.2,130.1L266.9,128.8L271.1,127.3L277.3,125.9L285.5,125.3L292.7,125.0L300.0,124.4L307.3,123.7L316.6,123.3L325.1,123.7L327.6,124.5L331.3,125.8L333.2,126.4L345.8,126.8L342.8,127.8L339.0,128.8L336.6,130.1L334.1,131.0L334.4,132.9L333.4,133.9L333.6,135.4L331.0,137.9L332.4,138.5L329.7,140.0L328.7,141.0L326.8,142.5L325.7,143.5L326.2,145.0L325.1,146.3L325.5,148.5L318.8,148.5L316.2,148.9L320.4,148.9L324.8,149.2L320.8,150.7L317.3,152.7L311.1,153.8L307.3,153.8L303.6,156.5L299.0,158.8L296.0,159.5L292.2,159.7L290.5,161.8L289.1,164.4L286.9,166.3L285.1,167.9L283.4,170.3L282.2,171.8ZM103.8,187.3L102.1,189.5L101.0,192.5L100.3,190.5L101.3,187.1ZM4.8,276.9L5.6,275.6L7.1,276.6L7.5,277.6L5.4,279.0L4.7,278.6ZM194.1,276.6L196.8,276.8L198.1,276.5L200.2,276.8L201.9,277.0L203.7,278.1L204.6,278.9L205.4,279.9L204.5,281.0L203.9,280.5L201.7,280.3L200.3,281.0L198.9,281.0L198.0,282.6L197.3,281.5L195.6,281.0L192.7,281.0L191.2,280.6L192.1,279.8L195.3,280.2L196.1,280.1L195.5,278.6L195.6,277.7L194.7,277.0ZM182.3,280.7L183.4,280.2L185.6,280.5L186.6,281.0L187.1,281.8L185.7,281.7L184.9,282.3L183.3,281.5ZM-2.2,270.7L-1.3,270.4L-1.2,271.1L-1.9,271.2ZM193.7,151.6L195.1,152.9L199.6,152.7L201.4,150.9L198.7,149.8ZM67.0,179.3L67.8,180.1L72.1,179.1L73.4,177.6L71.6,177.7L69.4,178.3ZM4.1,273.7L5.1,273.7L5.5,274.4L4.4,274.7ZM179.7,138.1L183.6,140.0L191.7,139.1L195.8,138.9L197.8,137.3L195.2,135.7L187.5,136.3L181.9,136.5ZM104.1,146.7L98.4,147.8L92.0,148.9L88.2,150.2L80.2,152.0L77.4,153.2L79.3,154.7L79.1,156.1L81.4,156.3L80.2,157.4L80.0,158.0L76.0,158.3L76.9,157.3L75.7,157.3L72.3,157.9L70.8,158.3L66.4,159.5L68.2,160.3L67.8,162.1L72.1,162.1L75.6,162.1L74.2,163.5L70.9,164.4L64.9,165.6L63.1,166.5L60.0,167.9L58.1,168.7L56.8,170.6L56.2,171.5L56.9,172.7L59.8,172.9L56.5,176.0L60.3,175.6L63.8,175.6L66.2,175.9L62.1,178.7L58.6,180.2L52.5,182.5L46.4,184.4L44.2,185.0L40.2,186.0L43.6,185.8L48.5,184.6L53.7,183.1L57.0,182.0L63.0,179.9L67.9,178.0L71.7,176.3L75.0,174.3L78.2,172.7L82.3,170.8L86.4,169.9L84.5,170.6L82.0,171.4L78.9,173.7L77.3,174.7L83.8,172.9L86.6,172.9L87.9,170.8L92.5,170.1L92.3,171.5L93.8,172.7L98.3,172.9L101.0,173.8L102.4,175.9L103.6,177.1L103.5,179.9L103.8,182.8L104.6,185.8L107.1,186.8L107.0,189.0L107.0,192.0L106.1,194.6L108.4,196.6L109.9,198.0L112.0,199.4L112.1,200.2L111.7,202.0L110.7,203.8L108.7,205.2L110.7,202.5L107.2,201.7L106.0,205.5L105.1,207.3L102.4,211.5L98.7,216.1L97.9,219.0L95.6,222.4L95.5,225.0L95.1,226.3L95.4,228.8L96.2,229.3L95.7,230.9L96.1,232.5L95.8,233.3L96.6,235.0L97.0,235.8L96.7,237.9L98.5,238.3L100.8,239.3L100.7,240.0L102.4,242.0L102.4,242.9L102.9,245.0L103.0,248.6L103.0,250.0L104.8,252.2L105.5,253.4L105.4,255.1L103.0,255.5L104.3,257.4L105.6,258.6L107.8,259.8L107.4,263.6L108.1,264.4L111.3,267.1L111.9,268.6L112.5,268.2L111.6,265.3L111.1,263.1L110.2,260.4L109.3,258.0L109.1,256.9L108.3,255.1L107.3,252.6L106.0,250.4L106.0,247.2L106.9,245.1L109.2,246.4L109.9,248.8L110.3,251.2L110.8,253.0L112.5,255.4L114.1,257.8L114.4,258.6L115.2,261.5L117.3,264.1L120.0,267.8L121.3,271.0L121.8,272.2L121.5,274.5L120.4,275.2L121.4,277.3L123.0,278.8L124.6,280.7L127.4,281.7L128.8,282.4L132.3,284.6L135.3,286.0L138.5,287.2L139.7,287.7L142.9,286.4L145.8,286.8L148.0,289.4L149.2,290.6L149.9,291.3L152.4,292.3L154.5,293.1L157.5,294.2L159.0,293.9L160.0,294.7L160.3,296.0L162.2,298.7L163.1,299.3L163.3,300.2L163.2,302.6L164.7,303.8L165.3,302.8L166.8,304.2L167.8,306.8L169.5,307.8L170.7,307.4L172.8,308.7L174.1,309.9L176.2,309.3L175.2,307.6L177.4,305.4L180.0,306.8L180.5,309.2L181.1,310.0L182.5,306.2L181.1,304.5L179.0,303.8L176.7,304.3L174.1,305.5L171.2,304.3L169.6,302.6L168.1,300.1L168.2,297.3L169.1,293.4L169.5,291.9L170.3,289.4L167.4,287.2L164.0,286.9L162.1,287.3L159.5,287.2L157.9,287.6L157.6,286.5L158.7,285.5L159.4,282.8L159.9,280.5L160.7,280.2L161.7,277.3L162.0,275.7L164.0,273.2L163.3,272.0L160.6,272.2L157.4,272.8L155.5,274.0L154.8,276.6L153.9,278.4L151.5,279.8L149.5,280.1L145.3,281.1L143.5,279.7L141.8,278.4L140.6,275.7L139.7,273.7L139.0,270.3L139.9,266.2L141.1,263.1L142.3,260.6L142.9,256.2L145.4,254.1L149.6,251.7L152.0,250.7L155.3,251.1L157.5,251.5L159.8,252.1L162.1,252.5L161.7,250.9L161.7,249.6L163.0,248.9L165.5,248.8L167.3,248.9L170.5,249.6L171.0,250.8L174.0,249.7L175.8,252.1L175.8,255.5L176.6,259.0L177.1,260.2L178.3,262.7L179.9,262.7L180.7,261.1L181.3,258.6L181.1,254.0L180.5,252.0L180.2,248.9L182.4,244.6L185.1,242.6L190.1,239.7L193.7,237.7L196.3,236.0L196.5,234.0L196.5,231.7L195.9,231.4L196.4,228.8L197.1,225.5L198.4,225.1L197.5,228.8L196.8,231.0L199.6,227.6L199.9,226.7L199.5,224.8L200.4,226.3L201.8,225.2L203.6,222.4L203.6,222.0L204.8,222.0L207.1,221.3L208.6,220.7L207.9,220.5L205.9,221.0L204.5,221.3L206.6,220.3L208.3,220.1L209.6,220.0L210.1,219.1L210.6,219.6L211.6,219.6L213.2,219.2L213.0,218.1L212.1,219.0L212.0,218.4L211.4,217.4L212.6,216.6L212.8,215.6L214.2,214.0L216.0,213.4L217.2,212.8L218.8,212.4L221.0,211.5L222.1,210.8L224.4,209.8L227.4,208.7L226.8,209.6L230.2,209.6L227.8,210.0L224.5,211.5L223.0,213.6L223.8,214.7L226.2,213.0L229.1,211.5L232.9,210.4L235.0,209.7L237.6,208.2L237.3,207.3L237.5,205.2L236.0,206.2L234.4,208.8L231.7,208.7L228.4,207.3L228.1,205.1L229.9,202.7L226.0,202.6L230.9,201.5L231.3,200.7L229.0,199.5L224.5,200.6L222.1,201.6L219.4,203.1L215.1,205.7L217.5,204.0L219.4,202.4L223.5,199.7L225.1,199.4L228.0,197.1L233.7,197.0L237.3,197.1L242.3,196.1L247.7,194.1L249.4,193.3L251.5,192.0L252.0,188.8L250.0,188.3L249.4,187.3L247.0,184.8L245.4,183.9L243.6,181.2L243.7,177.1L242.6,171.8L240.0,173.9L237.7,175.6L233.6,176.4L231.7,174.4L231.8,172.7L234.0,170.1L230.3,168.9L227.6,167.0L224.4,167.5L221.5,166.5L220.5,167.0L217.7,170.8L218.3,172.6L214.7,176.5L215.1,181.0L211.2,184.3L206.5,185.9L206.9,188.0L206.0,191.9L203.6,194.1L200.6,194.3L199.3,190.1L200.7,187.5L202.2,184.6L196.7,184.4L193.0,182.5L189.0,180.1L185.5,179.9L184.9,175.8L185.7,172.7L188.9,170.1L195.3,166.0L198.8,164.7L204.0,163.5L207.7,160.9L211.9,157.4L214.5,158.0L221.2,155.2L224.1,152.2L224.2,150.9L221.9,150.1L218.8,150.2L213.9,154.0L210.8,155.4L209.3,152.7L209.8,151.1L208.4,149.6L210.0,146.3L207.7,145.2L203.3,147.4L201.3,148.7L201.3,150.7L204.0,150.8L201.1,152.9L198.0,153.6L197.1,154.7L194.0,153.6L187.8,154.5L183.0,153.1L177.9,154.0L174.8,156.5L173.4,154.3L164.4,154.5L167.9,152.9L165.1,151.8L158.3,150.7L152.8,151.0L153.8,149.1L149.9,150.2L149.3,148.3L144.6,149.7L138.0,150.8L131.9,151.9L128.1,150.6L125.0,150.3L121.9,149.4L114.6,148.7L109.7,147.8L106.2,147.6ZM240.4,203.8L242.4,201.5L244.6,198.9L246.8,195.8L250.2,193.6L251.4,193.6L250.6,194.6L247.4,197.8L249.3,197.5L250.3,199.4L252.7,198.4L253.3,199.5L253.8,201.0L252.0,203.0L253.9,202.5L253.8,203.9L252.3,206.2L251.1,206.1L251.2,203.5L246.9,205.7L249.1,203.8L246.0,203.8L243.7,203.8ZM51.2,172.3L54.0,171.8L54.0,172.7L52.3,173.2L50.5,173.0ZM0.9,272.2L1.7,271.8L2.1,272.8L1.1,272.8ZM228.9,206.4L231.7,206.9L233.8,206.7L232.4,207.9L229.8,207.4ZM194.6,145.2L199.1,146.5L205.4,144.2L206.1,141.8L202.2,141.0L197.2,142.7ZM172.8,136.9L178.7,137.1L185.7,134.9L183.0,134.1L175.3,135.7ZM208.0,280.2L211.4,280.6L211.0,281.5L207.8,281.7ZM205.7,132.9L212.7,133.3L218.1,131.9L214.9,131.0L208.0,131.2ZM182.5,306.2L183.6,307.4L186.0,304.2L186.9,301.6L188.8,300.0L190.2,299.3L193.3,298.5L196.3,296.2L197.0,297.9L196.1,300.0L199.0,299.2L200.1,296.8L200.9,298.7L203.6,299.2L204.5,301.3L206.9,301.0L209.0,301.0L211.6,302.4L213.3,301.3L216.1,300.8L218.6,300.8L217.2,302.4L219.4,303.2L221.0,305.3L222.8,306.6L226.9,311.1L229.3,313.3L233.7,313.6L236.6,313.8L240.4,315.9L242.2,317.4L243.8,321.9L245.9,324.5L244.9,327.7L246.8,329.3L249.3,329.7L250.5,330.7L251.8,330.6L255.4,331.9L258.9,335.6L261.0,335.3L264.9,336.6L267.8,336.4L272.5,338.8L275.8,341.8L279.6,342.7L280.2,344.3L281.2,347.9L281.0,350.2L279.3,354.5L277.7,356.7L276.2,357.8L274.4,361.4L273.1,363.3L272.1,368.0L272.2,372.4L272.1,375.8L270.9,379.9L269.9,382.5L268.6,387.0L266.5,389.4L263.8,389.5L260.6,390.5L256.9,392.3L253.5,394.9L252.3,396.3L252.4,398.2L252.8,401.8L252.6,404.2L250.7,406.3L249.7,408.9L248.5,411.6L246.4,413.8L244.2,418.0L243.6,419.7L241.4,421.2L238.6,421.1L234.8,419.9L233.3,418.7L233.7,420.3L235.8,421.3L236.8,422.5L236.5,424.0L238.1,424.7L237.3,429.2L235.1,430.8L231.5,431.6L228.1,431.8L228.6,433.9L228.7,435.8L228.0,437.2L223.2,436.4L223.8,439.2L225.2,440.2L226.7,440.0L227.4,441.7L224.8,441.8L224.9,443.2L225.3,446.2L225.1,447.5L221.9,449.7L222.4,451.3L226.4,452.9L226.8,454.6L225.1,457.3L224.5,458.6L223.6,460.4L224.2,464.4L226.3,466.3L224.1,466.6L222.8,467.2L222.1,468.4L222.1,470.2L219.2,469.0L216.0,467.2L213.6,465.5L212.1,464.2L209.8,460.4L207.9,456.5L206.4,452.7L206.0,452.2L207.2,450.6L206.9,447.5L206.7,444.9L205.5,443.3L204.7,439.7L205.0,438.9L203.8,434.5L204.4,434.1L203.0,430.3L202.1,428.2L202.6,426.1L203.2,422.1L203.5,418.7L203.5,416.2L203.1,413.1L202.4,408.0L202.0,404.0L202.3,400.3L202.4,398.5L202.4,396.0L202.0,391.4L201.6,389.8L202.0,387.3L201.6,382.3L200.7,377.8L198.2,375.6L196.5,373.8L194.8,372.9L191.0,370.8L188.8,369.5L185.8,365.5L186.0,365.1L183.5,360.8L182.3,358.3L179.7,353.0L178.5,350.4L176.3,347.1L173.6,344.3L173.4,342.5L172.8,341.4L174.9,338.2L175.8,337.6L176.0,335.3L174.9,336.0L173.4,334.8L174.0,331.5L174.5,330.1L175.6,328.9L176.5,326.4L178.6,324.3L180.7,322.1L182.6,318.7L181.7,317.9L181.7,314.5L182.1,312.5L181.1,310.0ZM206.3,145.0L209.3,145.2L216.1,143.1L218.4,141.2L213.7,140.6L209.3,141.8ZM211.0,159.3L214.8,158.8L217.5,162.8L218.2,163.9L214.1,163.9L212.9,163.0L208.1,164.9L205.8,164.2L209.1,162.1L208.4,160.4ZM53.2,164.4L56.6,163.9L58.2,164.9L55.5,165.6L53.1,164.9ZM226.1,467.1L227.6,468.7L229.1,470.0L231.6,471.2L235.0,472.1L232.7,473.0L229.1,472.6L229.8,474.2L227.3,474.0L224.9,473.0L222.4,471.7L220.3,470.5L222.8,470.5L223.5,469.7L225.4,469.2L223.2,468.7L222.9,467.5L224.2,467.0ZM218.6,300.8L221.0,300.5L220.6,302.4L218.5,302.5ZM109.8,201.7L107.2,200.8L106.0,199.8L103.8,197.4L103.9,195.6L105.9,195.6L108.9,197.5L110.0,199.8ZM166.0,149.8L171.1,151.3L173.2,152.7L180.6,152.9L184.9,152.0L190.2,151.8L193.0,149.6L188.4,148.3L190.5,145.2L191.9,143.1L188.4,142.7L187.1,144.6L184.7,143.1L177.9,142.7L169.7,144.2L166.7,146.1L171.1,146.5L166.4,147.8L170.7,148.5L166.8,148.3ZM461.7,207.9L461.0,209.2L459.7,211.0L462.5,215.7L464.7,218.3L467.1,220.4L468.1,222.0L470.2,222.7L468.4,223.5L468.3,225.4L467.9,227.7L469.7,230.1L473.3,231.9L476.6,232.2L479.8,231.7L479.0,228.8L478.2,226.2L475.9,223.5L474.9,220.9L477.3,220.1L478.1,219.1L475.8,218.3L473.6,218.3L472.1,216.2L469.9,214.1L467.5,212.1L469.0,210.5L471.9,209.5L471.8,206.6L469.2,205.3L466.4,205.8L463.6,206.9ZM196.2,300.1L197.1,301.6L197.1,303.7L195.9,305.0L195.1,303.7L195.3,301.6Z" fill="none" stroke="#8d949c" stroke-width="0.6" stroke-linejoin="round"/>
</g>
<g id="legend">
<rect x="69.5" y="538.3" width="47.5" height="10.2" fill="url(#hatch)" stroke="#b5b5b5" stroke-width="0.6"/>
<line x1="93.2" y1="534.5" x2="93.2" y2="538.3" stroke="#c8c8c8" stroke-width="0.8"/>
<rect x="136.5" y="538.3" width="58.8" height="10.2" fill="#f7fcfd"/>
<rect x="195.1" y="538.3" width="58.8" height="10.2" fill="#e0ecf4"/>
<rect x="253.7" y="538.3" width="58.8" height="10.2" fill="#bfd3e6"/>
<rect x="312.3" y="538.3" width="58.8" height="10.2" fill="#9ebcda"/>
<rect x="370.9" y="538.3" width="58.8" height="10.2" fill="#8c96c6"/>
<rect x="429.5" y="538.3" width="58.8" height="10.2" fill="#8c6bb1"/>
<rect x="488.1" y="538.3" width="58.8" height="10.2" fill="#88419d"/>
<rect x="546.7" y="538.3" width="58.8" height="10.2" fill="#852d8f"/>
<rect x="605.3" y="538.3" width="58.8" height="10.2" fill="#810f7c"/>
<rect x="663.9" y="538.3" width="58.8" height="10.2" fill="#6b0868"/>
<path d="M722.5,538.3H775.0L781.0,543.4L775.0,548.5H722.5Z" fill="#4d004b"/>
<path d="M136.5,538.3H775L781,543.4L775,548.5H136.5Z" fill="none" stroke="#b5b5b5" stroke-width="0.6"/>
<line x1="136.5" y1="534.8" x2="136.5" y2="538.3" stroke="#7a7a7a" stroke-width="0.7" opacity="0.6"/>
<text x="133.1" y="531.2" class="lg" textLength="7.4" lengthAdjust="spacingAndGlyphs">0</text>
<line x1="195.1" y1="534.8" x2="195.1" y2="548.5" stroke="#7a7a7a" stroke-width="0.7" opacity="0.6"/>
<text x="182.9" y="531.2" class="lg" textLength="25.0" lengthAdjust="spacingAndGlyphs">0.05</text>
<line x1="253.7" y1="534.8" x2="253.7" y2="548.5" stroke="#7a7a7a" stroke-width="0.7" opacity="0.6"/>
<text x="244.9" y="531.2" class="lg" textLength="18.2" lengthAdjust="spacingAndGlyphs">0.1</text>
<line x1="312.3" y1="534.8" x2="312.3" y2="548.5" stroke="#7a7a7a" stroke-width="0.7" opacity="0.6"/>
<text x="300.1" y="531.2" class="lg" textLength="25.0" lengthAdjust="spacingAndGlyphs">0.15</text>
<line x1="370.9" y1="534.8" x2="370.9" y2="548.5" stroke="#7a7a7a" stroke-width="0.7" opacity="0.6"/>
<text x="362.1" y="531.2" class="lg" textLength="18.2" lengthAdjust="spacingAndGlyphs">0.2</text>
<line x1="429.5" y1="534.8" x2="429.5" y2="548.5" stroke="#7a7a7a" stroke-width="0.7" opacity="0.6"/>
<text x="417.3" y="531.2" class="lg" textLength="25.0" lengthAdjust="spacingAndGlyphs">0.25</text>
<line x1="488.1" y1="534.8" x2="488.1" y2="548.5" stroke="#7a7a7a" stroke-width="0.7" opacity="0.6"/>
<text x="479.3" y="531.2" class="lg" textLength="18.2" lengthAdjust="spacingAndGlyphs">0.3</text>
<line x1="546.7" y1="534.8" x2="546.7" y2="548.5" stroke="#7a7a7a" stroke-width="0.7" opacity="0.6"/>
<text x="534.5" y="531.2" class="lg" textLength="25.0" lengthAdjust="spacingAndGlyphs">0.35</text>
<line x1="605.3" y1="534.8" x2="605.3" y2="548.5" stroke="#7a7a7a" stroke-width="0.7" opacity="0.6"/>
<text x="596.5" y="531.2" class="lg" textLength="18.2" lengthAdjust="spacingAndGlyphs">0.4</text>
<line x1="663.9" y1="534.8" x2="663.9" y2="548.5" stroke="#7a7a7a" stroke-width="0.7" opacity="0.6"/>
<text x="651.7" y="531.2" class="lg" textLength="25.0" lengthAdjust="spacingAndGlyphs">0.45</text>
<line x1="722.5" y1="534.8" x2="722.5" y2="548.5" stroke="#7a7a7a" stroke-width="0.7" opacity="0.6"/>
<text x="713.7" y="531.2" class="lg" textLength="18.2" lengthAdjust="spacingAndGlyphs">0.5</text>
<text x="69.7" y="531.2" class="lg" textLength="45.9" lengthAdjust="spacingAndGlyphs">No data</text>
</g>
<text x="16.8" y="581.2" class="ft"><tspan font-weight="700" textLength="70.8" lengthAdjust="spacingAndGlyphs">Data source:</tspan> <tspan x="92.4" textLength="311.3" lengthAdjust="spacingAndGlyphs">Human Mortality Database (2025); Aburto et al. (2023)</tspan></text>
<text x="696.8" y="581.2" class="ft" textLength="132.7" lengthAdjust="spacingAndGlyphs">life-expectancy | CC BY</text>
</svg>
</body></html>
